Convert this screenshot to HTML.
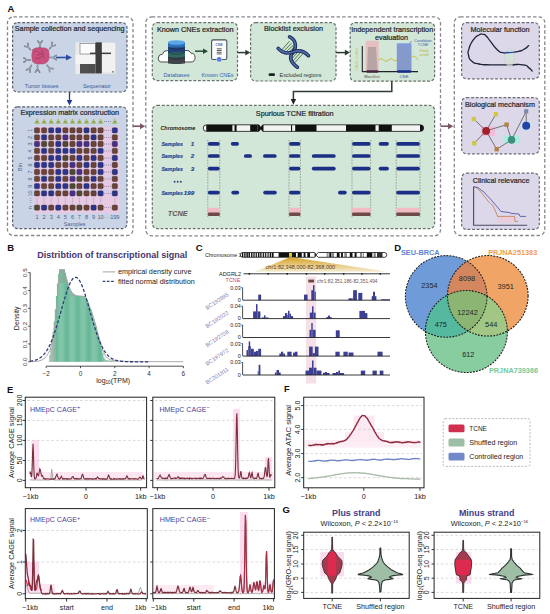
<!DOCTYPE html>
<html><head><meta charset="utf-8"><title>Figure</title>
<style>
html,body{margin:0;padding:0;background:#fff;}
body{width:550px;height:614px;overflow:hidden;}
svg{display:block;font-family:"Liberation Sans",sans-serif;}
</style></head><body>
<svg width="550" height="614" viewBox="0 0 550 614">
<rect x="0" y="0" width="550" height="614" fill="#fff"/>
<text x="7.5" y="12.3" font-size="9.5" fill="#111" text-anchor="start" font-weight="bold" >A</text>
<rect x="7.5" y="16.8" width="125.5" height="218.7" rx="6" fill="#fff" stroke="#85858f" stroke-width="1.3" stroke-dasharray="3.4,2.2" />
<rect x="145.8" y="16.8" width="294.7" height="219" rx="6" fill="#fff" stroke="#85858f" stroke-width="1.3" stroke-dasharray="3.4,2.2" />
<rect x="454.3" y="16.8" width="90.5" height="218.7" rx="6" fill="#fff" stroke="#85858f" stroke-width="1.3" stroke-dasharray="3.4,2.2" />
<rect x="12.6" y="22.6" width="114.4" height="69.4" rx="5" fill="#c9d5e6" stroke="#585e6b" stroke-width="1.2" stroke-dasharray="2.8,1.8" />
<rect x="12.6" y="106.8" width="114.4" height="121.8" rx="5" fill="#c9d5e6" stroke="#585e6b" stroke-width="1.2" stroke-dasharray="2.8,1.8" />
<rect x="152.3" y="22.6" width="85.2" height="58" rx="5" fill="#d2e7d7" stroke="#667168" stroke-width="1.2" stroke-dasharray="2.8,1.8" />
<rect x="250.6" y="22.6" width="85.4" height="58.4" rx="5" fill="#d2e7d7" stroke="#667168" stroke-width="1.2" stroke-dasharray="2.8,1.8" />
<rect x="350.2" y="22.6" width="84.4" height="58.6" rx="5" fill="#d2e7d7" stroke="#667168" stroke-width="1.2" stroke-dasharray="2.8,1.8" />
<rect x="152.3" y="105.4" width="282.3" height="123.2" rx="5" fill="#d2e7d7" stroke="#667168" stroke-width="1.2" stroke-dasharray="2.8,1.8" />
<rect x="461.6" y="22.6" width="77.7" height="56.2" rx="5" fill="#dcd8ea" stroke="#6a6876" stroke-width="1.2" stroke-dasharray="2.8,1.8" />
<rect x="461.6" y="97.6" width="77.7" height="56.2" rx="5" fill="#dcd8ea" stroke="#6a6876" stroke-width="1.2" stroke-dasharray="2.8,1.8" />
<rect x="461.6" y="173.2" width="77.7" height="56.2" rx="5" fill="#dcd8ea" stroke="#6a6876" stroke-width="1.2" stroke-dasharray="2.8,1.8" />
<text x="14.8" y="31.2" font-size="7.25" fill="#262a2f" text-anchor="start" stroke="#262a2f" stroke-width="0.22" textLength="109.7" lengthAdjust="spacingAndGlyphs">Sample collection and sequencing</text>
<text x="20.4" y="114.8" font-size="7.25" fill="#262a2f" text-anchor="start" stroke="#262a2f" stroke-width="0.22" textLength="98.6" lengthAdjust="spacingAndGlyphs">Expression matrix construction</text>
<text x="156.9" y="31.5" font-size="7.25" fill="#262a2f" text-anchor="start" stroke="#262a2f" stroke-width="0.22" textLength="76.6" lengthAdjust="spacingAndGlyphs">Known CNEs extraction</text>
<text x="264" y="31.2" font-size="7.25" fill="#262a2f" text-anchor="start" stroke="#262a2f" stroke-width="0.22" textLength="59" lengthAdjust="spacingAndGlyphs">Blocklist exclusion</text>
<text x="351.2" y="32.0" font-size="7.25" fill="#262a2f" text-anchor="start" stroke="#262a2f" stroke-width="0.22" textLength="82" lengthAdjust="spacingAndGlyphs">Independent transcription</text>
<text x="391.5" y="39.8" font-size="7.25" fill="#262a2f" text-anchor="middle" stroke="#262a2f" stroke-width="0.22">evaluation</text>
<text x="255.8" y="116.3" font-size="7.25" fill="#262a2f" text-anchor="start" stroke="#262a2f" stroke-width="0.22" textLength="77.8" lengthAdjust="spacingAndGlyphs">Spurious TCNE filtration</text>
<text x="470.5" y="31.5" font-size="7.25" fill="#262a2f" text-anchor="start" stroke="#262a2f" stroke-width="0.22" textLength="59" lengthAdjust="spacingAndGlyphs">Molecular function</text>
<text x="465" y="106.9" font-size="7.25" fill="#262a2f" text-anchor="start" stroke="#262a2f" stroke-width="0.22" textLength="70" lengthAdjust="spacingAndGlyphs">Biological mechanism</text>
<text x="472.7" y="182.5" font-size="7.25" fill="#262a2f" text-anchor="start" stroke="#262a2f" stroke-width="0.22" textLength="56.8" lengthAdjust="spacingAndGlyphs">Clinical relevance</text>
<path d="M132.8,126.2 L141,126.2" fill="none" stroke="#7d5563" stroke-width="1.6" />
<path d="M140,123.2 L145.2,126.2 L140,129.2 Z" fill="#7d5563" stroke="none" stroke-width="1" />
<path d="M440.8,126.2 L449,126.2" fill="none" stroke="#7d5563" stroke-width="1.6" />
<path d="M448,123.2 L453.4,126.2 L448,129.2 Z" fill="#7d5563" stroke="none" stroke-width="1" />
<path d="M69.5,92 L69.5,101" fill="none" stroke="#243a8a" stroke-width="1.3" />
<path d="M66.7,100 L69.5,105.5 L72.3,100 Z" fill="#243a8a" stroke="none" stroke-width="1" />
<g transform="translate(28.5,47.5) rotate(-40)"><path d="M0,3 L0,-0.5 M0,-0.5 L-2.2,-3.6 M0,-0.5 L2.2,-3.6" stroke="#5f6673" stroke-width="1.5" fill="none" stroke-linecap="round"/><path d="M0,3 L0,-0.5 M0,-0.5 L-2.2,-3.6 M0,-0.5 L2.2,-3.6" stroke="#b9bfca" stroke-width="0.6" fill="none" stroke-linecap="round"/></g>
<g transform="translate(40,44.5) rotate(0)"><path d="M0,3 L0,-0.5 M0,-0.5 L-2.2,-3.6 M0,-0.5 L2.2,-3.6" stroke="#5f6673" stroke-width="1.5" fill="none" stroke-linecap="round"/><path d="M0,3 L0,-0.5 M0,-0.5 L-2.2,-3.6 M0,-0.5 L2.2,-3.6" stroke="#b9bfca" stroke-width="0.6" fill="none" stroke-linecap="round"/></g>
<g transform="translate(51.5,46.5) rotate(40)"><path d="M0,3 L0,-0.5 M0,-0.5 L-2.2,-3.6 M0,-0.5 L2.2,-3.6" stroke="#5f6673" stroke-width="1.5" fill="none" stroke-linecap="round"/><path d="M0,3 L0,-0.5 M0,-0.5 L-2.2,-3.6 M0,-0.5 L2.2,-3.6" stroke="#b9bfca" stroke-width="0.6" fill="none" stroke-linecap="round"/></g>
<g transform="translate(52.5,57.5) rotate(90)"><path d="M0,3 L0,-0.5 M0,-0.5 L-2.2,-3.6 M0,-0.5 L2.2,-3.6" stroke="#5f6673" stroke-width="1.5" fill="none" stroke-linecap="round"/><path d="M0,3 L0,-0.5 M0,-0.5 L-2.2,-3.6 M0,-0.5 L2.2,-3.6" stroke="#b9bfca" stroke-width="0.6" fill="none" stroke-linecap="round"/></g>
<g transform="translate(49,67.5) rotate(140)"><path d="M0,3 L0,-0.5 M0,-0.5 L-2.2,-3.6 M0,-0.5 L2.2,-3.6" stroke="#5f6673" stroke-width="1.5" fill="none" stroke-linecap="round"/><path d="M0,3 L0,-0.5 M0,-0.5 L-2.2,-3.6 M0,-0.5 L2.2,-3.6" stroke="#b9bfca" stroke-width="0.6" fill="none" stroke-linecap="round"/></g>
<g transform="translate(37.5,68.5) rotate(180)"><path d="M0,3 L0,-0.5 M0,-0.5 L-2.2,-3.6 M0,-0.5 L2.2,-3.6" stroke="#5f6673" stroke-width="1.5" fill="none" stroke-linecap="round"/><path d="M0,3 L0,-0.5 M0,-0.5 L-2.2,-3.6 M0,-0.5 L2.2,-3.6" stroke="#b9bfca" stroke-width="0.6" fill="none" stroke-linecap="round"/></g>
<g transform="translate(30,68) rotate(-150)"><path d="M0,3 L0,-0.5 M0,-0.5 L-2.2,-3.6 M0,-0.5 L2.2,-3.6" stroke="#5f6673" stroke-width="1.5" fill="none" stroke-linecap="round"/><path d="M0,3 L0,-0.5 M0,-0.5 L-2.2,-3.6 M0,-0.5 L2.2,-3.6" stroke="#b9bfca" stroke-width="0.6" fill="none" stroke-linecap="round"/></g>
<g transform="translate(27.5,60) rotate(-90)"><path d="M0,3 L0,-0.5 M0,-0.5 L-2.2,-3.6 M0,-0.5 L2.2,-3.6" stroke="#5f6673" stroke-width="1.5" fill="none" stroke-linecap="round"/><path d="M0,3 L0,-0.5 M0,-0.5 L-2.2,-3.6 M0,-0.5 L2.2,-3.6" stroke="#b9bfca" stroke-width="0.6" fill="none" stroke-linecap="round"/></g>
<path d="M32.5,49.5 Q36,47 41,47.8 Q46.5,47 48.5,50 Q50,55.5 48.5,60.5 Q46,64.5 40.5,64 Q35,64.8 32.5,61.5 Q31,55.5 32.5,49.5 Z" fill="#c9507c" stroke="#9a3d62" stroke-width="0.4" />
<path d="M34,52 q3,-2 5,1 q2,3 5,0 M35,58 q3,2 6,-1 q2,-2 4,1 M42,50 q-1,4 2,6 M37,55 q2,1 3,-1" fill="none" stroke="#8a2f55" stroke-width="0.5" />
<path d="M56,57.5 L67,57.5" fill="none" stroke="#2c4fa3" stroke-width="1.6" />
<path d="M66,54.5 L72,57.5 L66,60.5 Z" fill="#2c4fa3" stroke="none" stroke-width="1" />
<rect x="75.5" y="42.5" width="40" height="31.5" rx="0" fill="#ebebeb" stroke="none" stroke-width="1" />
<rect x="101.8" y="42.5" width="13.7" height="30.5" rx="0" fill="#f1f1f1" stroke="#c8c8c8" stroke-width="0.4" />
<rect x="80" y="43.5" width="15.5" height="10.5" rx="0" fill="#fbfbfb" stroke="#555" stroke-width="0.5" />
<rect x="75.5" y="55" width="20" height="9" rx="0" fill="#f4f4f4" stroke="none" stroke-width="1" />
<rect x="95.5" y="42.3" width="6.3" height="31.2" rx="0" fill="#3d3d3d" stroke="none" stroke-width="1" />
<rect x="90" y="52.6" width="21" height="1.5" rx="0" fill="#3d3d3d" stroke="none" stroke-width="1" />
<rect x="80" y="64" width="15.5" height="9.5" rx="0" fill="#4e4e4e" stroke="none" stroke-width="1" />
<rect x="112" y="71.5" width="2" height="0.8" rx="0" fill="#333" stroke="none" stroke-width="1" />
<text x="24.8" y="87.5" font-size="5.5" fill="#3a5a96" text-anchor="start" textLength="33.6" lengthAdjust="spacingAndGlyphs">Tumor tissues</text>
<text x="83" y="87.5" font-size="5.5" fill="#3a5a96" text-anchor="start" textLength="27.8" lengthAdjust="spacingAndGlyphs">Sequenator</text>
<rect x="33" y="126.5" width="87" height="87" rx="0" fill="#e6c9e3" stroke="none" stroke-width="1" />
<rect x="33" y="133.5" width="87" height="3.0" rx="0" fill="#d2cfe6" stroke="none" stroke-width="1" opacity="0.7"/>
<rect x="33" y="147.5" width="87" height="3.0" rx="0" fill="#d2cfe6" stroke="none" stroke-width="1" opacity="0.7"/>
<rect x="33" y="161.5" width="87" height="3.0" rx="0" fill="#d2cfe6" stroke="none" stroke-width="1" opacity="0.7"/>
<rect x="33" y="175.5" width="87" height="3.0" rx="0" fill="#d2cfe6" stroke="none" stroke-width="1" opacity="0.7"/>
<rect x="33" y="189.5" width="87" height="3.0" rx="0" fill="#d2cfe6" stroke="none" stroke-width="1" opacity="0.7"/>
<rect x="34.35" y="127.65" width="5.3" height="5.3" rx="1.3" fill="#6c4236" stroke="#2a2a2a" stroke-width="0.35" />
<rect x="41.45" y="127.65" width="5.3" height="5.3" rx="1.3" fill="#6c4236" stroke="#2a2a2a" stroke-width="0.35" />
<rect x="48.55" y="127.65" width="5.3" height="5.3" rx="1.3" fill="#2c338f" stroke="#2a2a2a" stroke-width="0.35" />
<rect x="55.65" y="127.65" width="5.3" height="5.3" rx="1.3" fill="#2c338f" stroke="#2a2a2a" stroke-width="0.35" />
<rect x="62.75" y="127.65" width="5.3" height="5.3" rx="1.3" fill="#6c4236" stroke="#2a2a2a" stroke-width="0.35" />
<rect x="69.85" y="127.65" width="5.3" height="5.3" rx="1.3" fill="#6c4236" stroke="#2a2a2a" stroke-width="0.35" />
<rect x="76.75" y="127.65" width="5.3" height="5.3" rx="1.3" fill="#6c4236" stroke="#2a2a2a" stroke-width="0.35" />
<rect x="83.85" y="127.65" width="5.3" height="5.3" rx="1.3" fill="#2c338f" stroke="#2a2a2a" stroke-width="0.35" />
<rect x="90.95" y="127.65" width="5.3" height="5.3" rx="1.3" fill="#6c4236" stroke="#2a2a2a" stroke-width="0.35" />
<rect x="97.95" y="127.65" width="5.3" height="5.3" rx="1.3" fill="#6c4236" stroke="#2a2a2a" stroke-width="0.35" />
<rect x="112.15" y="127.65" width="5.3" height="5.3" rx="1.3" fill="#2c338f" stroke="#2a2a2a" stroke-width="0.35" />
<rect x="34.35" y="134.75" width="5.3" height="5.3" rx="1.3" fill="#6c4236" stroke="#2a2a2a" stroke-width="0.35" />
<rect x="41.45" y="134.75" width="5.3" height="5.3" rx="1.3" fill="#2c338f" stroke="#2a2a2a" stroke-width="0.35" />
<rect x="48.55" y="134.75" width="5.3" height="5.3" rx="1.3" fill="#6c4236" stroke="#2a2a2a" stroke-width="0.35" />
<rect x="55.65" y="134.75" width="5.3" height="5.3" rx="1.3" fill="#6c4236" stroke="#2a2a2a" stroke-width="0.35" />
<rect x="62.75" y="134.75" width="5.3" height="5.3" rx="1.3" fill="#4b2e8a" stroke="#2a2a2a" stroke-width="0.35" />
<rect x="69.85" y="134.75" width="5.3" height="5.3" rx="1.3" fill="#6c4236" stroke="#2a2a2a" stroke-width="0.35" />
<rect x="76.75" y="134.75" width="5.3" height="5.3" rx="1.3" fill="#6c4236" stroke="#2a2a2a" stroke-width="0.35" />
<rect x="83.85" y="134.75" width="5.3" height="5.3" rx="1.3" fill="#6c4236" stroke="#2a2a2a" stroke-width="0.35" />
<rect x="90.95" y="134.75" width="5.3" height="5.3" rx="1.3" fill="#2c338f" stroke="#2a2a2a" stroke-width="0.35" />
<rect x="97.95" y="134.75" width="5.3" height="5.3" rx="1.3" fill="#6c4236" stroke="#2a2a2a" stroke-width="0.35" />
<rect x="112.15" y="134.75" width="5.3" height="5.3" rx="1.3" fill="#6c4236" stroke="#2a2a2a" stroke-width="0.35" />
<rect x="34.35" y="141.35" width="5.3" height="5.3" rx="1.3" fill="#4b2e8a" stroke="#2a2a2a" stroke-width="0.35" />
<rect x="41.45" y="141.35" width="5.3" height="5.3" rx="1.3" fill="#4f4930" stroke="#2a2a2a" stroke-width="0.35" />
<rect x="48.55" y="141.35" width="5.3" height="5.3" rx="1.3" fill="#6c4236" stroke="#2a2a2a" stroke-width="0.35" />
<rect x="55.65" y="141.35" width="5.3" height="5.3" rx="1.3" fill="#2c338f" stroke="#2a2a2a" stroke-width="0.35" />
<rect x="62.75" y="141.35" width="5.3" height="5.3" rx="1.3" fill="#4f4930" stroke="#2a2a2a" stroke-width="0.35" />
<rect x="69.85" y="141.35" width="5.3" height="5.3" rx="1.3" fill="#6c4236" stroke="#2a2a2a" stroke-width="0.35" />
<rect x="76.75" y="141.35" width="5.3" height="5.3" rx="1.3" fill="#4b2e8a" stroke="#2a2a2a" stroke-width="0.35" />
<rect x="83.85" y="141.35" width="5.3" height="5.3" rx="1.3" fill="#4b2e8a" stroke="#2a2a2a" stroke-width="0.35" />
<rect x="90.95" y="141.35" width="5.3" height="5.3" rx="1.3" fill="#6c4236" stroke="#2a2a2a" stroke-width="0.35" />
<rect x="97.95" y="141.35" width="5.3" height="5.3" rx="1.3" fill="#6c4236" stroke="#2a2a2a" stroke-width="0.35" />
<rect x="112.15" y="141.35" width="5.3" height="5.3" rx="1.3" fill="#4b2e8a" stroke="#2a2a2a" stroke-width="0.35" />
<rect x="34.35" y="148.25" width="5.3" height="5.3" rx="1.3" fill="#6c4236" stroke="#2a2a2a" stroke-width="0.35" />
<rect x="41.45" y="148.25" width="5.3" height="5.3" rx="1.3" fill="#2c338f" stroke="#2a2a2a" stroke-width="0.35" />
<rect x="48.55" y="148.25" width="5.3" height="5.3" rx="1.3" fill="#6c4236" stroke="#2a2a2a" stroke-width="0.35" />
<rect x="55.65" y="148.25" width="5.3" height="5.3" rx="1.3" fill="#2c338f" stroke="#2a2a2a" stroke-width="0.35" />
<rect x="62.75" y="148.25" width="5.3" height="5.3" rx="1.3" fill="#2c338f" stroke="#2a2a2a" stroke-width="0.35" />
<rect x="69.85" y="148.25" width="5.3" height="5.3" rx="1.3" fill="#2c338f" stroke="#2a2a2a" stroke-width="0.35" />
<rect x="76.75" y="148.25" width="5.3" height="5.3" rx="1.3" fill="#6c4236" stroke="#2a2a2a" stroke-width="0.35" />
<rect x="83.85" y="148.25" width="5.3" height="5.3" rx="1.3" fill="#6c4236" stroke="#2a2a2a" stroke-width="0.35" />
<rect x="90.95" y="148.25" width="5.3" height="5.3" rx="1.3" fill="#6c4236" stroke="#2a2a2a" stroke-width="0.35" />
<rect x="97.95" y="148.25" width="5.3" height="5.3" rx="1.3" fill="#2c338f" stroke="#2a2a2a" stroke-width="0.35" />
<rect x="112.15" y="148.25" width="5.3" height="5.3" rx="1.3" fill="#6c4236" stroke="#2a2a2a" stroke-width="0.35" />
<rect x="34.35" y="155.35" width="5.3" height="5.3" rx="1.3" fill="#6c4236" stroke="#2a2a2a" stroke-width="0.35" />
<rect x="41.45" y="155.35" width="5.3" height="5.3" rx="1.3" fill="#6c4236" stroke="#2a2a2a" stroke-width="0.35" />
<rect x="48.55" y="155.35" width="5.3" height="5.3" rx="1.3" fill="#2c338f" stroke="#2a2a2a" stroke-width="0.35" />
<rect x="55.65" y="155.35" width="5.3" height="5.3" rx="1.3" fill="#2c338f" stroke="#2a2a2a" stroke-width="0.35" />
<rect x="62.75" y="155.35" width="5.3" height="5.3" rx="1.3" fill="#4f4930" stroke="#2a2a2a" stroke-width="0.35" />
<rect x="69.85" y="155.35" width="5.3" height="5.3" rx="1.3" fill="#6c4236" stroke="#2a2a2a" stroke-width="0.35" />
<rect x="76.75" y="155.35" width="5.3" height="5.3" rx="1.3" fill="#2c338f" stroke="#2a2a2a" stroke-width="0.35" />
<rect x="83.85" y="155.35" width="5.3" height="5.3" rx="1.3" fill="#6c4236" stroke="#2a2a2a" stroke-width="0.35" />
<rect x="90.95" y="155.35" width="5.3" height="5.3" rx="1.3" fill="#2c338f" stroke="#2a2a2a" stroke-width="0.35" />
<rect x="97.95" y="155.35" width="5.3" height="5.3" rx="1.3" fill="#6c4236" stroke="#2a2a2a" stroke-width="0.35" />
<rect x="112.15" y="155.35" width="5.3" height="5.3" rx="1.3" fill="#2c338f" stroke="#2a2a2a" stroke-width="0.35" />
<rect x="34.35" y="162.35" width="5.3" height="5.3" rx="1.3" fill="#2c338f" stroke="#2a2a2a" stroke-width="0.35" />
<rect x="41.45" y="162.35" width="5.3" height="5.3" rx="1.3" fill="#2c338f" stroke="#2a2a2a" stroke-width="0.35" />
<rect x="48.55" y="162.35" width="5.3" height="5.3" rx="1.3" fill="#2c338f" stroke="#2a2a2a" stroke-width="0.35" />
<rect x="55.65" y="162.35" width="5.3" height="5.3" rx="1.3" fill="#6c4236" stroke="#2a2a2a" stroke-width="0.35" />
<rect x="62.75" y="162.35" width="5.3" height="5.3" rx="1.3" fill="#6c4236" stroke="#2a2a2a" stroke-width="0.35" />
<rect x="69.85" y="162.35" width="5.3" height="5.3" rx="1.3" fill="#4b2e8a" stroke="#2a2a2a" stroke-width="0.35" />
<rect x="76.75" y="162.35" width="5.3" height="5.3" rx="1.3" fill="#6c4236" stroke="#2a2a2a" stroke-width="0.35" />
<rect x="83.85" y="162.35" width="5.3" height="5.3" rx="1.3" fill="#2c338f" stroke="#2a2a2a" stroke-width="0.35" />
<rect x="90.95" y="162.35" width="5.3" height="5.3" rx="1.3" fill="#6c4236" stroke="#2a2a2a" stroke-width="0.35" />
<rect x="97.95" y="162.35" width="5.3" height="5.3" rx="1.3" fill="#2c338f" stroke="#2a2a2a" stroke-width="0.35" />
<rect x="112.15" y="162.35" width="5.3" height="5.3" rx="1.3" fill="#6c4236" stroke="#2a2a2a" stroke-width="0.35" />
<rect x="34.35" y="169.35" width="5.3" height="5.3" rx="1.3" fill="#6c4236" stroke="#2a2a2a" stroke-width="0.35" />
<rect x="41.45" y="169.35" width="5.3" height="5.3" rx="1.3" fill="#6c4236" stroke="#2a2a2a" stroke-width="0.35" />
<rect x="48.55" y="169.35" width="5.3" height="5.3" rx="1.3" fill="#6c4236" stroke="#2a2a2a" stroke-width="0.35" />
<rect x="55.65" y="169.35" width="5.3" height="5.3" rx="1.3" fill="#2c338f" stroke="#2a2a2a" stroke-width="0.35" />
<rect x="62.75" y="169.35" width="5.3" height="5.3" rx="1.3" fill="#2c338f" stroke="#2a2a2a" stroke-width="0.35" />
<rect x="69.85" y="169.35" width="5.3" height="5.3" rx="1.3" fill="#4f4930" stroke="#2a2a2a" stroke-width="0.35" />
<rect x="76.75" y="169.35" width="5.3" height="5.3" rx="1.3" fill="#4b2e8a" stroke="#2a2a2a" stroke-width="0.35" />
<rect x="83.85" y="169.35" width="5.3" height="5.3" rx="1.3" fill="#6c4236" stroke="#2a2a2a" stroke-width="0.35" />
<rect x="90.95" y="169.35" width="5.3" height="5.3" rx="1.3" fill="#6c4236" stroke="#2a2a2a" stroke-width="0.35" />
<rect x="97.95" y="169.35" width="5.3" height="5.3" rx="1.3" fill="#2c338f" stroke="#2a2a2a" stroke-width="0.35" />
<rect x="112.15" y="169.35" width="5.3" height="5.3" rx="1.3" fill="#2c338f" stroke="#2a2a2a" stroke-width="0.35" />
<rect x="34.35" y="176.25" width="5.3" height="5.3" rx="1.3" fill="#6c4236" stroke="#2a2a2a" stroke-width="0.35" />
<rect x="41.45" y="176.25" width="5.3" height="5.3" rx="1.3" fill="#2c338f" stroke="#2a2a2a" stroke-width="0.35" />
<rect x="48.55" y="176.25" width="5.3" height="5.3" rx="1.3" fill="#6c4236" stroke="#2a2a2a" stroke-width="0.35" />
<rect x="55.65" y="176.25" width="5.3" height="5.3" rx="1.3" fill="#2c338f" stroke="#2a2a2a" stroke-width="0.35" />
<rect x="62.75" y="176.25" width="5.3" height="5.3" rx="1.3" fill="#6c4236" stroke="#2a2a2a" stroke-width="0.35" />
<rect x="69.85" y="176.25" width="5.3" height="5.3" rx="1.3" fill="#4b2e8a" stroke="#2a2a2a" stroke-width="0.35" />
<rect x="76.75" y="176.25" width="5.3" height="5.3" rx="1.3" fill="#4f4930" stroke="#2a2a2a" stroke-width="0.35" />
<rect x="83.85" y="176.25" width="5.3" height="5.3" rx="1.3" fill="#6c4236" stroke="#2a2a2a" stroke-width="0.35" />
<rect x="90.95" y="176.25" width="5.3" height="5.3" rx="1.3" fill="#2c338f" stroke="#2a2a2a" stroke-width="0.35" />
<rect x="97.95" y="176.25" width="5.3" height="5.3" rx="1.3" fill="#6c4236" stroke="#2a2a2a" stroke-width="0.35" />
<rect x="112.15" y="176.25" width="5.3" height="5.3" rx="1.3" fill="#6c4236" stroke="#2a2a2a" stroke-width="0.35" />
<rect x="34.35" y="183.55" width="5.3" height="5.3" rx="1.3" fill="#2c338f" stroke="#2a2a2a" stroke-width="0.35" />
<rect x="41.45" y="183.55" width="5.3" height="5.3" rx="1.3" fill="#6c4236" stroke="#2a2a2a" stroke-width="0.35" />
<rect x="48.55" y="183.55" width="5.3" height="5.3" rx="1.3" fill="#6c4236" stroke="#2a2a2a" stroke-width="0.35" />
<rect x="55.65" y="183.55" width="5.3" height="5.3" rx="1.3" fill="#2c338f" stroke="#2a2a2a" stroke-width="0.35" />
<rect x="62.75" y="183.55" width="5.3" height="5.3" rx="1.3" fill="#2c338f" stroke="#2a2a2a" stroke-width="0.35" />
<rect x="69.85" y="183.55" width="5.3" height="5.3" rx="1.3" fill="#4f4930" stroke="#2a2a2a" stroke-width="0.35" />
<rect x="76.75" y="183.55" width="5.3" height="5.3" rx="1.3" fill="#6c4236" stroke="#2a2a2a" stroke-width="0.35" />
<rect x="83.85" y="183.55" width="5.3" height="5.3" rx="1.3" fill="#2c338f" stroke="#2a2a2a" stroke-width="0.35" />
<rect x="90.95" y="183.55" width="5.3" height="5.3" rx="1.3" fill="#6c4236" stroke="#2a2a2a" stroke-width="0.35" />
<rect x="97.95" y="183.55" width="5.3" height="5.3" rx="1.3" fill="#6c4236" stroke="#2a2a2a" stroke-width="0.35" />
<rect x="112.15" y="183.55" width="5.3" height="5.3" rx="1.3" fill="#6c4236" stroke="#2a2a2a" stroke-width="0.35" />
<rect x="34.35" y="190.75" width="5.3" height="5.3" rx="1.3" fill="#6c4236" stroke="#2a2a2a" stroke-width="0.35" />
<rect x="41.45" y="190.75" width="5.3" height="5.3" rx="1.3" fill="#2c338f" stroke="#2a2a2a" stroke-width="0.35" />
<rect x="48.55" y="190.75" width="5.3" height="5.3" rx="1.3" fill="#2c338f" stroke="#2a2a2a" stroke-width="0.35" />
<rect x="55.65" y="190.75" width="5.3" height="5.3" rx="1.3" fill="#6c4236" stroke="#2a2a2a" stroke-width="0.35" />
<rect x="62.75" y="190.75" width="5.3" height="5.3" rx="1.3" fill="#6c4236" stroke="#2a2a2a" stroke-width="0.35" />
<rect x="69.85" y="190.75" width="5.3" height="5.3" rx="1.3" fill="#4b2e8a" stroke="#2a2a2a" stroke-width="0.35" />
<rect x="76.75" y="190.75" width="5.3" height="5.3" rx="1.3" fill="#4f4930" stroke="#2a2a2a" stroke-width="0.35" />
<rect x="83.85" y="190.75" width="5.3" height="5.3" rx="1.3" fill="#6c4236" stroke="#2a2a2a" stroke-width="0.35" />
<rect x="90.95" y="190.75" width="5.3" height="5.3" rx="1.3" fill="#6c4236" stroke="#2a2a2a" stroke-width="0.35" />
<rect x="97.95" y="190.75" width="5.3" height="5.3" rx="1.3" fill="#2c338f" stroke="#2a2a2a" stroke-width="0.35" />
<rect x="112.15" y="190.75" width="5.3" height="5.3" rx="1.3" fill="#2c338f" stroke="#2a2a2a" stroke-width="0.35" />
<rect x="34.35" y="204.95" width="5.3" height="5.3" rx="1.3" fill="#4f4930" stroke="#2a2a2a" stroke-width="0.35" />
<rect x="41.45" y="204.95" width="5.3" height="5.3" rx="1.3" fill="#2c338f" stroke="#2a2a2a" stroke-width="0.35" />
<rect x="48.55" y="204.95" width="5.3" height="5.3" rx="1.3" fill="#6c4236" stroke="#2a2a2a" stroke-width="0.35" />
<rect x="55.65" y="204.95" width="5.3" height="5.3" rx="1.3" fill="#2c338f" stroke="#2a2a2a" stroke-width="0.35" />
<rect x="62.75" y="204.95" width="5.3" height="5.3" rx="1.3" fill="#6c4236" stroke="#2a2a2a" stroke-width="0.35" />
<rect x="69.85" y="204.95" width="5.3" height="5.3" rx="1.3" fill="#6c4236" stroke="#2a2a2a" stroke-width="0.35" />
<rect x="76.75" y="204.95" width="5.3" height="5.3" rx="1.3" fill="#4f4930" stroke="#2a2a2a" stroke-width="0.35" />
<rect x="83.85" y="204.95" width="5.3" height="5.3" rx="1.3" fill="#6c4236" stroke="#2a2a2a" stroke-width="0.35" />
<rect x="90.95" y="204.95" width="5.3" height="5.3" rx="1.3" fill="#2c338f" stroke="#2a2a2a" stroke-width="0.35" />
<rect x="97.95" y="204.95" width="5.3" height="5.3" rx="1.3" fill="#6c4236" stroke="#2a2a2a" stroke-width="0.35" />
<rect x="112.15" y="204.95" width="5.3" height="5.3" rx="1.3" fill="#6c4236" stroke="#2a2a2a" stroke-width="0.35" />
<path d="M34.6,123.5 L37,118.8 L39.4,123.5 Z" fill="#c8c35a" stroke="#9a9a45" stroke-width="0.3" />
<rect x="35.7" y="121.2" width="2.6" height="1.6" rx="0" fill="#6aa86a" stroke="none" stroke-width="1" />
<path d="M41.7,123.5 L44.1,118.8 L46.5,123.5 Z" fill="#c8c35a" stroke="#9a9a45" stroke-width="0.3" />
<rect x="42.800000000000004" y="121.2" width="2.6" height="1.6" rx="0" fill="#6aa86a" stroke="none" stroke-width="1" />
<path d="M48.800000000000004,123.5 L51.2,118.8 L53.6,123.5 Z" fill="#c8c35a" stroke="#9a9a45" stroke-width="0.3" />
<rect x="49.900000000000006" y="121.2" width="2.6" height="1.6" rx="0" fill="#6aa86a" stroke="none" stroke-width="1" />
<path d="M55.9,123.5 L58.3,118.8 L60.699999999999996,123.5 Z" fill="#c8c35a" stroke="#9a9a45" stroke-width="0.3" />
<rect x="57.0" y="121.2" width="2.6" height="1.6" rx="0" fill="#6aa86a" stroke="none" stroke-width="1" />
<path d="M63.00000000000001,123.5 L65.4,118.8 L67.80000000000001,123.5 Z" fill="#c8c35a" stroke="#9a9a45" stroke-width="0.3" />
<rect x="64.10000000000001" y="121.2" width="2.6" height="1.6" rx="0" fill="#6aa86a" stroke="none" stroke-width="1" />
<path d="M70.1,123.5 L72.5,118.8 L74.9,123.5 Z" fill="#c8c35a" stroke="#9a9a45" stroke-width="0.3" />
<rect x="71.2" y="121.2" width="2.6" height="1.6" rx="0" fill="#6aa86a" stroke="none" stroke-width="1" />
<path d="M77.0,123.5 L79.4,118.8 L81.80000000000001,123.5 Z" fill="#c8c35a" stroke="#9a9a45" stroke-width="0.3" />
<rect x="78.10000000000001" y="121.2" width="2.6" height="1.6" rx="0" fill="#6aa86a" stroke="none" stroke-width="1" />
<path d="M84.1,123.5 L86.5,118.8 L88.9,123.5 Z" fill="#c8c35a" stroke="#9a9a45" stroke-width="0.3" />
<rect x="85.2" y="121.2" width="2.6" height="1.6" rx="0" fill="#6aa86a" stroke="none" stroke-width="1" />
<path d="M91.19999999999999,123.5 L93.6,118.8 L96.0,123.5 Z" fill="#c8c35a" stroke="#9a9a45" stroke-width="0.3" />
<rect x="92.3" y="121.2" width="2.6" height="1.6" rx="0" fill="#6aa86a" stroke="none" stroke-width="1" />
<path d="M98.19999999999999,123.5 L100.6,118.8 L103.0,123.5 Z" fill="#c8c35a" stroke="#9a9a45" stroke-width="0.3" />
<rect x="99.3" y="121.2" width="2.6" height="1.6" rx="0" fill="#6aa86a" stroke="none" stroke-width="1" />
<path d="M112.39999999999999,123.5 L114.8,118.8 L117.2,123.5 Z" fill="#c8c35a" stroke="#9a9a45" stroke-width="0.3" />
<rect x="113.5" y="121.2" width="2.6" height="1.6" rx="0" fill="#6aa86a" stroke="none" stroke-width="1" />
<circle cx="104.4" cy="130.3" r="0.45" fill="#3d4a72"/>
<circle cx="106.3" cy="130.3" r="0.45" fill="#3d4a72"/>
<circle cx="108.2" cy="130.3" r="0.45" fill="#3d4a72"/>
<circle cx="110.1" cy="130.3" r="0.45" fill="#3d4a72"/>
<circle cx="104.4" cy="137.4" r="0.45" fill="#3d4a72"/>
<circle cx="106.3" cy="137.4" r="0.45" fill="#3d4a72"/>
<circle cx="108.2" cy="137.4" r="0.45" fill="#3d4a72"/>
<circle cx="110.1" cy="137.4" r="0.45" fill="#3d4a72"/>
<circle cx="104.4" cy="144.0" r="0.45" fill="#3d4a72"/>
<circle cx="106.3" cy="144.0" r="0.45" fill="#3d4a72"/>
<circle cx="108.2" cy="144.0" r="0.45" fill="#3d4a72"/>
<circle cx="110.1" cy="144.0" r="0.45" fill="#3d4a72"/>
<circle cx="104.4" cy="150.9" r="0.45" fill="#3d4a72"/>
<circle cx="106.3" cy="150.9" r="0.45" fill="#3d4a72"/>
<circle cx="108.2" cy="150.9" r="0.45" fill="#3d4a72"/>
<circle cx="110.1" cy="150.9" r="0.45" fill="#3d4a72"/>
<circle cx="104.4" cy="158.0" r="0.45" fill="#3d4a72"/>
<circle cx="106.3" cy="158.0" r="0.45" fill="#3d4a72"/>
<circle cx="108.2" cy="158.0" r="0.45" fill="#3d4a72"/>
<circle cx="110.1" cy="158.0" r="0.45" fill="#3d4a72"/>
<circle cx="104.4" cy="165.0" r="0.45" fill="#3d4a72"/>
<circle cx="106.3" cy="165.0" r="0.45" fill="#3d4a72"/>
<circle cx="108.2" cy="165.0" r="0.45" fill="#3d4a72"/>
<circle cx="110.1" cy="165.0" r="0.45" fill="#3d4a72"/>
<circle cx="104.4" cy="172.0" r="0.45" fill="#3d4a72"/>
<circle cx="106.3" cy="172.0" r="0.45" fill="#3d4a72"/>
<circle cx="108.2" cy="172.0" r="0.45" fill="#3d4a72"/>
<circle cx="110.1" cy="172.0" r="0.45" fill="#3d4a72"/>
<circle cx="104.4" cy="178.9" r="0.45" fill="#3d4a72"/>
<circle cx="106.3" cy="178.9" r="0.45" fill="#3d4a72"/>
<circle cx="108.2" cy="178.9" r="0.45" fill="#3d4a72"/>
<circle cx="110.1" cy="178.9" r="0.45" fill="#3d4a72"/>
<circle cx="104.4" cy="186.2" r="0.45" fill="#3d4a72"/>
<circle cx="106.3" cy="186.2" r="0.45" fill="#3d4a72"/>
<circle cx="108.2" cy="186.2" r="0.45" fill="#3d4a72"/>
<circle cx="110.1" cy="186.2" r="0.45" fill="#3d4a72"/>
<circle cx="104.4" cy="193.4" r="0.45" fill="#3d4a72"/>
<circle cx="106.3" cy="193.4" r="0.45" fill="#3d4a72"/>
<circle cx="108.2" cy="193.4" r="0.45" fill="#3d4a72"/>
<circle cx="110.1" cy="193.4" r="0.45" fill="#3d4a72"/>
<circle cx="104.4" cy="207.6" r="0.45" fill="#3d4a72"/>
<circle cx="106.3" cy="207.6" r="0.45" fill="#3d4a72"/>
<circle cx="108.2" cy="207.6" r="0.45" fill="#3d4a72"/>
<circle cx="110.1" cy="207.6" r="0.45" fill="#3d4a72"/>
<circle cx="104.4" cy="121.5" r="0.45" fill="#3d4a72"/>
<circle cx="106.3" cy="121.5" r="0.45" fill="#3d4a72"/>
<circle cx="108.2" cy="121.5" r="0.45" fill="#3d4a72"/>
<circle cx="110.1" cy="121.5" r="0.45" fill="#3d4a72"/>
<line x1="37" y1="198" x2="37" y2="203.5" stroke="#6a6a8a" stroke-width="0.5" stroke-dasharray="0.8,0.8" />
<line x1="44.1" y1="198" x2="44.1" y2="203.5" stroke="#6a6a8a" stroke-width="0.5" stroke-dasharray="0.8,0.8" />
<line x1="51.2" y1="198" x2="51.2" y2="203.5" stroke="#6a6a8a" stroke-width="0.5" stroke-dasharray="0.8,0.8" />
<line x1="58.3" y1="198" x2="58.3" y2="203.5" stroke="#6a6a8a" stroke-width="0.5" stroke-dasharray="0.8,0.8" />
<line x1="65.4" y1="198" x2="65.4" y2="203.5" stroke="#6a6a8a" stroke-width="0.5" stroke-dasharray="0.8,0.8" />
<line x1="72.5" y1="198" x2="72.5" y2="203.5" stroke="#6a6a8a" stroke-width="0.5" stroke-dasharray="0.8,0.8" />
<line x1="79.4" y1="198" x2="79.4" y2="203.5" stroke="#6a6a8a" stroke-width="0.5" stroke-dasharray="0.8,0.8" />
<line x1="86.5" y1="198" x2="86.5" y2="203.5" stroke="#6a6a8a" stroke-width="0.5" stroke-dasharray="0.8,0.8" />
<line x1="93.6" y1="198" x2="93.6" y2="203.5" stroke="#6a6a8a" stroke-width="0.5" stroke-dasharray="0.8,0.8" />
<line x1="100.6" y1="198" x2="100.6" y2="203.5" stroke="#6a6a8a" stroke-width="0.5" stroke-dasharray="0.8,0.8" />
<line x1="114.8" y1="198" x2="114.8" y2="203.5" stroke="#6a6a8a" stroke-width="0.5" stroke-dasharray="0.8,0.8" />
<text transform="translate(31.5,130.3) rotate(-90)" font-size="5.5" fill="#4a5e8c" text-anchor="middle">1</text>
<text transform="translate(31.5,137.4) rotate(-90)" font-size="5.5" fill="#4a5e8c" text-anchor="middle">2</text>
<text transform="translate(31.5,144.0) rotate(-90)" font-size="5.5" fill="#4a5e8c" text-anchor="middle">3</text>
<text transform="translate(31.5,150.9) rotate(-90)" font-size="5.5" fill="#4a5e8c" text-anchor="middle">4</text>
<text transform="translate(31.5,158.0) rotate(-90)" font-size="5.5" fill="#4a5e8c" text-anchor="middle">5</text>
<text transform="translate(31.5,165.0) rotate(-90)" font-size="5.5" fill="#4a5e8c" text-anchor="middle">6</text>
<text transform="translate(31.5,172.0) rotate(-90)" font-size="5.5" fill="#4a5e8c" text-anchor="middle">7</text>
<text transform="translate(31.5,178.9) rotate(-90)" font-size="5.5" fill="#4a5e8c" text-anchor="middle">8</text>
<text transform="translate(31.5,186.2) rotate(-90)" font-size="5.5" fill="#4a5e8c" text-anchor="middle">9</text>
<text transform="translate(31.5,193.4) rotate(-90)" font-size="5.5" fill="#4a5e8c" text-anchor="middle">10</text>
<text transform="translate(31.5,207.6) rotate(-90)" font-size="5.5" fill="#4a5e8c" text-anchor="middle">n</text>
<text transform="translate(31.5,200.5) rotate(-90)" font-size="5" fill="#4a5e8c" text-anchor="middle">⋯</text>
<text transform="translate(21.5,167) rotate(-90)" font-size="5.5" fill="#4a5e8c" text-anchor="middle">Bin</text>
<text x="37" y="219.3" font-size="5.6" fill="#4a5e8c" text-anchor="middle" >1</text>
<text x="44.1" y="219.3" font-size="5.6" fill="#4a5e8c" text-anchor="middle" >2</text>
<text x="51.2" y="219.3" font-size="5.6" fill="#4a5e8c" text-anchor="middle" >3</text>
<text x="58.3" y="219.3" font-size="5.6" fill="#4a5e8c" text-anchor="middle" >4</text>
<text x="65.4" y="219.3" font-size="5.6" fill="#4a5e8c" text-anchor="middle" >5</text>
<text x="72.5" y="219.3" font-size="5.6" fill="#4a5e8c" text-anchor="middle" >6</text>
<text x="79.4" y="219.3" font-size="5.6" fill="#4a5e8c" text-anchor="middle" >7</text>
<text x="86.5" y="219.3" font-size="5.6" fill="#4a5e8c" text-anchor="middle" >8</text>
<text x="93.6" y="219.3" font-size="5.6" fill="#4a5e8c" text-anchor="middle" >9</text>
<text x="100.6" y="219.3" font-size="5.6" fill="#4a5e8c" text-anchor="middle" >10</text>
<text x="107" y="219.3" font-size="5" fill="#4a5e8c" text-anchor="middle" >····</text>
<text x="114.8" y="219.3" font-size="5.6" fill="#4a5e8c" text-anchor="middle" >199</text>
<text x="74.7" y="226.0" font-size="5.6" fill="#4a5e8c" text-anchor="middle" >Samples</text>
<path d="M162,62 Q158,62 158.3,58 Q158.6,54.2 162.5,54.2 Q163,50.5 167.5,50.5 L186,50.5 Q189.5,49.8 191,53.2 Q195,53.2 195,57.6 Q195,62 191,62 Z" fill="#fff" stroke="#3a3a3a" stroke-width="0.9" />
<rect x="168.0" y="42.5" width="17.0" height="21.0" rx="0" fill="#3c4148" stroke="none" stroke-width="1" />
<rect x="168.0" y="42.5" width="17.0" height="4.9" rx="0" fill="#2f6fb8" stroke="none" stroke-width="1" />
<ellipse cx="176.5" cy="47.4" rx="8.5" ry="2.0" fill="#2f6fb8"/>
<rect x="168.0" y="47.4" width="17.0" height="4.9" rx="0" fill="#22417a" stroke="none" stroke-width="1" />
<ellipse cx="176.5" cy="52.3" rx="8.5" ry="2.0" fill="#22417a"/>
<rect x="168.0" y="52.3" width="17.0" height="4.9" rx="0" fill="#2e6a62" stroke="none" stroke-width="1" />
<ellipse cx="176.5" cy="57.199999999999996" rx="8.5" ry="2.0" fill="#2e6a62"/>
<rect x="168.0" y="57.2" width="17.0" height="4.9" rx="0" fill="#3e4449" stroke="none" stroke-width="1" />
<ellipse cx="176.5" cy="62.1" rx="8.5" ry="2.0" fill="#3e4449"/>
<ellipse cx="176.5" cy="42.5" rx="8.5" ry="2.3" fill="#5aa6e8"/>
<path d="M168.0,47.4 Q176.5,51.4 185.0,47.4" fill="none" stroke="#16202c" stroke-width="0.5" />
<path d="M168.0,52.3 Q176.5,56.3 185.0,52.3" fill="none" stroke="#16202c" stroke-width="0.5" />
<path d="M168.0,57.2 Q176.5,61.2 185.0,57.2" fill="none" stroke="#16202c" stroke-width="0.5" />
<path d="M195,51.2 L203.5,51.2" fill="none" stroke="#274a38" stroke-width="1.5" />
<path d="M203,48.4 L208,51.2 L203,54 Z" fill="#274a38" stroke="none" stroke-width="1" />
<rect x="211.6" y="39.9" width="15.2" height="19.6" rx="1.5" fill="#fbfbfb" stroke="#46525a" stroke-width="1.1" />
<text x="219.2" y="45.8" font-size="3.4" fill="#4a6ab0" text-anchor="middle" font-weight="bold" >CNE</text>
<rect x="216.8" y="48.4" width="4.8" height="0.9" rx="0" fill="#4a4a4a" stroke="none" stroke-width="1" />
<rect x="216.8" y="50.1" width="4.8" height="0.9" rx="0" fill="#4a4a4a" stroke="none" stroke-width="1" />
<rect x="216.8" y="51.8" width="4.8" height="0.9" rx="0" fill="#4a4a4a" stroke="none" stroke-width="1" />
<rect x="216.8" y="53.5" width="4.8" height="0.9" rx="0" fill="#4a4a4a" stroke="none" stroke-width="1" />
<circle cx="219.2" cy="59.4" r="2.7" fill="#3e6ad0" stroke="#fff" stroke-width="0.6"/>
<path d="M218,59.4 L219,60.4 L220.6,58.5" fill="none" stroke="#fff" stroke-width="0.5" />
<text x="163.4" y="76.5" font-size="5.5" fill="#3a5fae" text-anchor="start" textLength="26.2" lengthAdjust="spacingAndGlyphs">Databases</text>
<text x="201.5" y="76.5" font-size="5.5" fill="#3a5fae" text-anchor="start" textLength="32" lengthAdjust="spacingAndGlyphs">Known CNEs</text>
<path d="M237.6,52.6 L245.8,52.6" fill="none" stroke="#2a3a30" stroke-width="1.5" />
<path d="M245.3,49.8 L250.3,52.6 L245.3,55.4 Z" fill="#2a3a30" stroke="none" stroke-width="1" />
<path d="M336.1,52.6 L345.4,52.6" fill="none" stroke="#2a3a30" stroke-width="1.5" />
<path d="M344.9,49.8 L349.9,52.6 L344.9,55.4 Z" fill="#2a3a30" stroke="none" stroke-width="1" />
<line x1="281.5" y1="50.3" x2="289.5" y2="41.2" stroke="#2e5a30" stroke-width="0.8" />
<line x1="283.5" y1="51.5" x2="291.5" y2="43.2" stroke="#2e5a30" stroke-width="0.8" />
<line x1="285.5" y1="52.4" x2="293" y2="45.5" stroke="#2e5a30" stroke-width="0.8" />
<line x1="287.8" y1="53" x2="293.8" y2="48" stroke="#2e5a30" stroke-width="0.8" />
<line x1="291" y1="56.5" x2="296" y2="51.8" stroke="#2e5a30" stroke-width="0.8" />
<line x1="291.5" y1="59" x2="298.5" y2="51.5" stroke="#2e5a30" stroke-width="0.8" />
<line x1="292.5" y1="61.5" x2="301" y2="52" stroke="#2e5a30" stroke-width="0.8" />
<line x1="294" y1="63.5" x2="303.5" y2="53" stroke="#2e5a30" stroke-width="0.8" />
<path d="M289.6,36.9 C296,40 297,47 293,52 C289,57 290,62 297.4,67.2" fill="none" stroke="#1f2b52" stroke-width="3.6" stroke-linecap="round"/>
<path d="M289.6,36.9 C296,40 297,47 293,52 C289,57 290,62 297.4,67.2" fill="none" stroke="#4d69ab" stroke-width="1.7" stroke-linecap="round"/>
<path d="M278.2,48.4 C282,53 288,54 293,52 C298,50 303,50 308.5,55.7" fill="none" stroke="#1f2b52" stroke-width="3.6" stroke-linecap="round"/>
<path d="M278.2,48.4 C282,53 288,54 293,52 C298,50 303,50 308.5,55.7" fill="none" stroke="#4d69ab" stroke-width="1.7" stroke-linecap="round"/>
<rect x="268.6" y="73.2" width="6.4" height="2.8" rx="1.2" fill="#1f2326" stroke="none" stroke-width="1" />
<text x="279.5" y="76.5" font-size="5.5" fill="#333" text-anchor="start" textLength="41.9" lengthAdjust="spacingAndGlyphs">Excluded regions</text>
<rect x="365.7" y="40.8" width="13" height="30.7" rx="0" fill="#e9b9be" stroke="none" stroke-width="1" opacity="0.9"/>
<path d="M367,71.5 L368,47 L376,47 L377.5,71.5 Z" fill="#a89a9c" stroke="none" stroke-width="1" opacity="0.75"/>
<rect x="396.8" y="43.3" width="14.7" height="28.2" rx="0" fill="#7f9bdc" stroke="none" stroke-width="1" />
<path d="M397.5,71.5 L398.5,46 L410,46 L411,71.5 Z" fill="#8f96b4" stroke="none" stroke-width="1" opacity="0.45"/>
<path d="M378.5,60 q2.5,-3 5,0 q2.5,3 5,0 q2.5,-3 5,0 q2,2 3.5,0 M411.5,57 q2.5,-2 4,0 q1.5,2 3,3" fill="none" stroke="#c9bb45" stroke-width="1.0" />
<line x1="362.3" y1="46" x2="362.3" y2="72" stroke="#222" stroke-width="1.1" />
<line x1="362.3" y1="71.6" x2="418" y2="71.6" stroke="#222" stroke-width="1.1" />
<rect x="366.2" y="70.3" width="12.3" height="2.5" rx="1.2" fill="#4a2340" stroke="none" stroke-width="1" />
<rect x="397" y="70.3" width="14.3" height="2.5" rx="1.2" fill="#142c8a" stroke="none" stroke-width="1" />
<text transform="translate(358,59) rotate(-90)" font-size="3.6" fill="#c9bb45" text-anchor="middle">CAGE profiles</text>
<text x="372" y="77.8" font-size="4.2" fill="#5a4a55" text-anchor="middle" >Blocklist</text>
<text x="404" y="77.8" font-size="4.2" fill="#3a4aa0" text-anchor="middle" >CNE</text>
<text x="423" y="41.5" font-size="3.8" fill="#3a5ab0" text-anchor="middle" >Candidate</text>
<text x="423" y="45.8" font-size="3.8" fill="#3a5ab0" text-anchor="middle" >TCNE</text>
<text x="424" y="52" font-size="3.8" fill="#b8b040" text-anchor="middle" >Peak</text>
<text x="424" y="56.3" font-size="3.8" fill="#b8b040" text-anchor="middle" >cutoff</text>
<path d="M412,41 L409,43.5" fill="none" stroke="#3a5ab0" stroke-width="0.5" />
<path d="M391.8,81.2 L391.8,91.6 L293.4,91.6 L293.4,100" fill="none" stroke="#2f3a33" stroke-width="1.5" />
<path d="M290.7,99 L293.4,104.8 L296.1,99 Z" fill="#222" stroke="none" stroke-width="1" />
<clipPath id="cp203"><path d="M206.5,124.8 L258.8,124.8 L260.8,127.5 L262.8,124.8 L420.3,124.8 A3.3,3.3 0 0 1 420.3,131.4 L262.8,131.4 L260.8,128.7 L258.8,131.4 L206.5,131.4 A3.3,3.3 0 0 1 206.5,124.8 Z"/></clipPath>
<path d="M206.5,124.8 L258.8,124.8 L260.8,127.5 L262.8,124.8 L420.3,124.8 A3.3,3.3 0 0 1 420.3,131.4 L262.8,131.4 L260.8,128.7 L258.8,131.4 L206.5,131.4 A3.3,3.3 0 0 1 206.5,124.8 Z" fill="#f4f4f4" stroke="none" stroke-width="1" />
<g clip-path="url(#cp203)">
<rect x="206.3" y="124.8" width="26.1" height="6.6" rx="0" fill="#111" stroke="none" stroke-width="1" />
<rect x="234.5" y="124.8" width="2.1" height="6.6" rx="0" fill="#111" stroke="none" stroke-width="1" />
<rect x="250.2" y="124.8" width="7.3" height="6.6" rx="0" fill="#111" stroke="none" stroke-width="1" />
<rect x="257.5" y="124.8" width="6" height="6.6" rx="0" fill="#111" stroke="none" stroke-width="1" />
<rect x="291" y="124.8" width="1.1" height="6.6" rx="0" fill="#111" stroke="none" stroke-width="1" />
<rect x="295.2" y="124.8" width="21.3" height="6.6" rx="0" fill="#111" stroke="none" stroke-width="1" />
<rect x="346" y="124.8" width="29.5" height="6.6" rx="0" fill="#111" stroke="none" stroke-width="1" />
<rect x="378.7" y="124.8" width="13.1" height="6.6" rx="0" fill="#111" stroke="none" stroke-width="1" />
<rect x="420" y="124.8" width="4" height="6.6" rx="0" fill="#111" stroke="none" stroke-width="1" />
</g>
<path d="M206.5,124.8 L258.8,124.8 L260.8,127.5 L262.8,124.8 L420.3,124.8 A3.3,3.3 0 0 1 420.3,131.4 L262.8,131.4 L260.8,128.7 L258.8,131.4 L206.5,131.4 A3.3,3.3 0 0 1 206.5,124.8 Z" fill="none" stroke="#111" stroke-width="0.8" />
<text x="160.4" y="130.2" font-size="5.6" fill="#1a1a1a" text-anchor="start" font-weight="bold" font-style="italic" textLength="35" lengthAdjust="spacingAndGlyphs">Chromosome</text>
<text x="161.4" y="146.0" font-size="6.2" fill="#2d4592" text-anchor="start" font-weight="bold" font-style="italic" stroke="#2d4592" stroke-width="0.2" textLength="21.4" lengthAdjust="spacingAndGlyphs">Samples</text>
<text x="194.2" y="146.0" font-size="6.2" fill="#2d4592" text-anchor="end" font-weight="bold" font-style="italic" stroke="#2d4592" stroke-width="0.2">1</text>
<text x="161.4" y="158.2" font-size="6.2" fill="#2d4592" text-anchor="start" font-weight="bold" font-style="italic" stroke="#2d4592" stroke-width="0.2" textLength="21.4" lengthAdjust="spacingAndGlyphs">Samples</text>
<text x="194.2" y="158.2" font-size="6.2" fill="#2d4592" text-anchor="end" font-weight="bold" font-style="italic" stroke="#2d4592" stroke-width="0.2">2</text>
<text x="161.4" y="170.79999999999998" font-size="6.2" fill="#2d4592" text-anchor="start" font-weight="bold" font-style="italic" stroke="#2d4592" stroke-width="0.2" textLength="21.4" lengthAdjust="spacingAndGlyphs">Samples</text>
<text x="194.2" y="170.79999999999998" font-size="6.2" fill="#2d4592" text-anchor="end" font-weight="bold" font-style="italic" stroke="#2d4592" stroke-width="0.2">3</text>
<text x="161.4" y="194.79999999999998" font-size="6.2" fill="#2d4592" text-anchor="start" font-weight="bold" font-style="italic" stroke="#2d4592" stroke-width="0.2" textLength="21.4" lengthAdjust="spacingAndGlyphs">Samples</text>
<text x="194.2" y="194.79999999999998" font-size="6.2" fill="#2d4592" text-anchor="end" font-weight="bold" font-style="italic" stroke="#2d4592" stroke-width="0.2">199</text>
<circle cx="174.6" cy="181.7" r="0.95" fill="#2d3f80"/>
<circle cx="177.7" cy="181.7" r="0.95" fill="#2d3f80"/>
<circle cx="180.8" cy="181.7" r="0.95" fill="#2d3f80"/>
<rect x="207.8" y="141.95000000000002" width="12.0" height="3.7" rx="1.85" fill="#1c2f86" stroke="none" stroke-width="1" />
<rect x="230.8" y="141.95000000000002" width="8.199999999999989" height="3.7" rx="1.85" fill="#1c2f86" stroke="none" stroke-width="1" />
<rect x="289" y="141.95000000000002" width="11.399999999999977" height="3.7" rx="1.85" fill="#1c2f86" stroke="none" stroke-width="1" />
<rect x="352" y="141.95000000000002" width="18.600000000000023" height="3.7" rx="1.85" fill="#1c2f86" stroke="none" stroke-width="1" />
<rect x="378.7" y="141.95000000000002" width="10.199999999999989" height="3.7" rx="1.85" fill="#1c2f86" stroke="none" stroke-width="1" />
<rect x="396.2" y="141.95000000000002" width="23.80000000000001" height="3.7" rx="1.85" fill="#1c2f86" stroke="none" stroke-width="1" />
<rect x="207.8" y="154.15" width="12.0" height="3.7" rx="1.85" fill="#1c2f86" stroke="none" stroke-width="1" />
<rect x="243.9" y="154.15" width="8.099999999999994" height="3.7" rx="1.85" fill="#1c2f86" stroke="none" stroke-width="1" />
<rect x="263" y="154.15" width="13.699999999999989" height="3.7" rx="1.85" fill="#1c2f86" stroke="none" stroke-width="1" />
<rect x="289" y="154.15" width="11.399999999999977" height="3.7" rx="1.85" fill="#1c2f86" stroke="none" stroke-width="1" />
<rect x="311.8" y="154.15" width="23.899999999999977" height="3.7" rx="1.85" fill="#1c2f86" stroke="none" stroke-width="1" />
<rect x="352" y="154.15" width="18.600000000000023" height="3.7" rx="1.85" fill="#1c2f86" stroke="none" stroke-width="1" />
<rect x="396.2" y="154.15" width="23.80000000000001" height="3.7" rx="1.85" fill="#1c2f86" stroke="none" stroke-width="1" />
<rect x="207.8" y="166.75" width="12.0" height="3.7" rx="1.85" fill="#1c2f86" stroke="none" stroke-width="1" />
<rect x="289" y="166.75" width="11.399999999999977" height="3.7" rx="1.85" fill="#1c2f86" stroke="none" stroke-width="1" />
<rect x="311.8" y="166.75" width="23.899999999999977" height="3.7" rx="1.85" fill="#1c2f86" stroke="none" stroke-width="1" />
<rect x="352" y="166.75" width="18.600000000000023" height="3.7" rx="1.85" fill="#1c2f86" stroke="none" stroke-width="1" />
<rect x="378.7" y="166.75" width="10.199999999999989" height="3.7" rx="1.85" fill="#1c2f86" stroke="none" stroke-width="1" />
<rect x="396.2" y="166.75" width="23.80000000000001" height="3.7" rx="1.85" fill="#1c2f86" stroke="none" stroke-width="1" />
<rect x="207.8" y="190.75" width="12.0" height="3.7" rx="1.85" fill="#1c2f86" stroke="none" stroke-width="1" />
<rect x="231.3" y="190.75" width="7.899999999999977" height="3.7" rx="1.85" fill="#1c2f86" stroke="none" stroke-width="1" />
<rect x="263.2" y="190.75" width="13.600000000000023" height="3.7" rx="1.85" fill="#1c2f86" stroke="none" stroke-width="1" />
<rect x="289" y="190.75" width="11.399999999999977" height="3.7" rx="1.85" fill="#1c2f86" stroke="none" stroke-width="1" />
<rect x="338" y="190.75" width="8.699999999999989" height="3.7" rx="1.85" fill="#1c2f86" stroke="none" stroke-width="1" />
<rect x="352" y="190.75" width="18.600000000000023" height="3.7" rx="1.85" fill="#1c2f86" stroke="none" stroke-width="1" />
<rect x="396.2" y="190.75" width="23.80000000000001" height="3.7" rx="1.85" fill="#1c2f86" stroke="none" stroke-width="1" />
<line x1="207.8" y1="140" x2="207.8" y2="217" stroke="#6a6a6a" stroke-width="0.55" stroke-dasharray="1.6,1.2" />
<line x1="219.8" y1="140" x2="219.8" y2="217" stroke="#6a6a6a" stroke-width="0.55" stroke-dasharray="1.6,1.2" />
<rect x="207.8" y="207.8" width="12.0" height="5.6" rx="0" fill="#f1bcc6" stroke="none" stroke-width="1" />
<rect x="207.8" y="212.6" width="12.0" height="3.4" rx="1.3" fill="#6e4b47" stroke="none" stroke-width="1" />
<line x1="289" y1="140" x2="289" y2="217" stroke="#6a6a6a" stroke-width="0.55" stroke-dasharray="1.6,1.2" />
<line x1="300.4" y1="140" x2="300.4" y2="217" stroke="#6a6a6a" stroke-width="0.55" stroke-dasharray="1.6,1.2" />
<rect x="289" y="207.8" width="11.399999999999977" height="5.6" rx="0" fill="#f1bcc6" stroke="none" stroke-width="1" />
<rect x="289" y="212.6" width="11.399999999999977" height="3.4" rx="1.3" fill="#6e4b47" stroke="none" stroke-width="1" />
<line x1="352" y1="140" x2="352" y2="217" stroke="#6a6a6a" stroke-width="0.55" stroke-dasharray="1.6,1.2" />
<line x1="370.6" y1="140" x2="370.6" y2="217" stroke="#6a6a6a" stroke-width="0.55" stroke-dasharray="1.6,1.2" />
<rect x="352" y="207.8" width="18.600000000000023" height="5.6" rx="0" fill="#f1bcc6" stroke="none" stroke-width="1" />
<rect x="352" y="212.6" width="18.600000000000023" height="3.4" rx="1.3" fill="#6e4b47" stroke="none" stroke-width="1" />
<line x1="396.2" y1="140" x2="396.2" y2="217" stroke="#6a6a6a" stroke-width="0.55" stroke-dasharray="1.6,1.2" />
<line x1="420" y1="140" x2="420" y2="217" stroke="#6a6a6a" stroke-width="0.55" stroke-dasharray="1.6,1.2" />
<rect x="396.2" y="207.8" width="23.80000000000001" height="5.6" rx="0" fill="#f1bcc6" stroke="none" stroke-width="1" />
<rect x="396.2" y="212.6" width="23.80000000000001" height="3.4" rx="1.3" fill="#6e4b47" stroke="none" stroke-width="1" />
<text x="167.7" y="216.4" font-size="7.2" fill="#6b5550" text-anchor="start" font-weight="bold" font-style="italic" textLength="19.9" lengthAdjust="spacingAndGlyphs">TCNE</text>
<path d="M528.70,45.60 C527.13,46.83 527.33,47.40 524.00,49.30 C520.67,51.20 523.30,50.17 518.70,51.30 C514.10,52.43 515.40,52.23 510.20,52.70 C505.00,53.17 507.33,53.63 503.10,52.70 C498.87,51.77 501.73,53.70 497.50,49.90 C493.27,46.10 494.20,45.97 490.40,41.30 C486.60,36.63 488.57,38.20 486.10,35.90 C483.63,33.60 485.37,34.70 483.00,34.40 C480.63,34.10 482.23,33.17 479.00,35.00 C475.77,36.83 476.60,35.43 473.30,39.90 C470.00,44.37 470.67,43.20 469.10,48.40 C467.53,53.60 467.67,51.23 468.60,55.50 C469.53,59.77 468.43,58.37 471.90,61.20 C475.37,64.03 472.83,62.80 479.00,64.00 C485.17,65.20 480.47,64.53 490.40,64.80 C500.33,65.07 497.93,64.80 508.80,64.80 C519.67,64.80 516.37,63.87 523.00,64.80 C529.63,65.73 525.63,65.50 528.70,67.60 C531.77,69.70 531.03,69.93 532.20,71.10" fill="none" stroke="#1f2335" stroke-width="1.3" stroke-linecap="round"/>
<ellipse cx="509.5" cy="57.7" rx="5.0" ry="9.0" fill="#d2e4da" stroke="#b8ccc4" stroke-width="0.4" opacity="0.9"/>
<ellipse cx="509.5" cy="62.5" rx="4.2" ry="3.5" fill="#e8d0d4" opacity="0.3"/>
<path d="M504.5,52.8 L513.5,52.4" fill="none" stroke="#2b4bb0" stroke-width="1.4" />
<path d="M504.8,64.8 L514,64.8" fill="none" stroke="#1f2335" stroke-width="1.0" opacity="0.35"/>
<rect x="481" y="126.6" width="14" height="9.4" rx="0" fill="#f2bcd8" stroke="none" stroke-width="1" />
<rect x="504" y="135.5" width="16" height="7.8" rx="0" fill="#a6eede" stroke="none" stroke-width="1" />
<rect x="521" y="120.5" width="10.5" height="10.5" rx="5" fill="#c8e4f0" stroke="none" stroke-width="1" />
<line x1="486.1" y1="130.9" x2="473.8" y2="119.1" stroke="#6e6468" stroke-width="0.9" />
<line x1="486.1" y1="130.9" x2="495.9" y2="114.2" stroke="#6e6468" stroke-width="0.9" />
<line x1="486.1" y1="130.9" x2="474.3" y2="143.2" stroke="#6e6468" stroke-width="0.9" />
<line x1="486.1" y1="130.9" x2="506.6" y2="124.7" stroke="#6e6468" stroke-width="0.9" />
<line x1="486.1" y1="130.9" x2="496.7" y2="149.2" stroke="#6e6468" stroke-width="0.9" />
<line x1="506.6" y1="124.7" x2="511.5" y2="139.9" stroke="#6e6468" stroke-width="0.9" />
<line x1="496.7" y1="149.2" x2="511.5" y2="139.9" stroke="#6e6468" stroke-width="0.9" />
<line x1="511.5" y1="139.9" x2="526.2" y2="111.3" stroke="#6e6468" stroke-width="0.9" />
<line x1="526.2" y1="111.3" x2="526.2" y2="125.7" stroke="#6e6468" stroke-width="0.9" />
<rect x="471.6" y="116.89999999999999" width="4.4" height="4.4" rx="0" fill="#cfc64a" stroke="none" stroke-width="1" />
<rect x="493.7" y="112.0" width="4.4" height="4.4" rx="0" fill="#cfc64a" stroke="none" stroke-width="1" />
<rect x="472.1" y="141.0" width="4.4" height="4.4" rx="0" fill="#cfc64a" stroke="none" stroke-width="1" />
<rect x="504.40000000000003" y="122.5" width="4.4" height="4.4" rx="0" fill="#b0824a" stroke="none" stroke-width="1" />
<rect x="494.5" y="147.0" width="4.4" height="4.4" rx="0" fill="#b0824a" stroke="none" stroke-width="1" />
<rect x="524.1" y="109.2" width="4.2" height="4.2" rx="0" fill="#7f8aa8" stroke="none" stroke-width="1" />
<circle cx="486.1" cy="130.9" r="3.9" fill="#a0202e"/>
<circle cx="511.5" cy="139.9" r="3.8" fill="#3f8f7c"/>
<circle cx="526.2" cy="125.7" r="4.0" fill="#2442a8"/>
<rect x="497" y="216.5" width="18" height="6" rx="0" fill="#f0c6d4" stroke="none" stroke-width="1" opacity="0.6"/>
<path d="M473.6,186.4 L473.6,225.3 L527.2,225.3" fill="none" stroke="#4a4a66" stroke-width="1.1" />
<path d="M474,186.8 L477,188 L480,191 L482.5,194 L485,197 L488,201 L490.5,203.5 L493,206 L495,210 L497.5,216.4 L514.5,216.4 L515.2,221.5 L518,221.5" fill="none" stroke="#c8845e" stroke-width="0.9" />
<path d="M474,186.8 L478,187.5 L481,190 L484,192 L487,195.5 L490,198.5 L493,202 L496,205.5 L499,209 L501,211.5 L509,212.5 L512,213.5 L519,214 L520,216.4 L526,216.4" fill="none" stroke="#5757a8" stroke-width="0.9" />
<text x="7.2" y="250.8" font-size="9.5" fill="#111" text-anchor="start" font-weight="bold" >B</text>
<text x="37.3" y="257.6" font-size="9.0" fill="#45346f" text-anchor="start" font-weight="bold" textLength="150" lengthAdjust="spacingAndGlyphs">Distribtion of transcriptional signal</text>
<rect x="49.4" y="355.0" width="1.15" height="6.8" rx="0" fill="#97aaa0" stroke="none" stroke-width="1" />
<rect x="50.5" y="348.33" width="1.15" height="13.47" rx="0" fill="#97aaa0" stroke="none" stroke-width="1" />
<rect x="51.6" y="340.8" width="1.15" height="21.0" rx="0" fill="#97aaa0" stroke="none" stroke-width="1" />
<rect x="52.7" y="332.0" width="1.15" height="29.8" rx="0" fill="#97aaa0" stroke="none" stroke-width="1" />
<rect x="53.8" y="321.5" width="1.15" height="40.3" rx="0" fill="#97aaa0" stroke="none" stroke-width="1" />
<rect x="54.9" y="309.38" width="1.15" height="52.43" rx="0" fill="#97aaa0" stroke="none" stroke-width="1" />
<rect x="56.0" y="295.96" width="1.15" height="65.84" rx="0" fill="#5db492" stroke="none" stroke-width="1" />
<rect x="57.1" y="283.62" width="1.15" height="78.18" rx="0" fill="#5db492" stroke="none" stroke-width="1" />
<rect x="58.2" y="273.77" width="1.15" height="88.03" rx="0" fill="#5db492" stroke="none" stroke-width="1" />
<rect x="59.3" y="269.4" width="1.15" height="92.4" rx="0" fill="#5db492" stroke="none" stroke-width="1" />
<rect x="59.3" y="269.4" width="1.15" height="13.6" rx="0" fill="#86a596" stroke="none" stroke-width="1" />
<rect x="60.4" y="269.4" width="1.15" height="92.4" rx="0" fill="#5db492" stroke="none" stroke-width="1" />
<rect x="60.4" y="269.4" width="1.15" height="13.6" rx="0" fill="#86a596" stroke="none" stroke-width="1" />
<rect x="61.5" y="269.4" width="1.15" height="92.4" rx="0" fill="#5db492" stroke="none" stroke-width="1" />
<rect x="61.5" y="269.4" width="1.15" height="13.6" rx="0" fill="#86a596" stroke="none" stroke-width="1" />
<rect x="62.6" y="269.4" width="1.15" height="92.4" rx="0" fill="#5db492" stroke="none" stroke-width="1" />
<rect x="62.6" y="269.4" width="1.15" height="13.6" rx="0" fill="#86a596" stroke="none" stroke-width="1" />
<rect x="63.7" y="269.4" width="1.15" height="92.4" rx="0" fill="#5db492" stroke="none" stroke-width="1" />
<rect x="63.7" y="269.4" width="1.15" height="13.6" rx="0" fill="#86a596" stroke="none" stroke-width="1" />
<rect x="64.8" y="273.34" width="1.15" height="88.46" rx="0" fill="#5db492" stroke="none" stroke-width="1" />
<rect x="64.8" y="273.34" width="1.15" height="9.66" rx="0" fill="#86a596" stroke="none" stroke-width="1" />
<rect x="65.9" y="279.29" width="1.15" height="82.51" rx="0" fill="#5db492" stroke="none" stroke-width="1" />
<rect x="65.9" y="279.29" width="1.15" height="3.71" rx="0" fill="#86a596" stroke="none" stroke-width="1" />
<rect x="67.0" y="282.47" width="1.15" height="79.33" rx="0" fill="#5db492" stroke="none" stroke-width="1" />
<rect x="68.1" y="285.91" width="1.15" height="75.89" rx="0" fill="#5db492" stroke="none" stroke-width="1" />
<rect x="69.2" y="288.58" width="1.15" height="73.22" rx="0" fill="#5db492" stroke="none" stroke-width="1" />
<rect x="70.3" y="290.88" width="1.15" height="70.92" rx="0" fill="#5db492" stroke="none" stroke-width="1" />
<rect x="70.3" y="290.88" width="1.15" height="5.62" rx="0" fill="#9aaca2" stroke="none" stroke-width="1" />
<rect x="71.4" y="292.63" width="1.15" height="69.17" rx="0" fill="#5db492" stroke="none" stroke-width="1" />
<rect x="71.4" y="292.63" width="1.15" height="3.87" rx="0" fill="#9aaca2" stroke="none" stroke-width="1" />
<rect x="72.5" y="293.99" width="1.15" height="67.81" rx="0" fill="#5db492" stroke="none" stroke-width="1" />
<rect x="72.5" y="293.99" width="1.15" height="2.51" rx="0" fill="#9aaca2" stroke="none" stroke-width="1" />
<rect x="73.6" y="294.96" width="1.15" height="66.84" rx="0" fill="#5db492" stroke="none" stroke-width="1" />
<rect x="73.6" y="294.96" width="1.15" height="1.54" rx="0" fill="#9aaca2" stroke="none" stroke-width="1" />
<rect x="74.7" y="295.4" width="1.15" height="66.4" rx="0" fill="#5db492" stroke="none" stroke-width="1" />
<rect x="74.7" y="295.4" width="1.15" height="1.1" rx="0" fill="#9aaca2" stroke="none" stroke-width="1" />
<rect x="75.8" y="295.83" width="1.15" height="65.97" rx="0" fill="#5db492" stroke="none" stroke-width="1" />
<rect x="75.8" y="295.83" width="1.15" height="0.67" rx="0" fill="#9aaca2" stroke="none" stroke-width="1" />
<rect x="76.9" y="296.0" width="1.15" height="65.8" rx="0" fill="#5db492" stroke="none" stroke-width="1" />
<rect x="76.9" y="296.0" width="1.15" height="0.5" rx="0" fill="#9aaca2" stroke="none" stroke-width="1" />
<rect x="78.0" y="296.0" width="1.15" height="65.8" rx="0" fill="#5db492" stroke="none" stroke-width="1" />
<rect x="79.1" y="296.0" width="1.15" height="65.8" rx="0" fill="#5db492" stroke="none" stroke-width="1" />
<rect x="80.2" y="296.0" width="1.15" height="65.8" rx="0" fill="#5db492" stroke="none" stroke-width="1" />
<rect x="81.3" y="296.0" width="1.15" height="65.8" rx="0" fill="#5db492" stroke="none" stroke-width="1" />
<rect x="82.4" y="296.0" width="1.15" height="65.8" rx="0" fill="#5db492" stroke="none" stroke-width="1" />
<rect x="83.5" y="296.0" width="1.15" height="65.8" rx="0" fill="#5db492" stroke="none" stroke-width="1" />
<rect x="84.6" y="296.0" width="1.15" height="65.8" rx="0" fill="#5db492" stroke="none" stroke-width="1" />
<rect x="85.7" y="298.11" width="1.15" height="63.69" rx="0" fill="#5db492" stroke="none" stroke-width="1" />
<rect x="86.8" y="300.56" width="1.15" height="61.24" rx="0" fill="#5db492" stroke="none" stroke-width="1" />
<rect x="87.9" y="303.24" width="1.15" height="58.56" rx="0" fill="#5db492" stroke="none" stroke-width="1" />
<rect x="89.0" y="306.26" width="1.15" height="55.54" rx="0" fill="#5db492" stroke="none" stroke-width="1" />
<rect x="90.1" y="309.29" width="1.15" height="52.51" rx="0" fill="#5db492" stroke="none" stroke-width="1" />
<rect x="91.2" y="312.31" width="1.15" height="49.49" rx="0" fill="#5db492" stroke="none" stroke-width="1" />
<rect x="92.3" y="315.76" width="1.15" height="46.04" rx="0" fill="#5db492" stroke="none" stroke-width="1" />
<rect x="93.4" y="319.34" width="1.15" height="42.46" rx="0" fill="#5db492" stroke="none" stroke-width="1" />
<rect x="94.5" y="322.91" width="1.15" height="38.89" rx="0" fill="#5db492" stroke="none" stroke-width="1" />
<rect x="95.6" y="326.6" width="1.15" height="35.2" rx="0" fill="#5db492" stroke="none" stroke-width="1" />
<rect x="96.7" y="331.0" width="1.15" height="30.8" rx="0" fill="#5db492" stroke="none" stroke-width="1" />
<rect x="97.8" y="335.4" width="1.15" height="26.4" rx="0" fill="#5db492" stroke="none" stroke-width="1" />
<rect x="98.9" y="339.8" width="1.15" height="22.0" rx="0" fill="#5db492" stroke="none" stroke-width="1" />
<rect x="100.0" y="344.2" width="1.15" height="17.6" rx="0" fill="#5db492" stroke="none" stroke-width="1" />
<rect x="101.1" y="348.6" width="1.15" height="13.2" rx="0" fill="#5db492" stroke="none" stroke-width="1" />
<rect x="102.2" y="353.0" width="1.15" height="8.8" rx="0" fill="#5db492" stroke="none" stroke-width="1" />
<rect x="103.3" y="357.4" width="1.15" height="4.4" rx="0" fill="#5db492" stroke="none" stroke-width="1" />
<rect x="104.4" y="358.95" width="1.15" height="2.85" rx="0" fill="#97aaa0" stroke="none" stroke-width="1" />
<rect x="105.5" y="360.01" width="1.15" height="1.79" rx="0" fill="#97aaa0" stroke="none" stroke-width="1" />
<rect x="106.6" y="360.23" width="1.15" height="1.57" rx="0" fill="#97aaa0" stroke="none" stroke-width="1" />
<rect x="107.7" y="360.45" width="1.15" height="1.35" rx="0" fill="#97aaa0" stroke="none" stroke-width="1" />
<rect x="108.8" y="360.67" width="1.15" height="1.13" rx="0" fill="#97aaa0" stroke="none" stroke-width="1" />
<rect x="109.9" y="360.84" width="1.15" height="0.96" rx="0" fill="#97aaa0" stroke="none" stroke-width="1" />
<rect x="111.0" y="360.95" width="1.15" height="0.85" rx="0" fill="#97aaa0" stroke="none" stroke-width="1" />
<rect x="112.1" y="361.06" width="1.15" height="0.74" rx="0" fill="#97aaa0" stroke="none" stroke-width="1" />
<rect x="113.2" y="361.18" width="1.15" height="0.62" rx="0" fill="#97aaa0" stroke="none" stroke-width="1" />
<rect x="114.3" y="361.28" width="1.15" height="0.52" rx="0" fill="#97aaa0" stroke="none" stroke-width="1" />
<rect x="115.4" y="361.39" width="1.15" height="0.41" rx="0" fill="#97aaa0" stroke="none" stroke-width="1" />
<line x1="49.4" y1="355.0" x2="49.4" y2="361.8" stroke="#8fcab0" stroke-width="0.25" />
<line x1="50.5" y1="348.33" x2="50.5" y2="361.8" stroke="#8fcab0" stroke-width="0.25" />
<line x1="51.6" y1="340.8" x2="51.6" y2="361.8" stroke="#8fcab0" stroke-width="0.25" />
<line x1="52.7" y1="332.0" x2="52.7" y2="361.8" stroke="#8fcab0" stroke-width="0.25" />
<line x1="53.8" y1="321.5" x2="53.8" y2="361.8" stroke="#8fcab0" stroke-width="0.25" />
<line x1="54.9" y1="309.38" x2="54.9" y2="361.8" stroke="#8fcab0" stroke-width="0.25" />
<line x1="56.0" y1="295.96" x2="56.0" y2="361.8" stroke="#8fcab0" stroke-width="0.25" />
<line x1="57.1" y1="283.62" x2="57.1" y2="361.8" stroke="#8fcab0" stroke-width="0.25" />
<line x1="58.2" y1="273.77" x2="58.2" y2="361.8" stroke="#8fcab0" stroke-width="0.25" />
<line x1="59.3" y1="269.4" x2="59.3" y2="361.8" stroke="#8fcab0" stroke-width="0.25" />
<line x1="60.4" y1="269.4" x2="60.4" y2="361.8" stroke="#8fcab0" stroke-width="0.25" />
<line x1="61.5" y1="269.4" x2="61.5" y2="361.8" stroke="#8fcab0" stroke-width="0.25" />
<line x1="62.6" y1="269.4" x2="62.6" y2="361.8" stroke="#8fcab0" stroke-width="0.25" />
<line x1="63.7" y1="269.4" x2="63.7" y2="361.8" stroke="#8fcab0" stroke-width="0.25" />
<line x1="64.8" y1="273.34" x2="64.8" y2="361.8" stroke="#8fcab0" stroke-width="0.25" />
<line x1="65.9" y1="279.29" x2="65.9" y2="361.8" stroke="#8fcab0" stroke-width="0.25" />
<line x1="67.0" y1="282.47" x2="67.0" y2="361.8" stroke="#8fcab0" stroke-width="0.25" />
<line x1="68.1" y1="285.91" x2="68.1" y2="361.8" stroke="#8fcab0" stroke-width="0.25" />
<line x1="69.2" y1="288.58" x2="69.2" y2="361.8" stroke="#8fcab0" stroke-width="0.25" />
<line x1="70.3" y1="290.88" x2="70.3" y2="361.8" stroke="#8fcab0" stroke-width="0.25" />
<line x1="71.4" y1="292.63" x2="71.4" y2="361.8" stroke="#8fcab0" stroke-width="0.25" />
<line x1="72.5" y1="293.99" x2="72.5" y2="361.8" stroke="#8fcab0" stroke-width="0.25" />
<line x1="73.6" y1="294.96" x2="73.6" y2="361.8" stroke="#8fcab0" stroke-width="0.25" />
<line x1="74.7" y1="295.4" x2="74.7" y2="361.8" stroke="#8fcab0" stroke-width="0.25" />
<line x1="75.8" y1="295.83" x2="75.8" y2="361.8" stroke="#8fcab0" stroke-width="0.25" />
<line x1="76.9" y1="296.0" x2="76.9" y2="361.8" stroke="#8fcab0" stroke-width="0.25" />
<line x1="78.0" y1="296.0" x2="78.0" y2="361.8" stroke="#8fcab0" stroke-width="0.25" />
<line x1="79.1" y1="296.0" x2="79.1" y2="361.8" stroke="#8fcab0" stroke-width="0.25" />
<line x1="80.2" y1="296.0" x2="80.2" y2="361.8" stroke="#8fcab0" stroke-width="0.25" />
<line x1="81.3" y1="296.0" x2="81.3" y2="361.8" stroke="#8fcab0" stroke-width="0.25" />
<line x1="82.4" y1="296.0" x2="82.4" y2="361.8" stroke="#8fcab0" stroke-width="0.25" />
<line x1="83.5" y1="296.0" x2="83.5" y2="361.8" stroke="#8fcab0" stroke-width="0.25" />
<line x1="84.6" y1="296.0" x2="84.6" y2="361.8" stroke="#8fcab0" stroke-width="0.25" />
<line x1="85.7" y1="298.11" x2="85.7" y2="361.8" stroke="#8fcab0" stroke-width="0.25" />
<line x1="86.8" y1="300.56" x2="86.8" y2="361.8" stroke="#8fcab0" stroke-width="0.25" />
<line x1="87.9" y1="303.24" x2="87.9" y2="361.8" stroke="#8fcab0" stroke-width="0.25" />
<line x1="89.0" y1="306.26" x2="89.0" y2="361.8" stroke="#8fcab0" stroke-width="0.25" />
<line x1="90.1" y1="309.29" x2="90.1" y2="361.8" stroke="#8fcab0" stroke-width="0.25" />
<line x1="91.2" y1="312.31" x2="91.2" y2="361.8" stroke="#8fcab0" stroke-width="0.25" />
<line x1="92.3" y1="315.76" x2="92.3" y2="361.8" stroke="#8fcab0" stroke-width="0.25" />
<line x1="93.4" y1="319.34" x2="93.4" y2="361.8" stroke="#8fcab0" stroke-width="0.25" />
<line x1="94.5" y1="322.91" x2="94.5" y2="361.8" stroke="#8fcab0" stroke-width="0.25" />
<line x1="95.6" y1="326.6" x2="95.6" y2="361.8" stroke="#8fcab0" stroke-width="0.25" />
<line x1="96.7" y1="331.0" x2="96.7" y2="361.8" stroke="#8fcab0" stroke-width="0.25" />
<line x1="97.8" y1="335.4" x2="97.8" y2="361.8" stroke="#8fcab0" stroke-width="0.25" />
<line x1="98.9" y1="339.8" x2="98.9" y2="361.8" stroke="#8fcab0" stroke-width="0.25" />
<line x1="100.0" y1="344.2" x2="100.0" y2="361.8" stroke="#8fcab0" stroke-width="0.25" />
<line x1="101.1" y1="348.6" x2="101.1" y2="361.8" stroke="#8fcab0" stroke-width="0.25" />
<line x1="102.2" y1="353.0" x2="102.2" y2="361.8" stroke="#8fcab0" stroke-width="0.25" />
<line x1="103.3" y1="357.4" x2="103.3" y2="361.8" stroke="#8fcab0" stroke-width="0.25" />
<line x1="104.4" y1="358.95" x2="104.4" y2="361.8" stroke="#8fcab0" stroke-width="0.25" />
<line x1="105.5" y1="360.01" x2="105.5" y2="361.8" stroke="#8fcab0" stroke-width="0.25" />
<line x1="106.6" y1="360.23" x2="106.6" y2="361.8" stroke="#8fcab0" stroke-width="0.25" />
<line x1="107.7" y1="360.45" x2="107.7" y2="361.8" stroke="#8fcab0" stroke-width="0.25" />
<line x1="108.8" y1="360.67" x2="108.8" y2="361.8" stroke="#8fcab0" stroke-width="0.25" />
<line x1="109.9" y1="360.84" x2="109.9" y2="361.8" stroke="#8fcab0" stroke-width="0.25" />
<line x1="111.0" y1="360.95" x2="111.0" y2="361.8" stroke="#8fcab0" stroke-width="0.25" />
<line x1="112.1" y1="361.06" x2="112.1" y2="361.8" stroke="#8fcab0" stroke-width="0.25" />
<line x1="113.2" y1="361.18" x2="113.2" y2="361.8" stroke="#8fcab0" stroke-width="0.25" />
<line x1="114.3" y1="361.28" x2="114.3" y2="361.8" stroke="#8fcab0" stroke-width="0.25" />
<line x1="115.4" y1="361.39" x2="115.4" y2="361.8" stroke="#8fcab0" stroke-width="0.25" />
<path d="M32.00,361.70 L38.00,361.20 L42.00,360.00 L45.00,358.00 L48.00,354.00 L50.00,350.00 L52.00,342.00 L54.00,331.00 L56.00,314.00 L57.50,296.00 L58.80,280.00 L60.00,271.00 L62.00,269.50 L64.50,271.00 L66.50,278.00 L69.00,287.00 L72.00,293.00 L76.00,295.50 L80.00,296.00 L85.00,296.50 L88.00,302.00 L92.00,313.00 L96.00,326.00 L100.00,341.00 L103.00,351.00 L106.00,357.00 L110.00,359.80 L116.00,361.00 L130.00,361.50 L183.00,361.70" fill="none" stroke="#a3a3a3" stroke-width="0.9" />
<path d="M30.00,361.27 L30.52,361.20 L31.04,361.13 L31.56,361.05 L32.08,360.96 L32.60,360.86 L33.12,360.75 L33.64,360.64 L34.16,360.51 L34.68,360.36 L35.20,360.21 L35.72,360.04 L36.24,359.85 L36.76,359.65 L37.28,359.43 L37.80,359.19 L38.32,358.92 L38.84,358.64 L39.36,358.33 L39.88,358.00 L40.40,357.65 L40.92,357.26 L41.44,356.85 L41.96,356.40 L42.48,355.93 L43.00,355.42 L43.52,354.87 L44.04,354.29 L44.56,353.67 L45.08,353.01 L45.60,352.31 L46.12,351.57 L46.64,350.78 L47.16,349.95 L47.68,349.07 L48.20,348.15 L48.72,347.17 L49.24,346.15 L49.76,345.08 L50.28,343.97 L50.80,342.80 L51.32,341.58 L51.84,340.31 L52.36,338.99 L52.88,337.63 L53.40,336.21 L53.92,334.75 L54.44,333.24 L54.96,331.69 L55.48,330.10 L56.00,328.47 L56.52,326.79 L57.04,325.09 L57.56,323.35 L58.08,321.58 L58.60,319.79 L59.12,317.97 L59.64,316.14 L60.16,314.29 L60.68,312.43 L61.20,310.57 L61.72,308.71 L62.24,306.85 L62.76,305.00 L63.28,303.17 L63.80,301.36 L64.32,299.58 L64.84,297.82 L65.36,296.11 L65.88,294.44 L66.40,292.82 L66.92,291.25 L67.44,289.74 L67.96,288.30 L68.48,286.92 L69.00,285.62 L69.52,284.41 L70.04,283.27 L70.56,282.23 L71.08,281.27 L71.60,280.42 L72.12,279.66 L72.64,279.01 L73.16,278.46 L73.68,278.01 L74.20,277.68 L74.72,277.46 L75.24,277.35 L75.76,277.35 L76.28,277.46 L76.80,277.68 L77.32,278.01 L77.84,278.46 L78.36,279.01 L78.88,279.66 L79.40,280.42 L79.92,281.27 L80.44,282.23 L80.96,283.27 L81.48,284.41 L82.00,285.62 L82.52,286.92 L83.04,288.30 L83.56,289.74 L84.08,291.25 L84.60,292.82 L85.12,294.44 L85.64,296.11 L86.16,297.82 L86.68,299.58 L87.20,301.36 L87.72,303.17 L88.24,305.00 L88.76,306.85 L89.28,308.71 L89.80,310.57 L90.32,312.43 L90.84,314.29 L91.36,316.14 L91.88,317.97 L92.40,319.79 L92.92,321.58 L93.44,323.35 L93.96,325.09 L94.48,326.79 L95.00,328.47 L95.52,330.10 L96.04,331.69 L96.56,333.24 L97.08,334.75 L97.60,336.21 L98.12,337.63 L98.64,338.99 L99.16,340.31 L99.68,341.58 L100.20,342.80 L100.72,343.97 L101.24,345.08 L101.76,346.15 L102.28,347.17 L102.80,348.15 L103.32,349.07 L103.84,349.95 L104.36,350.78 L104.88,351.57 L105.40,352.31 L105.92,353.01 L106.44,353.67 L106.96,354.29 L107.48,354.87 L108.00,355.42 L108.52,355.93 L109.04,356.40 L109.56,356.85 L110.08,357.26 L110.60,357.65 L111.12,358.00 L111.64,358.33 L112.16,358.64 L112.68,358.92 L113.20,359.19 L113.72,359.43 L114.24,359.65 L114.76,359.85 L115.28,360.04 L115.80,360.21 L116.32,360.36 L116.84,360.51 L117.36,360.64 L117.88,360.75 L118.40,360.86 L118.92,360.96 L119.44,361.05 L119.96,361.13 L120.48,361.20 L121.00,361.27 L121.52,361.32 L122.04,361.38 L122.56,361.42 L123.08,361.47 L123.60,361.50 L124.12,361.54 L124.64,361.57 L125.16,361.60 L125.68,361.62 L126.20,361.64 L126.72,361.66 L127.24,361.68 L127.76,361.69 L128.28,361.71 L128.80,361.72 L129.32,361.73 L129.84,361.74 L130.36,361.75 L130.88,361.75 L131.40,361.76 L131.92,361.76 L132.44,361.77 L132.96,361.77 L133.48,361.78 L134.00,361.78 L134.52,361.78 L135.04,361.79 L135.56,361.79 L136.08,361.79 L136.60,361.79 L137.12,361.79 L137.64,361.79 L138.16,361.79 L138.68,361.80 L139.20,361.80 L139.72,361.80 L140.24,361.80 L140.76,361.80 L141.28,361.80 L141.80,361.80 L142.32,361.80 L142.84,361.80 L143.36,361.80 L143.88,361.80 L144.40,361.80 L144.92,361.80 L145.44,361.80 L145.96,361.80 L146.48,361.80 L147.00,361.80 L147.52,361.80 L148.04,361.80 L148.56,361.80 L149.08,361.80 L149.60,361.80" fill="none" stroke="#2b3e78" stroke-width="1.3" stroke-dasharray="3.2,1.8" />
<line x1="30.2" y1="272.7" x2="30.2" y2="361.8" stroke="#222" stroke-width="0.8" />
<line x1="28.2" y1="361.8" x2="30.2" y2="361.8" stroke="#222" stroke-width="0.8" />
<text transform="translate(27,361.8) rotate(-90)" font-size="6.2" fill="#333" text-anchor="middle">0.0</text>
<line x1="28.2" y1="343.98" x2="30.2" y2="343.98" stroke="#222" stroke-width="0.8" />
<text transform="translate(27,344.0) rotate(-90)" font-size="6.2" fill="#333" text-anchor="middle">0.1</text>
<line x1="28.2" y1="326.16" x2="30.2" y2="326.16" stroke="#222" stroke-width="0.8" />
<text transform="translate(27,326.2) rotate(-90)" font-size="6.2" fill="#333" text-anchor="middle">0.2</text>
<line x1="28.2" y1="308.34000000000003" x2="30.2" y2="308.34000000000003" stroke="#222" stroke-width="0.8" />
<text transform="translate(27,308.3) rotate(-90)" font-size="6.2" fill="#333" text-anchor="middle">0.3</text>
<line x1="28.2" y1="290.52" x2="30.2" y2="290.52" stroke="#222" stroke-width="0.8" />
<text transform="translate(27,290.5) rotate(-90)" font-size="6.2" fill="#333" text-anchor="middle">0.4</text>
<line x1="28.2" y1="272.70000000000005" x2="30.2" y2="272.70000000000005" stroke="#222" stroke-width="0.8" />
<text transform="translate(27,272.7) rotate(-90)" font-size="6.2" fill="#333" text-anchor="middle">0.5</text>
<text transform="translate(18.8,318.3) rotate(-90)" font-size="7.1" fill="#222" text-anchor="middle">Density</text>
<line x1="46.4" y1="366.2" x2="183.2" y2="366.2" stroke="#222" stroke-width="0.8" />
<line x1="46.2" y1="366.2" x2="46.2" y2="368.2" stroke="#222" stroke-width="0.8" />
<text x="46.2" y="375.6" font-size="6.4" fill="#333" text-anchor="middle" >−2</text>
<line x1="80.5" y1="366.2" x2="80.5" y2="368.2" stroke="#222" stroke-width="0.8" />
<text x="80.5" y="375.6" font-size="6.4" fill="#333" text-anchor="middle" >0</text>
<line x1="114.8" y1="366.2" x2="114.8" y2="368.2" stroke="#222" stroke-width="0.8" />
<text x="114.8" y="375.6" font-size="6.4" fill="#333" text-anchor="middle" >2</text>
<line x1="149.1" y1="366.2" x2="149.1" y2="368.2" stroke="#222" stroke-width="0.8" />
<text x="149.1" y="375.6" font-size="6.4" fill="#333" text-anchor="middle" >4</text>
<line x1="183.39999999999998" y1="366.2" x2="183.39999999999998" y2="368.2" stroke="#222" stroke-width="0.8" />
<text x="183.39999999999998" y="375.6" font-size="6.4" fill="#333" text-anchor="middle" >6</text>
<text x="96.2" y="382.6" font-size="7.0" fill="#222">log<tspan font-size="4.6" dy="1.6">10</tspan><tspan dy="-1.6">(TPM)</tspan></text>
<line x1="102.7" y1="271.9" x2="115.4" y2="271.9" stroke="#9a9a9a" stroke-width="0.9" />
<text x="117.9" y="274.4" font-size="7.2" fill="#222" text-anchor="start" textLength="73.6" lengthAdjust="spacingAndGlyphs">empirical density curve</text>
<line x1="102.7" y1="281.4" x2="115.4" y2="281.4" stroke="#2b3e78" stroke-width="1.2" stroke-dasharray="2.6,1.6" />
<text x="117.9" y="283.9" font-size="7.2" fill="#222" text-anchor="start" textLength="76.8" lengthAdjust="spacingAndGlyphs">fitted normal distribution</text>
<text x="195.8" y="250.6" font-size="9.5" fill="#111" text-anchor="start" font-weight="bold" >C</text>
<text x="205" y="257.3" font-size="5.8" fill="#222" text-anchor="start" textLength="36.6" lengthAdjust="spacingAndGlyphs">Chromosome 1</text>
<clipPath id="cp240"><path d="M242.8,252.5 L314.4,252.5 L316.4,254.3 L318.4,252.5 L384.40000000000003,252.5 A2.4,2.4 0 0 1 384.40000000000003,257.3 L318.4,257.3 L316.4,255.5 L314.4,257.3 L242.8,257.3 A2.4,2.4 0 0 1 242.8,252.5 Z"/></clipPath>
<path d="M242.8,252.5 L314.4,252.5 L316.4,254.3 L318.4,252.5 L384.40000000000003,252.5 A2.4,2.4 0 0 1 384.40000000000003,257.3 L318.4,257.3 L316.4,255.5 L314.4,257.3 L242.8,257.3 A2.4,2.4 0 0 1 242.8,252.5 Z" fill="#fff" stroke="none" stroke-width="1" />
<g clip-path="url(#cp240)">
<rect x="242.0" y="252.5" width="1.3" height="4.8" rx="0" fill="#111" stroke="none" stroke-width="1" />
<rect x="243.3" y="252.5" width="0.9" height="4.8" rx="0" fill="#bbb" stroke="none" stroke-width="1" />
<rect x="244.20000000000002" y="252.5" width="1.4" height="4.8" rx="0" fill="#222" stroke="none" stroke-width="1" />
<rect x="246.40000000000003" y="252.5" width="1.5" height="4.8" rx="0" fill="#111" stroke="none" stroke-width="1" />
<rect x="247.90000000000003" y="252.5" width="0.9" height="4.8" rx="0" fill="#999" stroke="none" stroke-width="1" />
<rect x="248.80000000000004" y="252.5" width="1.2" height="4.8" rx="0" fill="#111" stroke="none" stroke-width="1" />
<rect x="251.00000000000003" y="252.5" width="1.6" height="4.8" rx="0" fill="#222" stroke="none" stroke-width="1" />
<rect x="252.60000000000002" y="252.5" width="0.8" height="4.8" rx="0" fill="#ccc" stroke="none" stroke-width="1" />
<rect x="253.40000000000003" y="252.5" width="1.2" height="4.8" rx="0" fill="#111" stroke="none" stroke-width="1" />
<rect x="255.60000000000002" y="252.5" width="1.5" height="4.8" rx="0" fill="#333" stroke="none" stroke-width="1" />
<rect x="258.0" y="252.5" width="1.4" height="4.8" rx="0" fill="#111" stroke="none" stroke-width="1" />
<rect x="259.4" y="252.5" width="0.8" height="4.8" rx="0" fill="#aaa" stroke="none" stroke-width="1" />
<rect x="260.2" y="252.5" width="1.3" height="4.8" rx="0" fill="#111" stroke="none" stroke-width="1" />
<rect x="262.7" y="252.5" width="1.5" height="4.8" rx="0" fill="#222" stroke="none" stroke-width="1" />
<rect x="264.2" y="252.5" width="0.9" height="4.8" rx="0" fill="#ddd" stroke="none" stroke-width="1" />
<rect x="265.09999999999997" y="252.5" width="1.2" height="4.8" rx="0" fill="#111" stroke="none" stroke-width="1" />
<rect x="267.4" y="252.5" width="1.4" height="4.8" rx="0" fill="#444" stroke="none" stroke-width="1" />
<rect x="269.69999999999993" y="252.5" width="1.3" height="4.8" rx="0" fill="#111" stroke="none" stroke-width="1" />
<rect x="270.99999999999994" y="252.5" width="1.0" height="4.8" rx="0" fill="#bbb" stroke="none" stroke-width="1" />
<rect x="271.99999999999994" y="252.5" width="1.6" height="4.8" rx="0" fill="#111" stroke="none" stroke-width="1" />
<rect x="278.6" y="252.5" width="10.4" height="4.8" rx="0" fill="#111" stroke="none" stroke-width="1" />
<rect x="289" y="252.5" width="3" height="4.8" rx="0" fill="#e8c21a" stroke="none" stroke-width="1" />
<rect x="292" y="252.5" width="4" height="4.8" rx="0" fill="#111" stroke="none" stroke-width="1" />
<rect x="297.7" y="252.5" width="4.1" height="4.8" rx="0" fill="#111" stroke="none" stroke-width="1" />
<rect x="303.6" y="252.5" width="1.9" height="4.8" rx="0" fill="#111" stroke="none" stroke-width="1" />
<rect x="307.3" y="252.5" width="2.7" height="4.8" rx="0" fill="#111" stroke="none" stroke-width="1" />
<rect x="314.5" y="252.5" width="2" height="4.8" rx="0" fill="#333" stroke="none" stroke-width="1" />
<rect x="326.6" y="252.5" width="2" height="4.8" rx="0" fill="#999" stroke="none" stroke-width="1" />
<rect x="329.3" y="252.5" width="2.1" height="4.8" rx="0" fill="#111" stroke="none" stroke-width="1" />
<rect x="332" y="252.5" width="2" height="4.8" rx="0" fill="#888" stroke="none" stroke-width="1" />
<rect x="336.8" y="252.5" width="2.8" height="4.8" rx="0" fill="#111" stroke="none" stroke-width="1" />
<rect x="341" y="252.5" width="2" height="4.8" rx="0" fill="#222" stroke="none" stroke-width="1" />
<rect x="344.3" y="252.5" width="2.7" height="4.8" rx="0" fill="#888" stroke="none" stroke-width="1" />
<rect x="349.8" y="252.5" width="2.7" height="4.8" rx="0" fill="#111" stroke="none" stroke-width="1" />
<rect x="354.6" y="252.5" width="2" height="4.8" rx="0" fill="#111" stroke="none" stroke-width="1" />
<rect x="360" y="252.5" width="2" height="4.8" rx="0" fill="#888" stroke="none" stroke-width="1" />
<rect x="362.7" y="252.5" width="1.3" height="4.8" rx="0" fill="#999" stroke="none" stroke-width="1" />
<rect x="366.8" y="252.5" width="5.5" height="4.8" rx="0" fill="#111" stroke="none" stroke-width="1" />
<rect x="373.7" y="252.5" width="2" height="4.8" rx="0" fill="#777" stroke="none" stroke-width="1" />
<rect x="377" y="252.5" width="5.5" height="4.8" rx="0" fill="#333" stroke="none" stroke-width="1" />
</g>
<path d="M242.8,252.5 L314.4,252.5 L316.4,254.3 L318.4,252.5 L384.40000000000003,252.5 A2.4,2.4 0 0 1 384.40000000000003,257.3 L318.4,257.3 L316.4,255.5 L314.4,257.3 L242.8,257.3 A2.4,2.4 0 0 1 242.8,252.5 Z" fill="none" stroke="#111" stroke-width="0.8" />
<defs><linearGradient id="zg" x1="0" y1="0" x2="0" y2="1"><stop offset="0" stop-color="#d79f22"/><stop offset="1" stop-color="#f3ecd0"/></linearGradient><linearGradient id="zg2" x1="0" y1="0" x2="1" y2="0"><stop offset="0" stop-color="#d8f0d4" stop-opacity="0.9"/><stop offset="0.25" stop-color="#fff" stop-opacity="0"/></linearGradient></defs>
<path d="M290.6,257 L254.5,271.8 L387.5,271.8 Z" fill="url(#zg)" stroke="none" stroke-width="1" />
<path d="M290.6,257 L254.5,271.8 L300,271.8 Z" fill="url(#zg2)" stroke="none" stroke-width="1" />
<text x="265.6" y="269.1" font-size="5.2" fill="#5b3b25" text-anchor="start" textLength="69.6" lengthAdjust="spacingAndGlyphs">chr1:82,348,000-82,368,000</text>
<rect x="306.0" y="276.5" width="10.2" height="107" rx="0" fill="#f5e0e8" stroke="none" stroke-width="1" />
<text x="241" y="276" font-size="5.5" fill="#222" text-anchor="end" >ADGRL2</text>
<line x1="243.5" y1="273.8" x2="390" y2="273.8" stroke="#222" stroke-width="0.9" />
<circle cx="249.3" cy="273.8" r="0.9" fill="#111"/>
<circle cx="268.2" cy="273.8" r="0.9" fill="#111"/>
<circle cx="287.3" cy="273.8" r="0.9" fill="#111"/>
<circle cx="306.5" cy="273.8" r="0.9" fill="#111"/>
<circle cx="324.8" cy="273.8" r="0.9" fill="#111"/>
<circle cx="343.7" cy="273.8" r="0.9" fill="#111"/>
<circle cx="362" cy="273.8" r="0.9" fill="#111"/>
<circle cx="380.3" cy="273.8" r="0.9" fill="#111"/>
<text x="240.5" y="282.3" font-size="5.5" fill="#d04468" text-anchor="end" >TCNE</text>
<rect x="308.3" y="279.6" width="5.8" height="2.9" rx="0" fill="#6a4848" stroke="none" stroke-width="1" />
<text x="317" y="283" font-size="5.2" fill="#6a5060" text-anchor="start" textLength="60.5" lengthAdjust="spacingAndGlyphs">chr1:82,351,186-82,351,494</text>
<line x1="242.6" y1="287.7" x2="242.6" y2="300.2" stroke="#222" stroke-width="0.8" />
<line x1="241.4" y1="287.7" x2="242.6" y2="287.7" stroke="#222" stroke-width="0.8" />
<text x="240.8" y="289.59999999999997" font-size="5.4" fill="#222" text-anchor="end" >0.03</text>
<text x="240.8" y="301.9" font-size="5.4" fill="#222" text-anchor="end" >0</text>
<rect x="258.2" y="294.59999999999997" width="2.900000000000034" height="5.6" rx="0" fill="#3c3f92" stroke="none" stroke-width="1" />
<rect x="304" y="294.59999999999997" width="3.6000000000000227" height="5.6" rx="0" fill="#3c3f92" stroke="none" stroke-width="1" />
<rect x="311.3" y="290.2" width="1.6999999999999886" height="10" rx="0" fill="#3c3f92" stroke="none" stroke-width="1" />
<rect x="313" y="285.2" width="1.5" height="15" rx="0" fill="#3c3f92" stroke="none" stroke-width="1" />
<rect x="314.5" y="291.7" width="1.3000000000000114" height="8.5" rx="0" fill="#3c3f92" stroke="none" stroke-width="1" />
<rect x="348.5" y="298.3" width="4.300000000000011" height="1.9" rx="0" fill="#3c3f92" stroke="none" stroke-width="1" />
<rect x="353.1" y="290.2" width="3.7999999999999545" height="10" rx="0" fill="#3c3f92" stroke="none" stroke-width="1" />
<rect x="358.3" y="292.9" width="4.0" height="7.3" rx="0" fill="#3c3f92" stroke="none" stroke-width="1" />
<rect x="371.7" y="296.2" width="1.3000000000000114" height="4" rx="0" fill="#3c3f92" stroke="none" stroke-width="1" />
<rect x="373" y="291.7" width="2" height="8.5" rx="0" fill="#3c3f92" stroke="none" stroke-width="1" />
<rect x="375" y="296.2" width="1.3999999999999773" height="4" rx="0" fill="#3c3f92" stroke="none" stroke-width="1" />
<rect x="381.2" y="299.3" width="8.800000000000011" height="0.9" rx="0" fill="#3c3f92" stroke="none" stroke-width="1" />
<line x1="243" y1="300.2" x2="390" y2="300.2" stroke="#222" stroke-width="0.9" />
<text transform="translate(218,302.7) rotate(-33)" font-size="5.6" fill="#8a86bd" text-anchor="middle">BC192895</text>
<line x1="242.6" y1="306.1" x2="242.6" y2="318.6" stroke="#222" stroke-width="0.8" />
<line x1="241.4" y1="306.1" x2="242.6" y2="306.1" stroke="#222" stroke-width="0.8" />
<text x="240.8" y="308.0" font-size="5.4" fill="#222" text-anchor="end" >0.04</text>
<text x="240.8" y="320.3" font-size="5.4" fill="#222" text-anchor="end" >0</text>
<rect x="253.1" y="311.40000000000003" width="2.9000000000000057" height="7.2" rx="0" fill="#3c3f92" stroke="none" stroke-width="1" />
<rect x="256" y="304.1" width="1.5" height="14.5" rx="0" fill="#3c3f92" stroke="none" stroke-width="1" />
<rect x="257.5" y="311.40000000000003" width="2.8999999999999773" height="7.2" rx="0" fill="#3c3f92" stroke="none" stroke-width="1" />
<rect x="261.8" y="317.40000000000003" width="2.1999999999999886" height="1.2" rx="0" fill="#3c3f92" stroke="none" stroke-width="1" />
<rect x="264" y="315.3" width="1.5" height="3.3" rx="0" fill="#3c3f92" stroke="none" stroke-width="1" />
<rect x="265.5" y="317.40000000000003" width="2.8999999999999773" height="1.2" rx="0" fill="#3c3f92" stroke="none" stroke-width="1" />
<rect x="282.9" y="316.1" width="2.1000000000000227" height="2.5" rx="0" fill="#3c3f92" stroke="none" stroke-width="1" />
<rect x="285" y="313.1" width="2.3000000000000114" height="5.5" rx="0" fill="#3c3f92" stroke="none" stroke-width="1" />
<rect x="287.3" y="315.1" width="0.6999999999999886" height="3.5" rx="0" fill="#3c3f92" stroke="none" stroke-width="1" />
<rect x="288" y="310.8" width="1.5" height="7.8" rx="0" fill="#3c3f92" stroke="none" stroke-width="1" />
<rect x="289.5" y="313.6" width="1.5" height="5" rx="0" fill="#3c3f92" stroke="none" stroke-width="1" />
<rect x="291" y="316.1" width="2.1000000000000227" height="2.5" rx="0" fill="#3c3f92" stroke="none" stroke-width="1" />
<rect x="309.8" y="312.6" width="2.1999999999999886" height="6" rx="0" fill="#3c3f92" stroke="none" stroke-width="1" />
<rect x="312" y="306.3" width="1.5" height="12.3" rx="0" fill="#3c3f92" stroke="none" stroke-width="1" />
<rect x="313.5" y="312.6" width="2.1000000000000227" height="6" rx="0" fill="#3c3f92" stroke="none" stroke-width="1" />
<rect x="326.3" y="317.1" width="1.6999999999999886" height="1.5" rx="0" fill="#3c3f92" stroke="none" stroke-width="1" />
<rect x="328" y="315.6" width="2" height="3" rx="0" fill="#3c3f92" stroke="none" stroke-width="1" />
<rect x="330" y="317.1" width="1.6999999999999886" height="1.5" rx="0" fill="#3c3f92" stroke="none" stroke-width="1" />
<rect x="359.4" y="310.90000000000003" width="5.600000000000023" height="7.7" rx="0" fill="#3c3f92" stroke="none" stroke-width="1" />
<rect x="365" y="313.1" width="2.3999999999999773" height="5.5" rx="0" fill="#3c3f92" stroke="none" stroke-width="1" />
<line x1="243" y1="318.6" x2="390" y2="318.6" stroke="#222" stroke-width="0.9" />
<text transform="translate(218,321.1) rotate(-33)" font-size="5.6" fill="#8a86bd" text-anchor="middle">BC192022</text>
<line x1="242.6" y1="325.0" x2="242.6" y2="337.5" stroke="#222" stroke-width="0.8" />
<line x1="241.4" y1="325.0" x2="242.6" y2="325.0" stroke="#222" stroke-width="0.8" />
<text x="240.8" y="326.9" font-size="5.4" fill="#222" text-anchor="end" >0.03</text>
<text x="240.8" y="339.2" font-size="5.4" fill="#222" text-anchor="end" >0</text>
<rect x="309.5" y="329.8" width="1.8000000000000114" height="7.7" rx="0" fill="#3c3f92" stroke="none" stroke-width="1" />
<rect x="311.3" y="323.0" width="1.3999999999999773" height="14.5" rx="0" fill="#3c3f92" stroke="none" stroke-width="1" />
<rect x="312.7" y="329.8" width="2.900000000000034" height="7.7" rx="0" fill="#3c3f92" stroke="none" stroke-width="1" />
<rect x="335.8" y="330.3" width="3.8999999999999773" height="7.2" rx="0" fill="#3c3f92" stroke="none" stroke-width="1" />
<line x1="243" y1="337.5" x2="390" y2="337.5" stroke="#222" stroke-width="0.9" />
<text transform="translate(218,340.0) rotate(-33)" font-size="5.6" fill="#8a86bd" text-anchor="middle">BC192708</text>
<line x1="242.6" y1="343.6" x2="242.6" y2="356.1" stroke="#222" stroke-width="0.8" />
<line x1="241.4" y1="343.6" x2="242.6" y2="343.6" stroke="#222" stroke-width="0.8" />
<text x="240.8" y="345.5" font-size="5.4" fill="#222" text-anchor="end" >0.03</text>
<text x="240.8" y="357.8" font-size="5.4" fill="#222" text-anchor="end" >0</text>
<rect x="246.5" y="350.1" width="1.5" height="6" rx="0" fill="#3c3f92" stroke="none" stroke-width="1" />
<rect x="248" y="346.1" width="0.6999999999999886" height="10" rx="0" fill="#3c3f92" stroke="none" stroke-width="1" />
<rect x="248.7" y="341.5" width="1.5" height="14.6" rx="0" fill="#3c3f92" stroke="none" stroke-width="1" />
<rect x="250.2" y="346.1" width="0.8000000000000114" height="10" rx="0" fill="#3c3f92" stroke="none" stroke-width="1" />
<rect x="251" y="348.8" width="2.8000000000000114" height="7.3" rx="0" fill="#3c3f92" stroke="none" stroke-width="1" />
<rect x="253.8" y="351.70000000000005" width="2.1999999999999886" height="4.4" rx="0" fill="#3c3f92" stroke="none" stroke-width="1" />
<rect x="256" y="350.90000000000003" width="2.1999999999999886" height="5.2" rx="0" fill="#3c3f92" stroke="none" stroke-width="1" />
<rect x="258.2" y="348.8" width="2.900000000000034" height="7.3" rx="0" fill="#3c3f92" stroke="none" stroke-width="1" />
<rect x="279.3" y="353.6" width="1.6999999999999886" height="2.5" rx="0" fill="#3c3f92" stroke="none" stroke-width="1" />
<rect x="281" y="351.70000000000005" width="2.1999999999999886" height="4.4" rx="0" fill="#3c3f92" stroke="none" stroke-width="1" />
<rect x="283.2" y="353.6" width="1.900000000000034" height="2.5" rx="0" fill="#3c3f92" stroke="none" stroke-width="1" />
<rect x="287.3" y="351.70000000000005" width="4.300000000000011" height="4.4" rx="0" fill="#3c3f92" stroke="none" stroke-width="1" />
<rect x="293.1" y="352.6" width="1.8999999999999773" height="3.5" rx="0" fill="#3c3f92" stroke="none" stroke-width="1" />
<rect x="295" y="351.70000000000005" width="2.5" height="4.4" rx="0" fill="#3c3f92" stroke="none" stroke-width="1" />
<rect x="309.1" y="346.6" width="3.599999999999966" height="9.5" rx="0" fill="#3c3f92" stroke="none" stroke-width="1" />
<rect x="312.7" y="353.1" width="2.1999999999999886" height="3" rx="0" fill="#3c3f92" stroke="none" stroke-width="1" />
<rect x="314.9" y="346.6" width="3.6000000000000227" height="9.5" rx="0" fill="#3c3f92" stroke="none" stroke-width="1" />
<rect x="335.4" y="351.70000000000005" width="4.300000000000011" height="4.4" rx="0" fill="#3c3f92" stroke="none" stroke-width="1" />
<rect x="343.4" y="351.70000000000005" width="4.300000000000011" height="4.4" rx="0" fill="#3c3f92" stroke="none" stroke-width="1" />
<rect x="348.5" y="352.5" width="5.0" height="3.6" rx="0" fill="#3c3f92" stroke="none" stroke-width="1" />
<rect x="377.5" y="351.70000000000005" width="5.100000000000023" height="4.4" rx="0" fill="#3c3f92" stroke="none" stroke-width="1" />
<line x1="243" y1="356.1" x2="390" y2="356.1" stroke="#222" stroke-width="0.9" />
<text transform="translate(218,358.6) rotate(-33)" font-size="5.6" fill="#8a86bd" text-anchor="middle">BC197972</text>
<line x1="242.6" y1="362.5" x2="242.6" y2="375.0" stroke="#222" stroke-width="0.8" />
<line x1="241.4" y1="362.5" x2="242.6" y2="362.5" stroke="#222" stroke-width="0.8" />
<text x="240.8" y="364.4" font-size="5.4" fill="#222" text-anchor="end" >0.03</text>
<text x="240.8" y="376.7" font-size="5.4" fill="#222" text-anchor="end" >0</text>
<rect x="257.7" y="371.0" width="0.9000000000000341" height="4" rx="0" fill="#3c3f92" stroke="none" stroke-width="1" />
<rect x="258.6" y="364.8" width="1.7999999999999545" height="10.2" rx="0" fill="#3c3f92" stroke="none" stroke-width="1" />
<rect x="274.9" y="372.5" width="1.6000000000000227" height="2.5" rx="0" fill="#3c3f92" stroke="none" stroke-width="1" />
<rect x="276.5" y="370.0" width="2.5" height="5" rx="0" fill="#3c3f92" stroke="none" stroke-width="1" />
<rect x="279" y="372.5" width="1.6999999999999886" height="2.5" rx="0" fill="#3c3f92" stroke="none" stroke-width="1" />
<rect x="305.5" y="370.6" width="3.5" height="4.4" rx="0" fill="#3c3f92" stroke="none" stroke-width="1" />
<rect x="309" y="367.7" width="3" height="7.3" rx="0" fill="#3c3f92" stroke="none" stroke-width="1" />
<rect x="312" y="360.5" width="1.5" height="14.5" rx="0" fill="#3c3f92" stroke="none" stroke-width="1" />
<rect x="313.5" y="367.7" width="3.0" height="7.3" rx="0" fill="#3c3f92" stroke="none" stroke-width="1" />
<rect x="316.5" y="370.6" width="2.0" height="4.4" rx="0" fill="#3c3f92" stroke="none" stroke-width="1" />
<rect x="317.9" y="370.6" width="3.6000000000000227" height="4.4" rx="0" fill="#3c3f92" stroke="none" stroke-width="1" />
<rect x="323" y="372.8" width="2" height="2.2" rx="0" fill="#3c3f92" stroke="none" stroke-width="1" />
<rect x="325" y="372.0" width="2" height="3" rx="0" fill="#3c3f92" stroke="none" stroke-width="1" />
<rect x="327" y="373.0" width="2.5" height="2" rx="0" fill="#3c3f92" stroke="none" stroke-width="1" />
<rect x="332.5" y="373.0" width="3.5" height="2" rx="0" fill="#3c3f92" stroke="none" stroke-width="1" />
<rect x="336" y="372.0" width="2.3000000000000114" height="3" rx="0" fill="#3c3f92" stroke="none" stroke-width="1" />
<rect x="338.3" y="370.6" width="1.6999999999999886" height="4.4" rx="0" fill="#3c3f92" stroke="none" stroke-width="1" />
<rect x="340" y="373.0" width="4.100000000000023" height="2" rx="0" fill="#3c3f92" stroke="none" stroke-width="1" />
<rect x="360.8" y="370.6" width="4.399999999999977" height="4.4" rx="0" fill="#3c3f92" stroke="none" stroke-width="1" />
<rect x="372.5" y="370.6" width="4.300000000000011" height="4.4" rx="0" fill="#3c3f92" stroke="none" stroke-width="1" />
<rect x="379.7" y="370.6" width="3.6999999999999886" height="4.4" rx="0" fill="#3c3f92" stroke="none" stroke-width="1" />
<line x1="243" y1="375.0" x2="390" y2="375.0" stroke="#222" stroke-width="0.9" />
<text transform="translate(218,377.5) rotate(-33)" font-size="5.6" fill="#8a86bd" text-anchor="middle">BC201811</text>
<text x="394.3" y="251.3" font-size="9.5" fill="#111" text-anchor="start" font-weight="bold" >D</text>
<defs><clipPath id="clB"><circle cx="446.2" cy="296.4" r="40.8"/></clipPath><clipPath id="clO"><circle cx="487.8" cy="295.8" r="40.3"/></clipPath></defs>
<circle cx="446.2" cy="296.4" r="40.8" fill="#6f9cd8" />
<circle cx="487.8" cy="295.8" r="40.3" fill="#f0a566" />
<circle cx="466.4" cy="331.5" r="41.0" fill="#87cda0" />
<g clip-path="url(#clB)">
<circle cx="487.8" cy="295.8" r="40.3" fill="#d4875f" />
<circle cx="466.4" cy="331.5" r="41.0" fill="#55b9a0" />
</g>
<g clip-path="url(#clO)">
<circle cx="466.4" cy="331.5" r="41.0" fill="#a2c684" />
</g>
<g clip-path="url(#clB)"><g clip-path="url(#clO)">
<circle cx="466.4" cy="331.5" r="41.0" fill="#8cb473" />
</g></g>
<circle cx="446.2" cy="296.4" r="40.8" fill="none" stroke="#1a1a1a" stroke-width="1.05" stroke-dasharray="1.9,1.2"/>
<circle cx="487.8" cy="295.8" r="40.3" fill="none" stroke="#1a1a1a" stroke-width="1.05" stroke-dasharray="1.9,1.2"/>
<circle cx="466.4" cy="331.5" r="41.0" fill="none" stroke="#1a1a1a" stroke-width="1.05" stroke-dasharray="1.9,1.2"/>
<text x="401" y="254.6" font-size="7.3" fill="#5b84d2" text-anchor="start" font-weight="bold" textLength="38.5" lengthAdjust="spacingAndGlyphs">SEU-BRCA</text>
<text x="488.2" y="254.6" font-size="7.3" fill="#ef9c48" text-anchor="start" font-weight="bold" textLength="49" lengthAdjust="spacingAndGlyphs">PRJNA251383</text>
<text x="489" y="372.6" font-size="7.3" fill="#72c99c" text-anchor="start" font-weight="bold" textLength="49" lengthAdjust="spacingAndGlyphs">PRJNA739366</text>
<text x="429.4" y="288.3" font-size="7.4" fill="#1e2a22" text-anchor="middle" >2354</text>
<text x="467" y="280.8" font-size="7.4" fill="#1e2a22" text-anchor="middle" >8098</text>
<text x="505.7" y="288.8" font-size="7.4" fill="#1e2a22" text-anchor="middle" >3951</text>
<text x="467.5" y="315.0" font-size="7.4" fill="#1e2a22" text-anchor="middle" >12242</text>
<text x="440.8" y="327.0" font-size="7.4" fill="#1e2a22" text-anchor="middle" >475</text>
<text x="491.2" y="327.0" font-size="7.4" fill="#1e2a22" text-anchor="middle" >544</text>
<text x="468.3" y="357.0" font-size="7.4" fill="#1e2a22" text-anchor="middle" >612</text>
<text x="7" y="392.8" font-size="9.5" fill="#111" text-anchor="start" font-weight="bold" >E</text>
<rect x="31.4" y="440.2" width="7.8" height="40" rx="0" fill="#fcdcee" stroke="none" stroke-width="1" />
<rect x="39.2" y="472" width="104" height="8.4" rx="0" fill="#fde6f2" stroke="none" stroke-width="1" />
<rect x="154" y="471.8" width="119.5" height="8.6" rx="0" fill="#fde6f2" stroke="none" stroke-width="1" />
<rect x="233.2" y="409" width="6.6" height="71.4" rx="0" fill="#fcdcee" stroke="none" stroke-width="1" />
<rect x="264.7" y="457" width="7" height="23.4" rx="0" fill="#fcdcee" stroke="none" stroke-width="1" />
<line x1="27.3" y1="400.5" x2="144.6" y2="400.5" stroke="#c8c8c8" stroke-width="0.7" stroke-dasharray="2.6,2.2" />
<line x1="27.3" y1="420.4" x2="144.6" y2="420.4" stroke="#c8c8c8" stroke-width="0.7" stroke-dasharray="2.6,2.2" />
<line x1="27.3" y1="440.4" x2="144.6" y2="440.4" stroke="#c8c8c8" stroke-width="0.7" stroke-dasharray="2.6,2.2" />
<line x1="27.3" y1="460.5" x2="144.6" y2="460.5" stroke="#c8c8c8" stroke-width="0.7" stroke-dasharray="2.6,2.2" />
<line x1="154.8" y1="400.5" x2="272.8" y2="400.5" stroke="#c8c8c8" stroke-width="0.7" stroke-dasharray="2.6,2.2" />
<line x1="154.8" y1="420.4" x2="272.8" y2="420.4" stroke="#c8c8c8" stroke-width="0.7" stroke-dasharray="2.6,2.2" />
<line x1="154.8" y1="440.4" x2="272.8" y2="440.4" stroke="#c8c8c8" stroke-width="0.7" stroke-dasharray="2.6,2.2" />
<line x1="154.8" y1="460.5" x2="272.8" y2="460.5" stroke="#c8c8c8" stroke-width="0.7" stroke-dasharray="2.6,2.2" />
<path d="M29.80,479.89 L30.30,479.84 L30.80,479.96 L31.30,479.86 L31.80,479.83 L32.30,479.96 L32.80,480.17 L33.30,480.12 L33.80,480.11 L34.30,479.89 L34.80,480.01 L35.30,479.91 L35.80,479.87 L36.30,479.84 L36.80,479.89 L37.30,480.17 L37.80,480.13 L38.30,480.12 L38.80,480.12 L39.30,479.88 L39.80,479.92 L40.30,480.05 L40.80,480.09 L41.30,480.14 L41.80,480.15 L42.30,479.83 L42.80,480.04 L43.30,480.07 L43.80,480.00 L44.30,479.87 L44.80,479.99 L45.30,479.84 L45.80,480.17 L46.30,480.15 L46.80,480.02 L47.30,479.92 L47.80,480.16 L48.30,480.03 L48.80,480.15 L49.30,480.14 L49.80,480.00 L50.30,479.85 L50.80,478.62 L51.30,473.60 L51.80,469.36 L52.30,473.55 L52.80,478.70 L53.30,479.70 L53.80,479.82 L54.30,480.05 L54.80,479.91 L55.30,480.01 L55.80,479.99 L56.30,479.94 L56.80,480.20 L57.30,479.88 L57.80,479.97 L58.30,479.88 L58.80,480.05 L59.30,479.91 L59.80,479.94 L60.30,480.10 L60.80,479.93 L61.30,480.02 L61.80,480.16 L62.30,479.84 L62.80,479.82 L63.30,479.89 L63.80,480.11 L64.30,480.05 L64.80,479.89 L65.30,479.93 L65.80,479.87 L66.30,479.98 L66.80,479.82 L67.30,480.08 L67.80,480.16 L68.30,480.18 L68.80,480.09 L69.30,480.18 L69.80,479.81 L70.30,479.92 L70.80,480.19 L71.30,480.11 L71.80,479.96 L72.30,480.18 L72.80,480.05 L73.30,480.13 L73.80,479.92 L74.30,479.88 L74.80,479.98 L75.30,479.85 L75.80,479.95 L76.30,480.18 L76.80,479.93 L77.30,479.80 L77.80,479.82 L78.30,479.87 L78.80,480.11 L79.30,479.95 L79.80,479.92 L80.30,479.84 L80.80,480.19 L81.30,479.97 L81.80,479.88 L82.30,479.82 L82.80,479.82 L83.30,479.87 L83.80,480.07 L84.30,479.86 L84.80,479.82 L85.30,480.00 L85.80,479.90 L86.30,480.20 L86.80,479.85 L87.30,480.01 L87.80,480.11 L88.30,479.96 L88.80,480.20 L89.30,479.99 L89.80,479.90 L90.30,479.96 L90.80,479.81 L91.30,479.97 L91.80,479.90 L92.30,480.16 L92.80,480.13 L93.30,480.00 L93.80,479.81 L94.30,479.90 L94.80,479.90 L95.30,479.88 L95.80,479.89 L96.30,480.15 L96.80,479.86 L97.30,479.82 L97.80,480.17 L98.30,480.03 L98.80,480.20 L99.30,479.96 L99.80,480.16 L100.30,480.06 L100.80,480.12 L101.30,480.10 L101.80,480.00 L102.30,479.84 L102.80,479.88 L103.30,480.15 L103.80,480.16 L104.30,480.17 L104.80,479.93 L105.30,480.06 L105.80,480.12 L106.30,480.06 L106.80,480.13 L107.30,480.01 L107.80,480.06 L108.30,480.07 L108.80,479.91 L109.30,480.17 L109.80,480.18 L110.30,479.83 L110.80,480.19 L111.30,480.18 L111.80,480.07 L112.30,479.82 L112.80,480.16 L113.30,479.85 L113.80,480.19 L114.30,480.07 L114.80,479.82 L115.30,479.87 L115.80,480.05 L116.30,480.03 L116.80,480.10 L117.30,480.17 L117.80,479.89 L118.30,479.80 L118.80,480.17 L119.30,479.81 L119.80,480.15 L120.30,479.85 L120.80,480.12 L121.30,480.11 L121.80,480.15 L122.30,480.02 L122.80,480.15 L123.30,479.88 L123.80,480.07 L124.30,479.93 L124.80,480.16 L125.30,480.11 L125.80,479.99 L126.30,480.01 L126.80,479.81 L127.30,479.81 L127.80,480.04 L128.30,480.00 L128.80,480.15 L129.30,480.04 L129.80,479.86 L130.30,479.95 L130.80,480.11 L131.30,480.01 L131.80,479.80 L132.30,480.14 L132.80,480.13 L133.30,479.83 L133.80,480.02 L134.30,479.95 L134.80,480.11 L135.30,479.92 L135.80,479.89 L136.30,479.99 L136.80,480.19 L137.30,479.84 L137.80,479.85 L138.30,480.05 L138.80,480.15 L139.30,480.00 L139.80,479.97 L140.30,480.14 L140.80,480.11 L141.30,479.77 L141.80,479.75 L142.30,478.36 L142.80,477.08 L143.30,477.49 L143.80,478.74 L144.30,479.83" fill="none" stroke="#9aa39c" stroke-width="0.9" />
<path d="M29.80,473.77 L30.20,472.03 L30.60,472.63 L31.00,475.38 L31.40,477.18 L31.80,475.05 L32.20,466.36 L32.60,452.27 L33.00,443.73 L33.40,451.85 L33.80,467.09 L34.20,475.64 L34.60,478.63 L35.00,478.83 L35.40,478.93 L35.80,478.26 L36.20,477.50 L36.60,475.51 L37.00,473.20 L37.40,473.24 L37.80,474.88 L38.20,475.75 L38.60,475.70 L39.00,473.50 L39.40,470.75 L39.80,468.81 L40.20,469.40 L40.60,470.85 L41.00,473.53 L41.40,475.62 L41.80,476.18 L42.20,476.04 L42.60,475.71 L43.00,476.95 L43.40,477.88 L43.80,478.92 L44.20,479.11 L44.60,478.61 L45.00,478.64 L45.40,478.70 L45.80,479.23 L46.20,478.86 L46.60,478.99 L47.00,478.76 L47.40,478.91 L47.80,478.82 L48.20,478.80 L48.60,478.96 L49.00,478.96 L49.40,479.18 L49.80,479.03 L50.20,479.20 L50.60,479.15 L51.00,479.24 L51.40,479.02 L51.80,478.66 L52.20,479.15 L52.60,479.23 L53.00,479.18 L53.40,478.95 L53.80,479.05 L54.20,478.67 L54.60,479.03 L55.00,478.59 L55.40,477.78 L55.80,476.53 L56.20,475.75 L56.60,474.88 L57.00,474.25 L57.40,475.71 L57.80,476.78 L58.20,477.68 L58.60,478.40 L59.00,478.98 L59.40,479.13 L59.80,478.51 L60.20,478.64 L60.60,477.55 L61.00,477.05 L61.40,476.28 L61.80,477.16 L62.20,478.21 L62.60,478.57 L63.00,479.18 L63.40,478.76 L63.80,478.60 L64.20,478.97 L64.60,478.57 L65.00,478.69 L65.40,478.84 L65.80,478.98 L66.20,478.66 L66.60,478.58 L67.00,479.16 L67.40,478.77 L67.80,479.22 L68.20,479.18 L68.60,478.81 L69.00,478.87 L69.40,478.91 L69.80,479.00 L70.20,478.95 L70.60,478.87 L71.00,478.74 L71.40,478.59 L71.80,477.68 L72.20,476.96 L72.60,476.77 L73.00,476.57 L73.40,477.19 L73.80,478.34 L74.20,478.52 L74.60,478.80 L75.00,478.52 L75.40,478.83 L75.80,478.95 L76.20,478.56 L76.60,478.98 L77.00,478.99 L77.40,478.59 L77.80,478.99 L78.20,478.88 L78.60,479.03 L79.00,478.80 L79.40,479.04 L79.80,479.06 L80.20,478.54 L80.60,478.48 L81.00,478.56 L81.40,477.89 L81.80,475.94 L82.20,474.67 L82.60,474.41 L83.00,475.21 L83.40,476.79 L83.80,477.95 L84.20,478.57 L84.60,478.92 L85.00,478.75 L85.40,478.81 L85.80,479.09 L86.20,478.57 L86.60,478.95 L87.00,479.06 L87.40,478.77 L87.80,478.71 L88.20,479.11 L88.60,478.72 L89.00,478.68 L89.40,478.85 L89.80,479.04 L90.20,478.62 L90.60,478.78 L91.00,478.78 L91.40,479.13 L91.80,478.86 L92.20,479.15 L92.60,478.67 L93.00,478.79 L93.40,479.01 L93.80,479.17 L94.20,478.87 L94.60,478.71 L95.00,478.63 L95.40,478.92 L95.80,478.67 L96.20,479.03 L96.60,478.76 L97.00,477.67 L97.40,476.98 L97.80,477.14 L98.20,477.59 L98.60,478.47 L99.00,478.60 L99.40,478.60 L99.80,478.75 L100.20,479.11 L100.60,478.74 L101.00,478.79 L101.40,478.84 L101.80,478.84 L102.20,478.84 L102.60,479.19 L103.00,478.66 L103.40,478.55 L103.80,479.21 L104.20,479.17 L104.60,479.24 L105.00,478.85 L105.40,479.22 L105.80,479.20 L106.20,478.70 L106.60,479.06 L107.00,479.03 L107.40,478.50 L107.80,477.35 L108.20,475.71 L108.60,474.99 L109.00,475.67 L109.40,477.04 L109.80,478.45 L110.20,478.64 L110.60,479.10 L111.00,478.58 L111.40,479.18 L111.80,479.04 L112.20,479.20 L112.60,479.18 L113.00,479.18 L113.40,478.95 L113.80,478.56 L114.20,479.07 L114.60,478.67 L115.00,478.76 L115.40,479.01 L115.80,478.92 L116.20,478.84 L116.60,479.21 L117.00,478.98 L117.40,478.79 L117.80,478.73 L118.20,479.15 L118.60,478.88 L119.00,479.10 L119.40,478.80 L119.80,478.69 L120.20,478.92 L120.60,479.12 L121.00,478.67 L121.40,479.10 L121.80,479.20 L122.20,479.11 L122.60,479.13 L123.00,478.56 L123.40,478.99 L123.80,479.15 L124.20,478.58 L124.60,478.74 L125.00,478.71 L125.40,478.74 L125.80,478.15 L126.20,477.18 L126.60,476.44 L127.00,475.90 L127.40,476.89 L127.80,477.94 L128.20,478.45 L128.60,478.57 L129.00,479.23 L129.40,479.15 L129.80,478.61 L130.20,478.90 L130.60,478.77 L131.00,478.77 L131.40,478.80 L131.80,479.00 L132.20,478.96 L132.60,478.80 L133.00,478.68 L133.40,478.78 L133.80,478.64 L134.20,478.94 L134.60,479.05 L135.00,478.82 L135.40,478.61 L135.80,478.67 L136.20,478.81 L136.60,478.97 L137.00,479.10 L137.40,478.82 L137.80,479.10 L138.20,478.93 L138.60,478.58 L139.00,477.99 L139.40,477.30 L139.80,477.04 L140.20,477.24 L140.60,478.21 L141.00,478.60 L141.40,478.65 L141.80,478.75 L142.20,478.20 L142.60,476.42 L143.00,475.85 L143.40,476.67 L143.80,478.33 L144.20,479.04" fill="none" stroke="#7b2e3b" stroke-width="1.1" />
<path d="M156.50,480.09 L157.00,480.10 L157.50,480.00 L158.00,479.93 L158.50,479.85 L159.00,480.05 L159.50,479.99 L160.00,480.08 L160.50,479.96 L161.00,480.08 L161.50,479.93 L162.00,480.09 L162.50,480.07 L163.00,479.97 L163.50,480.01 L164.00,480.05 L164.50,479.91 L165.00,480.02 L165.50,480.09 L166.00,479.93 L166.50,480.09 L167.00,480.06 L167.50,480.10 L168.00,479.95 L168.50,479.88 L169.00,480.09 L169.50,480.09 L170.00,479.98 L170.50,479.88 L171.00,479.91 L171.50,480.04 L172.00,479.94 L172.50,480.14 L173.00,480.03 L173.50,479.91 L174.00,480.05 L174.50,479.96 L175.00,480.13 L175.50,480.12 L176.00,480.00 L176.50,480.04 L177.00,480.06 L177.50,480.09 L178.00,480.14 L178.50,479.86 L179.00,479.96 L179.50,480.03 L180.00,479.94 L180.50,480.03 L181.00,479.88 L181.50,480.11 L182.00,480.01 L182.50,479.89 L183.00,480.05 L183.50,479.94 L184.00,479.91 L184.50,480.00 L185.00,479.89 L185.50,479.91 L186.00,480.11 L186.50,480.06 L187.00,479.85 L187.50,480.08 L188.00,479.86 L188.50,479.95 L189.00,480.12 L189.50,480.04 L190.00,479.94 L190.50,479.96 L191.00,479.97 L191.50,479.89 L192.00,480.15 L192.50,479.87 L193.00,479.98 L193.50,480.07 L194.00,479.97 L194.50,480.14 L195.00,479.92 L195.50,480.14 L196.00,480.12 L196.50,480.05 L197.00,480.12 L197.50,479.98 L198.00,480.10 L198.50,480.09 L199.00,480.01 L199.50,479.99 L200.00,480.06 L200.50,479.97 L201.00,479.88 L201.50,480.07 L202.00,479.93 L202.50,480.00 L203.00,480.09 L203.50,479.90 L204.00,479.86 L204.50,479.89 L205.00,480.03 L205.50,479.96 L206.00,479.93 L206.50,479.99 L207.00,480.13 L207.50,479.93 L208.00,479.97 L208.50,480.11 L209.00,480.03 L209.50,479.93 L210.00,479.99 L210.50,479.99 L211.00,479.89 L211.50,479.96 L212.00,479.94 L212.50,480.09 L213.00,479.95 L213.50,480.05 L214.00,480.14 L214.50,480.13 L215.00,479.96 L215.50,480.03 L216.00,479.95 L216.50,479.97 L217.00,480.00 L217.50,480.09 L218.00,480.13 L218.50,479.94 L219.00,479.85 L219.50,479.98 L220.00,479.87 L220.50,479.86 L221.00,480.08 L221.50,479.88 L222.00,480.07 L222.50,479.96 L223.00,480.13 L223.50,480.11 L224.00,479.87 L224.50,479.91 L225.00,480.13 L225.50,480.03 L226.00,479.98 L226.50,480.08 L227.00,480.09 L227.50,480.00 L228.00,479.99 L228.50,479.88 L229.00,479.96 L229.50,479.89 L230.00,480.04 L230.50,480.03 L231.00,479.89 L231.50,480.04 L232.00,479.88 L232.50,479.88 L233.00,480.04 L233.50,479.99 L234.00,480.12 L234.50,480.04 L235.00,480.06 L235.50,479.89 L236.00,480.10 L236.50,479.88 L237.00,480.04 L237.50,480.12 L238.00,480.12 L238.50,480.12 L239.00,479.99 L239.50,480.06 L240.00,480.09 L240.50,479.89 L241.00,480.13 L241.50,480.12 L242.00,479.98 L242.50,480.08 L243.00,479.98 L243.50,479.93 L244.00,480.06 L244.50,479.87 L245.00,480.09 L245.50,480.14 L246.00,479.94 L246.50,480.13 L247.00,479.88 L247.50,480.11 L248.00,479.93 L248.50,480.14 L249.00,479.98 L249.50,480.13 L250.00,479.86 L250.50,479.88 L251.00,480.09 L251.50,480.04 L252.00,480.01 L252.50,479.86 L253.00,479.90 L253.50,479.96 L254.00,479.87 L254.50,480.15 L255.00,480.08 L255.50,480.13 L256.00,480.06 L256.50,479.95 L257.00,479.87 L257.50,480.07 L258.00,479.88 L258.50,480.01 L259.00,479.99 L259.50,480.00 L260.00,479.87 L260.50,479.87 L261.00,480.01 L261.50,479.86 L262.00,480.01 L262.50,479.90 L263.00,479.93 L263.50,479.90 L264.00,480.02 L264.50,479.97 L265.00,479.92 L265.50,479.92 L266.00,480.02 L266.50,480.12 L267.00,479.98 L267.50,479.90 L268.00,479.94 L268.50,479.92 L269.00,480.02 L269.50,480.09 L270.00,480.02 L270.50,479.91 L271.00,479.95 L271.50,479.96" fill="none" stroke="#9aa39c" stroke-width="0.9" />
<path d="M156.50,478.49 L156.90,478.57 L157.30,478.60 L157.70,478.69 L158.10,478.48 L158.50,478.34 L158.90,477.05 L159.30,476.25 L159.70,475.52 L160.10,475.04 L160.50,475.97 L160.90,476.60 L161.30,477.75 L161.70,478.04 L162.10,478.39 L162.50,478.45 L162.90,478.06 L163.30,478.20 L163.70,478.25 L164.10,478.69 L164.50,478.59 L164.90,478.16 L165.30,478.61 L165.70,478.15 L166.10,478.48 L166.50,478.13 L166.90,478.01 L167.30,478.45 L167.70,477.48 L168.10,476.45 L168.50,475.64 L168.90,474.70 L169.30,474.60 L169.70,476.30 L170.10,477.26 L170.50,478.12 L170.90,478.09 L171.30,478.69 L171.70,478.53 L172.10,478.73 L172.50,478.68 L172.90,478.26 L173.30,478.30 L173.70,478.17 L174.10,478.15 L174.50,478.10 L174.90,478.26 L175.30,478.47 L175.70,478.05 L176.10,478.51 L176.50,478.22 L176.90,477.99 L177.30,477.86 L177.70,477.06 L178.10,476.79 L178.50,477.33 L178.90,478.06 L179.30,477.95 L179.70,478.71 L180.10,478.06 L180.50,478.57 L180.90,478.64 L181.30,478.06 L181.70,478.60 L182.10,478.31 L182.50,478.45 L182.90,478.06 L183.30,478.08 L183.70,478.18 L184.10,478.72 L184.50,478.19 L184.90,478.58 L185.30,478.70 L185.70,478.71 L186.10,478.29 L186.50,478.30 L186.90,478.42 L187.30,478.59 L187.70,478.13 L188.10,478.57 L188.50,478.61 L188.90,478.65 L189.30,478.08 L189.70,478.71 L190.10,478.11 L190.50,478.29 L190.90,478.48 L191.30,478.69 L191.70,478.29 L192.10,478.70 L192.50,478.43 L192.90,478.27 L193.30,478.27 L193.70,478.17 L194.10,478.10 L194.50,478.15 L194.90,478.53 L195.30,478.75 L195.70,478.16 L196.10,478.08 L196.50,478.74 L196.90,478.42 L197.30,478.33 L197.70,478.22 L198.10,478.47 L198.50,478.63 L198.90,478.37 L199.30,478.35 L199.70,478.09 L200.10,478.69 L200.50,478.07 L200.90,478.40 L201.30,478.64 L201.70,478.14 L202.10,478.56 L202.50,478.68 L202.90,478.36 L203.30,478.18 L203.70,477.06 L204.10,476.23 L204.50,474.86 L204.90,474.67 L205.30,474.53 L205.70,475.64 L206.10,477.20 L206.50,477.96 L206.90,478.49 L207.30,478.30 L207.70,478.38 L208.10,478.56 L208.50,478.39 L208.90,478.25 L209.30,478.33 L209.70,478.15 L210.10,478.31 L210.50,478.74 L210.90,478.72 L211.30,478.49 L211.70,478.40 L212.10,478.29 L212.50,478.11 L212.90,478.24 L213.30,478.60 L213.70,478.66 L214.10,478.30 L214.50,478.60 L214.90,478.59 L215.30,478.54 L215.70,478.51 L216.10,478.58 L216.50,478.30 L216.90,478.54 L217.30,478.25 L217.70,478.39 L218.10,478.59 L218.50,478.53 L218.90,478.26 L219.30,478.71 L219.70,478.50 L220.10,478.45 L220.50,478.04 L220.90,478.37 L221.30,478.02 L221.70,477.99 L222.10,477.31 L222.50,476.98 L222.90,476.52 L223.30,476.74 L223.70,476.93 L224.10,477.72 L224.50,478.22 L224.90,478.51 L225.30,478.26 L225.70,478.63 L226.10,478.66 L226.50,478.53 L226.90,478.73 L227.30,478.72 L227.70,478.41 L228.10,478.42 L228.50,478.17 L228.90,478.64 L229.30,478.71 L229.70,478.38 L230.10,478.53 L230.50,478.55 L230.90,478.56 L231.30,478.17 L231.70,478.60 L232.10,478.46 L232.50,478.52 L232.90,478.34 L233.30,478.49 L233.70,478.59 L234.10,478.48 L234.50,478.43 L234.90,477.15 L235.30,473.56 L235.70,462.60 L236.10,441.55 L236.50,418.87 L236.90,413.31 L237.30,429.39 L237.70,452.77 L238.10,469.45 L238.50,476.05 L238.90,477.73 L239.30,478.03 L239.70,477.65 L240.10,475.55 L240.50,472.34 L240.90,471.21 L241.30,474.13 L241.70,476.93 L242.10,478.24 L242.50,478.44 L242.90,478.22 L243.30,478.68 L243.70,478.05 L244.10,478.33 L244.50,478.24 L244.90,478.34 L245.30,478.13 L245.70,478.63 L246.10,478.31 L246.50,478.08 L246.90,478.48 L247.30,478.09 L247.70,478.26 L248.10,477.48 L248.50,475.99 L248.90,473.92 L249.30,472.62 L249.70,473.54 L250.10,476.15 L250.50,477.62 L250.90,477.60 L251.30,475.87 L251.70,473.45 L252.10,472.56 L252.50,475.08 L252.90,477.54 L253.30,478.27 L253.70,478.28 L254.10,478.67 L254.50,478.05 L254.90,478.13 L255.30,478.45 L255.70,478.48 L256.10,478.12 L256.50,478.27 L256.90,477.74 L257.30,475.78 L257.70,473.94 L258.10,473.28 L258.50,474.72 L258.90,477.11 L259.30,477.84 L259.70,478.63 L260.10,478.68 L260.50,478.47 L260.90,478.23 L261.30,478.74 L261.70,478.40 L262.10,478.34 L262.50,478.27 L262.90,478.73 L263.30,478.32 L263.70,477.85 L264.10,476.90 L264.50,474.17 L264.90,470.87 L265.30,467.80 L265.70,467.70 L266.10,470.98 L266.50,474.65 L266.90,476.34 L267.30,476.15 L267.70,470.28 L268.10,461.15 L268.50,458.01 L268.90,465.48 L269.30,474.04 L269.70,477.09 L270.10,477.18 L270.50,474.91 L270.90,474.55 L271.30,475.96" fill="none" stroke="#7b2e3b" stroke-width="1.1" />
<rect x="25.3" y="397.2" width="121.3" height="90.5" rx="0" fill="none" stroke="#222" stroke-width="1.0" />
<rect x="152.8" y="397.2" width="122.0" height="90.5" rx="0" fill="none" stroke="#222" stroke-width="1.0" />
<line x1="22.7" y1="480.4" x2="25.3" y2="480.4" stroke="#222" stroke-width="0.9" />
<line x1="22.7" y1="460.5" x2="25.3" y2="460.5" stroke="#222" stroke-width="0.9" />
<line x1="22.7" y1="440.4" x2="25.3" y2="440.4" stroke="#222" stroke-width="0.9" />
<line x1="22.7" y1="420.4" x2="25.3" y2="420.4" stroke="#222" stroke-width="0.9" />
<line x1="22.7" y1="400.5" x2="25.3" y2="400.5" stroke="#222" stroke-width="0.9" />
<line x1="150.20000000000002" y1="480.4" x2="152.8" y2="480.4" stroke="#222" stroke-width="0.9" />
<line x1="150.20000000000002" y1="460.5" x2="152.8" y2="460.5" stroke="#222" stroke-width="0.9" />
<line x1="150.20000000000002" y1="440.4" x2="152.8" y2="440.4" stroke="#222" stroke-width="0.9" />
<line x1="150.20000000000002" y1="420.4" x2="152.8" y2="420.4" stroke="#222" stroke-width="0.9" />
<line x1="150.20000000000002" y1="400.5" x2="152.8" y2="400.5" stroke="#222" stroke-width="0.9" />
<text transform="translate(21.5,480.4) rotate(-90)" font-size="7.0" fill="#222" text-anchor="middle">0</text>
<text transform="translate(21.5,460.5) rotate(-90)" font-size="7.0" fill="#222" text-anchor="middle">50</text>
<text transform="translate(21.5,440.4) rotate(-90)" font-size="7.0" fill="#222" text-anchor="middle">100</text>
<text transform="translate(21.5,420.4) rotate(-90)" font-size="7.0" fill="#222" text-anchor="middle">150</text>
<text transform="translate(21.5,400.5) rotate(-90)" font-size="7.0" fill="#222" text-anchor="middle">200</text>
<text transform="translate(14.2,442.5) rotate(-90)" font-size="7.3" fill="#222" text-anchor="middle">Average CAGE signal</text>
<line x1="30.5" y1="487.7" x2="30.5" y2="490.7" stroke="#222" stroke-width="0.9" />
<text x="30.5" y="498.9" font-size="7.2" fill="#222" text-anchor="middle" >−1kb</text>
<line x1="86" y1="487.7" x2="86" y2="490.7" stroke="#222" stroke-width="0.9" />
<text x="86" y="498.9" font-size="7.2" fill="#222" text-anchor="middle" >0</text>
<line x1="140.7" y1="487.7" x2="140.7" y2="490.7" stroke="#222" stroke-width="0.9" />
<text x="140.7" y="498.9" font-size="7.2" fill="#222" text-anchor="middle" >1kb</text>
<line x1="157.4" y1="487.7" x2="157.4" y2="490.7" stroke="#222" stroke-width="0.9" />
<text x="157.4" y="498.9" font-size="7.2" fill="#222" text-anchor="middle" >−1kb</text>
<line x1="213" y1="487.7" x2="213" y2="490.7" stroke="#222" stroke-width="0.9" />
<text x="213" y="498.9" font-size="7.2" fill="#222" text-anchor="middle" >0</text>
<line x1="269" y1="487.7" x2="269" y2="490.7" stroke="#222" stroke-width="0.9" />
<text x="269" y="498.9" font-size="7.2" fill="#222" text-anchor="middle" >1kb</text>
<text x="30" y="411.6" font-size="7.1" fill="#4b4493">HMEpC CAGE<tspan font-size="5.6" dy="-2.6">+</tspan></text>
<text x="159.5" y="411.6" font-size="7.1" fill="#4b4493">HMEpC CAGE<tspan font-size="5.6" dy="-2.6">−</tspan></text>
<rect x="25.8" y="561.8" width="13.2" height="32" rx="0" fill="#fcdcee" stroke="none" stroke-width="1" />
<rect x="39" y="584" width="16" height="10" rx="0" fill="#fde6f2" stroke="none" stroke-width="1" />
<rect x="240" y="512" width="7.8" height="82" rx="0" fill="#fcdcee" stroke="none" stroke-width="1" />
<rect x="251" y="582" width="23" height="12" rx="0" fill="#fde6f2" stroke="none" stroke-width="1" />
<rect x="154" y="585" width="60" height="9" rx="0" fill="#fdeaf3" stroke="none" stroke-width="1" />
<line x1="27.3" y1="530.5" x2="145.3" y2="530.5" stroke="#c8c8c8" stroke-width="0.7" stroke-dasharray="2.6,2.2" />
<line x1="27.3" y1="562.0" x2="145.3" y2="562.0" stroke="#c8c8c8" stroke-width="0.7" stroke-dasharray="2.6,2.2" />
<line x1="154.8" y1="530.5" x2="272.4" y2="530.5" stroke="#c8c8c8" stroke-width="0.7" stroke-dasharray="2.6,2.2" />
<line x1="154.8" y1="562.0" x2="272.4" y2="562.0" stroke="#c8c8c8" stroke-width="0.7" stroke-dasharray="2.6,2.2" />
<path d="M25.60,587.25 L26.10,585.68 L26.60,585.18 L27.10,586.39 L27.60,587.85 L28.10,590.01 L28.60,591.73 L29.10,592.37 L29.60,593.04 L30.10,593.26 L30.60,593.09 L31.10,593.25 L31.60,593.38 L32.10,593.28 L32.60,593.39 L33.10,593.16 L33.60,593.20 L34.10,593.14 L34.60,593.30 L35.10,593.47 L35.60,593.34 L36.10,593.41 L36.60,593.25 L37.10,593.40 L37.60,593.14 L38.10,593.22 L38.60,593.37 L39.10,593.39 L39.60,593.27 L40.10,593.14 L40.60,593.21 L41.10,593.18 L41.60,593.21 L42.10,593.42 L42.60,593.18 L43.10,593.45 L43.60,593.45 L44.10,593.12 L44.60,593.25 L45.10,593.30 L45.60,593.11 L46.10,593.27 L46.60,593.46 L47.10,593.14 L47.60,593.34 L48.10,593.15 L48.60,593.33 L49.10,593.46 L49.60,593.18 L50.10,593.10 L50.60,593.13 L51.10,593.32 L51.60,593.11 L52.10,593.13 L52.60,593.30 L53.10,593.47 L53.60,593.27 L54.10,593.26 L54.60,593.36 L55.10,593.14 L55.60,593.33 L56.10,593.17 L56.60,593.34 L57.10,593.48 L57.60,593.12 L58.10,593.32 L58.60,593.34 L59.10,593.16 L59.60,593.21 L60.10,593.50 L60.60,593.50 L61.10,593.15 L61.60,593.38 L62.10,593.48 L62.60,593.19 L63.10,593.34 L63.60,593.12 L64.10,593.25 L64.60,593.37 L65.10,593.34 L65.60,593.41 L66.10,593.13 L66.60,593.24 L67.10,593.45 L67.60,593.33 L68.10,593.28 L68.60,593.26 L69.10,593.49 L69.60,593.33 L70.10,593.11 L70.60,593.42 L71.10,593.23 L71.60,593.27 L72.10,593.19 L72.60,593.28 L73.10,593.23 L73.60,593.14 L74.10,593.35 L74.60,593.14 L75.10,593.41 L75.60,593.11 L76.10,593.41 L76.60,593.42 L77.10,593.30 L77.60,593.38 L78.10,593.20 L78.60,593.40 L79.10,593.27 L79.60,593.19 L80.10,593.49 L80.60,593.26 L81.10,593.25 L81.60,593.44 L82.10,593.25 L82.60,593.37 L83.10,593.17 L83.60,593.44 L84.10,593.20 L84.60,593.12 L85.10,593.49 L85.60,593.17 L86.10,593.48 L86.60,593.49 L87.10,593.34 L87.60,593.10 L88.10,593.12 L88.60,593.18 L89.10,593.26 L89.60,593.34 L90.10,593.49 L90.60,593.24 L91.10,593.16 L91.60,593.32 L92.10,593.15 L92.60,593.13 L93.10,593.32 L93.60,593.38 L94.10,593.13 L94.60,593.28 L95.10,593.38 L95.60,593.41 L96.10,593.25 L96.60,593.45 L97.10,593.17 L97.60,593.39 L98.10,593.41 L98.60,593.45 L99.10,593.30 L99.60,593.14 L100.10,593.12 L100.60,593.31 L101.10,593.17 L101.60,593.35 L102.10,593.13 L102.60,593.41 L103.10,593.19 L103.60,593.11 L104.10,593.17 L104.60,593.28 L105.10,593.32 L105.60,593.26 L106.10,593.17 L106.60,593.29 L107.10,593.48 L107.60,593.31 L108.10,593.48 L108.60,593.11 L109.10,593.50 L109.60,593.46 L110.10,593.32 L110.60,593.31 L111.10,593.31 L111.60,593.46 L112.10,593.13 L112.60,593.36 L113.10,593.32 L113.60,593.22 L114.10,593.39 L114.60,593.39 L115.10,593.14 L115.60,593.38 L116.10,593.28 L116.60,593.30 L117.10,593.35 L117.60,593.12 L118.10,593.34 L118.60,593.25 L119.10,593.45 L119.60,593.19 L120.10,593.43 L120.60,593.39 L121.10,593.35 L121.60,593.45 L122.10,593.11 L122.60,593.34 L123.10,593.35 L123.60,593.37 L124.10,593.26 L124.60,593.13 L125.10,593.18 L125.60,593.34 L126.10,593.17 L126.60,593.13 L127.10,593.24 L127.60,593.29 L128.10,593.31 L128.60,593.11 L129.10,593.41 L129.60,593.23 L130.10,593.41 L130.60,593.10 L131.10,593.48 L131.60,593.34 L132.10,593.49 L132.60,593.49 L133.10,593.43 L133.60,593.14 L134.10,593.24 L134.60,593.19 L135.10,593.41 L135.60,593.18 L136.10,593.19 L136.60,593.14 L137.10,593.14 L137.60,593.41 L138.10,593.19 L138.60,592.24 L139.10,590.93 L139.60,588.85 L140.10,587.46 L140.60,587.57 L141.10,589.31 L141.60,591.08 L142.10,592.39 L142.60,593.08 L143.10,593.13 L143.60,593.27 L144.10,593.48 L144.60,593.11 L145.10,593.14 L145.60,593.42" fill="none" stroke="#9aa39c" stroke-width="0.9" />
<path d="M25.60,580.60 L26.00,580.27 L26.40,580.50 L26.80,582.68 L27.20,584.25 L27.60,585.34 L28.00,585.28 L28.40,583.23 L28.80,582.13 L29.20,582.16 L29.60,583.92 L30.00,586.33 L30.40,588.08 L30.80,589.56 L31.20,589.56 L31.60,589.66 L32.00,588.53 L32.40,584.11 L32.80,573.40 L33.20,562.16 L33.60,561.85 L34.00,573.22 L34.40,584.11 L34.80,589.12 L35.20,589.59 L35.60,590.03 L36.00,589.76 L36.40,589.44 L36.80,587.87 L37.20,585.24 L37.60,580.90 L38.00,576.85 L38.40,575.24 L38.80,576.81 L39.20,580.69 L39.60,584.87 L40.00,588.24 L40.40,589.33 L40.80,589.65 L41.20,590.23 L41.60,590.04 L42.00,590.14" fill="none" stroke="#d8304c" stroke-width="1.1" />
<path d="M25.60,553.65 L26.00,555.56 L26.40,561.15 L26.80,567.21 L27.20,572.71 L27.60,575.55 L28.00,576.88 L28.40,579.01 L28.80,581.67 L29.20,584.81 L29.60,585.93 L30.00,585.67 L30.40,585.42 L30.80,586.44 L31.20,588.08 L31.60,590.25 L32.00,590.22 L32.40,582.49 L32.80,561.73 L33.20,539.42 L33.60,539.78 L34.00,561.45 L34.40,582.53 L34.80,590.15 L35.20,590.10 L35.60,587.14 L36.00,583.62 L36.40,581.34 L36.80,580.12 L37.20,580.13 L37.60,578.84 L38.00,576.39 L38.40,575.30 L38.80,576.39 L39.20,579.55 L39.60,582.80 L40.00,585.61 L40.40,587.71 L40.80,589.86 L41.20,591.87 L41.60,592.95 L42.00,593.42 L42.40,593.91 L42.80,593.91 L43.20,593.64 L43.60,593.84 L44.00,593.82 L44.40,594.03 L44.80,593.94 L45.20,593.67 L45.60,594.09 L46.00,593.57 L46.40,593.75 L46.80,593.95 L47.20,593.59 L47.60,593.79 L48.00,593.52 L48.40,593.90 L48.80,593.95 L49.20,593.74 L49.60,593.43 L50.00,591.44 L50.40,588.46 L50.80,585.34 L51.20,585.33 L51.60,588.31 L52.00,591.76 L52.40,593.48 L52.80,593.68 L53.20,593.89 L53.60,593.54 L54.00,593.92 L54.40,593.89 L54.80,594.10 L55.20,593.99 L55.60,593.67 L56.00,593.73 L56.40,593.90 L56.80,593.51 L57.20,593.78 L57.60,593.60 L58.00,593.57 L58.40,593.54 L58.80,593.96 L59.20,593.58 L59.60,593.65 L60.00,593.72 L60.40,593.93 L60.80,593.20 L61.20,592.75 L61.60,591.71 L62.00,590.84 L62.40,590.53 L62.80,591.31 L63.20,592.14 L63.60,593.13 L64.00,593.53 L64.40,593.99 L64.80,594.07 L65.20,593.59 L65.60,593.61 L66.00,593.64 L66.40,593.64 L66.80,593.79 L67.20,593.85 L67.60,593.66 L68.00,593.50 L68.40,593.75 L68.80,593.72 L69.20,593.84 L69.60,594.07 L70.00,593.91 L70.40,593.81 L70.80,593.87 L71.20,593.91 L71.60,593.53 L72.00,594.04 L72.40,593.97 L72.80,594.02 L73.20,593.98 L73.60,593.74 L74.00,593.74 L74.40,593.56 L74.80,593.88 L75.20,593.54 L75.60,593.54 L76.00,593.63 L76.40,593.60 L76.80,593.70 L77.20,593.53 L77.60,593.47 L78.00,593.43 L78.40,593.03 L78.80,592.41 L79.20,591.19 L79.60,591.06 L80.00,591.13 L80.40,591.77 L80.80,592.78 L81.20,593.41 L81.60,593.64 L82.00,593.56 L82.40,594.01 L82.80,594.10 L83.20,593.78 L83.60,593.79 L84.00,593.55 L84.40,593.56 L84.80,593.71 L85.20,593.66 L85.60,594.00 L86.00,593.60 L86.40,593.51 L86.80,594.07 L87.20,593.82 L87.60,593.59 L88.00,593.83 L88.40,593.52 L88.80,593.82 L89.20,594.09 L89.60,594.02 L90.00,593.92 L90.40,593.66 L90.80,593.72 L91.20,593.60 L91.60,593.96 L92.00,593.82 L92.40,593.97 L92.80,593.70 L93.20,593.63 L93.60,593.99 L94.00,594.09 L94.40,594.01 L94.80,593.98 L95.20,593.99 L95.60,593.94 L96.00,593.64 L96.40,593.81 L96.80,593.71 L97.20,593.52 L97.60,593.52 L98.00,593.67 L98.40,593.66 L98.80,593.92 L99.20,594.07 L99.60,593.77 L100.00,594.06 L100.40,594.09 L100.80,594.07 L101.20,593.72 L101.60,593.63 L102.00,593.64 L102.40,593.62 L102.80,593.62 L103.20,593.87 L103.60,594.04 L104.00,594.00 L104.40,593.79 L104.80,593.89 L105.20,593.98 L105.60,593.54 L106.00,593.86 L106.40,593.88 L106.80,593.44 L107.20,592.75 L107.60,591.83 L108.00,591.31 L108.40,592.02 L108.80,592.50 L109.20,593.45 L109.60,593.91 L110.00,593.70 L110.40,593.73 L110.80,594.07 L111.20,593.93 L111.60,593.60 L112.00,593.58 L112.40,593.59 L112.80,594.04 L113.20,593.98 L113.60,593.59 L114.00,594.00 L114.40,594.09 L114.80,593.89 L115.20,593.66 L115.60,593.53 L116.00,592.46 L116.40,590.78 L116.80,589.83 L117.20,589.63 L117.60,591.09 L118.00,592.94 L118.40,593.46 L118.80,593.97 L119.20,593.99 L119.60,593.63 L120.00,593.65 L120.40,593.68 L120.80,593.64 L121.20,593.85 L121.60,593.66 L122.00,593.75 L122.40,593.58 L122.80,594.05 L123.20,593.71 L123.60,593.77 L124.00,593.85 L124.40,594.04 L124.80,593.75 L125.20,594.05 L125.60,593.80 L126.00,593.82 L126.40,593.81 L126.80,593.51 L127.20,593.76 L127.60,593.61 L128.00,593.50 L128.40,593.98 L128.80,593.59 L129.20,593.70 L129.60,593.50 L130.00,592.37 L130.40,590.52 L130.80,589.37 L131.20,589.86 L131.60,591.69 L132.00,592.73 L132.40,593.64 L132.80,593.62 L133.20,593.66 L133.60,593.96 L134.00,593.80 L134.40,593.84 L134.80,593.96 L135.20,594.05 L135.60,593.77 L136.00,593.87 L136.40,593.80 L136.80,593.81 L137.20,593.92 L137.60,593.77 L138.00,593.82 L138.40,593.79 L138.80,594.06 L139.20,593.92 L139.60,594.01 L140.00,593.98 L140.40,593.28 L140.80,592.82 L141.20,592.30 L141.60,592.03 L142.00,592.17 L142.40,592.92 L142.80,593.57 L143.20,593.51 L143.60,593.64 L144.00,593.54 L144.40,593.90 L144.80,593.97 L145.20,594.04 L145.60,593.59 L146.00,593.93" fill="none" stroke="#7b2e3b" stroke-width="1.2" />
<path d="M153.00,593.59 L153.50,593.62 L154.00,593.73 L154.50,593.59 L155.00,593.60 L155.50,593.63 L156.00,593.51 L156.50,593.60 L157.00,593.64 L157.50,593.69 L158.00,593.48 L158.50,593.54 L159.00,593.48 L159.50,593.69 L160.00,593.66 L160.50,593.46 L161.00,593.74 L161.50,593.74 L162.00,593.65 L162.50,593.63 L163.00,593.50 L163.50,593.45 L164.00,593.61 L164.50,593.47 L165.00,593.51 L165.50,593.52 L166.00,593.46 L166.50,593.59 L167.00,593.58 L167.50,593.70 L168.00,593.61 L168.50,593.64 L169.00,593.60 L169.50,593.65 L170.00,593.59 L170.50,593.53 L171.00,593.75 L171.50,593.75 L172.00,593.70 L172.50,593.66 L173.00,593.54 L173.50,593.52 L174.00,593.54 L174.50,593.47 L175.00,593.68 L175.50,593.57 L176.00,593.70 L176.50,593.57 L177.00,593.74 L177.50,593.70 L178.00,593.45 L178.50,593.51 L179.00,593.72 L179.50,593.59 L180.00,593.74 L180.50,593.57 L181.00,593.47 L181.50,593.64 L182.00,593.68 L182.50,593.53 L183.00,593.48 L183.50,593.55 L184.00,593.74 L184.50,593.68 L185.00,593.49 L185.50,593.52 L186.00,593.48 L186.50,593.47 L187.00,593.69 L187.50,593.50 L188.00,593.62 L188.50,593.58 L189.00,593.51 L189.50,593.67 L190.00,593.49 L190.50,593.64 L191.00,593.48 L191.50,593.58 L192.00,593.51 L192.50,593.53 L193.00,593.74 L193.50,593.69 L194.00,593.54 L194.50,593.72 L195.00,593.51 L195.50,593.57 L196.00,593.71 L196.50,593.64 L197.00,593.48 L197.50,593.75 L198.00,593.51 L198.50,593.53 L199.00,593.68 L199.50,593.55 L200.00,593.54 L200.50,593.47 L201.00,593.48 L201.50,593.62 L202.00,593.52 L202.50,593.63 L203.00,593.56 L203.50,593.59 L204.00,593.74 L204.50,593.60 L205.00,593.62 L205.50,593.71 L206.00,593.50 L206.50,593.50 L207.00,593.72 L207.50,593.70 L208.00,593.52 L208.50,593.51 L209.00,593.67 L209.50,593.73 L210.00,593.51 L210.50,593.74 L211.00,593.71 L211.50,593.63 L212.00,593.58 L212.50,593.48 L213.00,593.46 L213.50,593.74 L214.00,593.52 L214.50,593.66 L215.00,593.53 L215.50,593.70 L216.00,593.63 L216.50,593.54 L217.00,593.50 L217.50,593.67 L218.00,593.47 L218.50,593.52 L219.00,593.62 L219.50,593.71 L220.00,593.63 L220.50,593.53 L221.00,593.73 L221.50,593.51 L222.00,593.45 L222.50,593.53 L223.00,593.58 L223.50,593.47 L224.00,593.50 L224.50,593.56 L225.00,593.62 L225.50,593.49 L226.00,593.56 L226.50,593.72 L227.00,593.74 L227.50,593.65 L228.00,593.66 L228.50,593.63 L229.00,593.49 L229.50,593.46 L230.00,593.46 L230.50,593.72 L231.00,593.66 L231.50,593.74 L232.00,593.46 L232.50,593.64 L233.00,593.59 L233.50,593.67 L234.00,593.55 L234.50,593.75 L235.00,593.47 L235.50,593.61 L236.00,593.67 L236.50,593.72 L237.00,593.67 L237.50,593.66 L238.00,593.69 L238.50,593.72 L239.00,593.56 L239.50,593.66 L240.00,593.72 L240.50,593.71 L241.00,593.58 L241.50,593.69 L242.00,593.71 L242.50,593.62 L243.00,593.64 L243.50,593.56 L244.00,593.62 L244.50,593.63 L245.00,593.47 L245.50,593.64 L246.00,593.75 L246.50,593.71 L247.00,593.67 L247.50,593.57 L248.00,593.67 L248.50,593.62 L249.00,593.58 L249.50,593.70 L250.00,593.48 L250.50,593.68 L251.00,593.46 L251.50,593.63 L252.00,593.59 L252.50,593.52 L253.00,593.66 L253.50,593.60 L254.00,593.63 L254.50,593.73 L255.00,593.53 L255.50,593.45 L256.00,593.54 L256.50,593.65 L257.00,593.51 L257.50,593.50 L258.00,593.72 L258.50,593.65 L259.00,593.58 L259.50,593.72 L260.00,593.55 L260.50,593.65 L261.00,593.51 L261.50,593.58 L262.00,593.69 L262.50,593.72 L263.00,593.71 L263.50,593.57 L264.00,593.62 L264.50,593.54 L265.00,593.49 L265.50,593.60 L266.00,593.70 L266.50,593.70 L267.00,593.66 L267.50,593.74 L268.00,593.53 L268.50,593.50 L269.00,593.59 L269.50,593.53 L270.00,593.51 L270.50,593.57 L271.00,593.64 L271.50,593.60 L272.00,593.54 L272.50,593.70 L273.00,593.74 L273.50,593.59 L274.00,593.47" fill="none" stroke="#9aa39c" stroke-width="0.9" />
<path d="M153.00,592.64 L153.40,592.56 L153.80,592.65 L154.20,592.42 L154.60,592.79 L155.00,592.77 L155.40,592.52 L155.80,591.58 L156.20,590.15 L156.60,587.69 L157.00,586.45 L157.40,588.07 L157.80,590.43 L158.20,591.51 L158.60,592.64 L159.00,592.62 L159.40,592.41 L159.80,591.93 L160.20,591.06 L160.60,589.37 L161.00,588.71 L161.40,589.49 L161.80,590.74 L162.20,592.22 L162.60,592.78 L163.00,592.87 L163.40,592.67 L163.80,592.33 L164.20,592.30 L164.60,592.38 L165.00,592.86 L165.40,592.48 L165.80,592.52 L166.20,592.84 L166.60,592.49 L167.00,592.63 L167.40,592.56 L167.80,592.34 L168.20,592.65 L168.60,592.81 L169.00,592.39 L169.40,592.43 L169.80,592.55 L170.20,592.32 L170.60,592.60 L171.00,592.79 L171.40,592.69 L171.80,592.62 L172.20,592.81 L172.60,592.39 L173.00,592.64 L173.40,592.52 L173.80,592.66 L174.20,592.37 L174.60,592.76 L175.00,592.35 L175.40,592.37 L175.80,592.64 L176.20,592.35 L176.60,591.15 L177.00,589.57 L177.40,587.54 L177.80,586.16 L178.20,586.37 L178.60,587.50 L179.00,589.40 L179.40,591.17 L179.80,591.88 L180.20,592.54 L180.60,592.76 L181.00,592.76 L181.40,592.59 L181.80,592.50 L182.20,592.52 L182.60,592.04 L183.00,591.73 L183.40,590.07 L183.80,588.71 L184.20,588.56 L184.60,590.14 L185.00,591.65 L185.40,592.27 L185.80,592.78 L186.20,592.70 L186.60,592.44 L187.00,592.61 L187.40,592.84 L187.80,592.57 L188.20,592.46 L188.60,591.59 L189.00,590.61 L189.40,588.77 L189.80,587.26 L190.20,587.27 L190.60,588.84 L191.00,590.62 L191.40,591.71 L191.80,591.52 L192.20,590.47 L192.60,588.87 L193.00,587.55 L193.40,588.32 L193.80,590.25 L194.20,591.94 L194.60,592.19 L195.00,592.34 L195.40,592.36 L195.80,592.56 L196.20,592.82 L196.60,592.32 L197.00,591.85 L197.40,591.18 L197.80,590.68 L198.20,590.65 L198.60,591.35 L199.00,592.12 L199.40,592.45 L199.80,592.48 L200.20,592.68 L200.60,592.84 L201.00,592.39 L201.40,592.44 L201.80,592.67 L202.20,592.71 L202.60,592.69 L203.00,592.65 L203.40,592.80 L203.80,592.59 L204.20,592.78 L204.60,592.86 L205.00,592.47 L205.40,592.54 L205.80,592.08 L206.20,591.62 L206.60,590.56 L207.00,590.85 L207.40,591.00 L207.80,591.66 L208.20,592.24 L208.60,592.20 L209.00,592.61 L209.40,592.36 L209.80,592.65 L210.20,592.85 L210.60,592.42 L211.00,592.51 L211.40,592.35 L211.80,592.42 L212.20,592.42 L212.60,592.36 L213.00,592.90 L213.40,592.83 L213.80,592.58 L214.20,592.75 L214.60,592.72 L215.00,592.61 L215.40,592.55 L215.80,592.70 L216.20,592.63 L216.60,592.46 L217.00,592.52 L217.40,592.67 L217.80,592.64 L218.20,592.31 L218.60,592.34 L219.00,592.14 L219.40,591.69 L219.80,591.24 L220.20,590.89 L220.60,591.42 L221.00,591.67 L221.40,592.01 L221.80,592.33 L222.20,592.54 L222.60,592.75 L223.00,592.68 L223.40,592.47 L223.80,592.72 L224.20,592.60 L224.60,592.60 L225.00,592.46 L225.40,592.56 L225.80,592.50 L226.20,592.74 L226.60,592.59 L227.00,592.57 L227.40,592.59 L227.80,592.59 L228.20,592.71 L228.60,592.73 L229.00,592.78 L229.40,592.54 L229.80,592.78 L230.20,592.88 L230.60,592.90 L231.00,592.73 L231.40,592.34 L231.80,592.81 L232.20,592.80 L232.60,592.29 L233.00,592.40 L233.40,592.05 L233.80,591.36 L234.20,589.54 L234.60,587.37 L235.00,586.41 L235.40,587.30 L235.80,589.23 L236.20,591.39 L236.60,592.42 L237.00,592.33 L237.40,592.72 L237.80,592.81 L238.20,592.14 L238.60,591.63 L239.00,589.63 L239.40,586.28 L239.80,581.23 L240.20,576.46 L240.60,575.55 L241.00,578.82 L241.40,583.62 L241.80,588.07 L242.20,591.01 L242.60,592.22 L243.00,592.73 L243.40,592.30 L243.80,590.90 L244.20,585.16 L244.60,566.68 L245.00,536.81 L245.40,514.91 L245.80,522.82 L246.20,552.66 L246.60,577.69 L247.00,588.92 L247.40,592.14 L247.80,592.76 L248.20,592.81 L248.60,591.79 L249.00,590.86 L249.40,587.75 L249.80,584.94 L250.20,584.97 L250.60,587.79 L251.00,590.50 L251.40,591.81 L251.80,592.50 L252.20,591.92 L252.60,590.50 L253.00,588.16 L253.40,585.34 L253.80,582.71 L254.20,583.10 L254.60,585.21 L255.00,587.74 L255.40,589.67 L255.80,589.25 L256.20,586.46 L256.60,583.17 L257.00,581.38 L257.40,583.50 L257.80,586.60 L258.20,589.71 L258.60,590.21 L259.00,588.37 L259.40,584.43 L259.80,580.99 L260.20,581.01 L260.60,584.02 L261.00,588.01 L261.40,590.86 L261.80,592.38 L262.20,591.99 L262.60,591.45 L263.00,590.16 L263.40,587.67 L263.80,585.69 L264.20,586.14 L264.60,587.37 L265.00,589.12 L265.40,585.93 L265.80,573.57 L266.20,556.17 L266.60,551.08 L267.00,564.76 L267.40,581.74 L267.80,590.00 L268.20,592.32 L268.60,592.27 L269.00,590.41 L269.40,587.98 L269.80,585.08 L270.20,584.98 L270.60,587.76 L271.00,590.84 L271.40,591.98 L271.80,592.05 L272.20,591.72 L272.60,588.47 L273.00,583.88 L273.40,580.90 L273.80,581.90" fill="none" stroke="#7b2e3b" stroke-width="1.2" />
<path d="M238.20,592.14 L238.60,591.63 L239.00,589.63 L239.40,586.28 L239.80,581.23 L240.20,576.46 L240.60,575.55 L241.00,578.82 L241.40,583.62 L241.80,588.07 L242.20,591.01 L242.60,592.22 L243.00,592.73 L243.40,592.30 L243.80,590.90 L244.20,585.16 L244.60,566.68 L245.00,536.81 L245.40,514.91 L245.80,522.82 L246.20,552.66 L246.60,577.69 L247.00,588.92 L247.40,592.14 L247.80,592.76 L248.20,592.81 L248.60,591.79 L249.00,590.86 L249.40,587.75 L249.80,584.94 L250.20,584.97 L250.60,587.79 L251.00,590.50 L251.40,591.81 L251.80,592.50 L252.20,591.92 L252.60,590.50 L253.00,588.16 L253.40,585.34 L253.80,582.71 L254.20,583.10 L254.60,585.21 L255.00,587.74 L255.40,589.67 L255.80,589.25 L256.20,586.46 L256.60,583.17 L257.00,581.38 L257.40,583.50 L257.80,586.60 L258.20,589.71 L258.60,590.21 L259.00,588.37 L259.40,584.43 L259.80,580.99 L260.20,581.01 L260.60,584.02 L261.00,588.01 L261.40,590.86 L261.80,592.38 L262.20,591.99 L262.60,591.45 L263.00,590.16 L263.40,587.67 L263.80,585.69 L264.20,586.14 L264.60,587.37 L265.00,589.12 L265.40,585.93 L265.80,573.57 L266.20,556.17 L266.60,551.08 L267.00,564.76 L267.40,581.74 L267.80,590.00 L268.20,592.32 L268.60,592.27 L269.00,590.41 L269.40,587.98 L269.80,585.08 L270.20,584.98 L270.60,587.76 L271.00,590.84 L271.40,591.98 L271.80,592.05 L272.20,591.72 L272.60,588.47 L273.00,583.88 L273.40,580.90 L273.80,581.90" fill="none" stroke="#c4304a" stroke-width="0.7" opacity="0.8"/>
<rect x="25.3" y="508.6" width="122.00000000000001" height="90.0" rx="0" fill="none" stroke="#222" stroke-width="1.0" />
<rect x="152.8" y="508.6" width="121.59999999999997" height="90.0" rx="0" fill="none" stroke="#222" stroke-width="1.0" />
<line x1="22.7" y1="593.8" x2="25.3" y2="593.8" stroke="#222" stroke-width="0.9" />
<line x1="22.7" y1="562.0" x2="25.3" y2="562.0" stroke="#222" stroke-width="0.9" />
<line x1="22.7" y1="530.5" x2="25.3" y2="530.5" stroke="#222" stroke-width="0.9" />
<line x1="150.20000000000002" y1="593.8" x2="152.8" y2="593.8" stroke="#222" stroke-width="0.9" />
<line x1="150.20000000000002" y1="562.0" x2="152.8" y2="562.0" stroke="#222" stroke-width="0.9" />
<line x1="150.20000000000002" y1="530.5" x2="152.8" y2="530.5" stroke="#222" stroke-width="0.9" />
<text transform="translate(21.5,593.8) rotate(-90)" font-size="7.0" fill="#222" text-anchor="middle">0</text>
<text transform="translate(21.5,562.0) rotate(-90)" font-size="7.0" fill="#222" text-anchor="middle">1</text>
<text transform="translate(21.5,530.5) rotate(-90)" font-size="7.0" fill="#222" text-anchor="middle">2</text>
<text transform="translate(14.2,553.5) rotate(-90)" font-size="7.3" fill="#222" text-anchor="middle">Average CAGE signal</text>
<line x1="25.8" y1="598.6" x2="25.8" y2="601.6" stroke="#222" stroke-width="0.9" />
<text x="30.0" y="609.6" font-size="7.2" fill="#222" text-anchor="middle" >−1kb</text>
<line x1="66.6" y1="598.6" x2="66.6" y2="601.6" stroke="#222" stroke-width="0.9" />
<text x="66.8" y="609.6" font-size="7.2" fill="#222" text-anchor="middle" >start</text>
<line x1="107" y1="598.6" x2="107" y2="601.6" stroke="#222" stroke-width="0.9" />
<text x="107" y="609.6" font-size="7.2" fill="#222" text-anchor="middle" >end</text>
<line x1="146.2" y1="598.6" x2="146.2" y2="601.6" stroke="#222" stroke-width="0.9" />
<text x="140.5" y="609.6" font-size="7.2" fill="#222" text-anchor="middle" >1kb</text>
<line x1="153.3" y1="598.6" x2="153.3" y2="601.6" stroke="#222" stroke-width="0.9" />
<text x="158.6" y="609.6" font-size="7.2" fill="#222" text-anchor="middle" >−1kb</text>
<line x1="193.8" y1="598.6" x2="193.8" y2="601.6" stroke="#222" stroke-width="0.9" />
<text x="193.8" y="609.6" font-size="7.2" fill="#222" text-anchor="middle" >start</text>
<line x1="234.1" y1="598.6" x2="234.1" y2="601.6" stroke="#222" stroke-width="0.9" />
<text x="234.1" y="609.6" font-size="7.2" fill="#222" text-anchor="middle" >end</text>
<line x1="273.6" y1="598.6" x2="273.6" y2="601.6" stroke="#222" stroke-width="0.9" />
<text x="268.2" y="609.6" font-size="7.2" fill="#222" text-anchor="middle" >1kb</text>
<text x="30" y="522.2" font-size="7.1" fill="#4b4493">HMEpC CAGE<tspan font-size="5.6" dy="-2.6">+</tspan></text>
<text x="159.8" y="522.2" font-size="7.1" fill="#4b4493">HMEpC CAGE<tspan font-size="5.6" dy="-2.6">−</tspan></text>
<text x="284.0" y="392.3" font-size="9.2" fill="#111" text-anchor="start" font-weight="bold" >F</text>
<rect x="303.7" y="397.2" width="120.3" height="90.6" rx="0" fill="#fff" stroke="none" stroke-width="1" />
<rect x="304.7" y="439.8" width="117" height="7.8" rx="0" fill="#fdeef5" stroke="none" stroke-width="1" />
<rect x="345" y="432" width="39" height="9.8" rx="0" fill="#fde9f2" stroke="none" stroke-width="1" />
<rect x="353.2" y="415.7" width="21.3" height="25" rx="0" fill="#fde9f2" stroke="none" stroke-width="1" />
<line x1="305.5" y1="405.6" x2="422" y2="405.6" stroke="#c8c8c8" stroke-width="0.7" stroke-dasharray="2.6,2.2" />
<line x1="305.5" y1="429.4" x2="422" y2="429.4" stroke="#c8c8c8" stroke-width="0.7" stroke-dasharray="2.6,2.2" />
<line x1="305.5" y1="453.6" x2="422" y2="453.6" stroke="#c8c8c8" stroke-width="0.7" stroke-dasharray="2.6,2.2" />
<line x1="305.5" y1="477.7" x2="422" y2="477.7" stroke="#c8c8c8" stroke-width="0.7" stroke-dasharray="2.6,2.2" />
<path d="M308.30,445.10 L308.80,445.44 L309.30,445.48 L309.80,445.45 L310.30,445.36 L310.80,445.66 L311.30,445.66 L311.80,445.48 L312.30,445.41 L312.80,445.19 L313.30,444.97 L313.80,445.04 L314.30,445.03 L314.80,444.65 L315.30,444.90 L315.80,444.53 L316.30,444.45 L316.80,444.31 L317.30,444.76 L317.80,444.63 L318.30,444.72 L318.80,444.64 L319.30,444.40 L319.80,444.61 L320.30,444.76 L320.80,444.63 L321.30,445.09 L321.80,444.83 L322.30,444.72 L322.80,445.03 L323.30,444.63 L323.80,444.95 L324.30,444.61 L324.80,444.54 L325.30,444.30 L325.80,444.23 L326.30,443.95 L326.80,443.74 L327.30,444.04 L327.80,443.63 L328.30,443.83 L328.80,443.50 L329.30,443.86 L329.80,443.82 L330.30,443.76 L330.80,443.79 L331.30,443.73 L331.80,443.84 L332.30,443.55 L332.80,443.73 L333.30,443.89 L333.80,443.53 L334.30,443.82 L334.80,443.70 L335.30,443.33 L335.80,443.15 L336.30,443.01 L336.80,442.79 L337.30,442.90 L337.80,442.39 L338.30,442.02 L338.80,441.87 L339.30,442.01 L339.80,441.99 L340.30,441.65 L340.80,441.55 L341.30,441.49 L341.80,441.51 L342.30,441.16 L342.80,441.26 L343.30,441.12 L343.80,441.01 L344.30,440.61 L344.80,440.39 L345.30,440.20 L345.80,440.16 L346.30,439.49 L346.80,439.17 L347.30,438.53 L347.80,437.88 L348.30,437.27 L348.80,437.00 L349.30,436.31 L349.80,435.41 L350.30,434.83 L350.80,434.08 L351.30,433.43 L351.80,432.69 L352.30,431.62 L352.80,431.11 L353.30,430.29 L353.80,429.27 L354.30,428.57 L354.80,427.51 L355.30,426.56 L355.80,425.59 L356.30,424.98 L356.80,423.69 L357.30,422.70 L357.80,422.13 L358.30,421.18 L358.80,420.14 L359.30,419.45 L359.80,418.25 L360.30,417.61 L360.80,416.97 L361.30,416.48 L361.80,415.90 L362.30,415.52 L362.80,415.44 L363.30,415.63 L363.80,415.71 L364.30,415.76 L364.80,415.90 L365.30,416.18 L365.80,417.02 L366.30,417.38 L366.80,418.12 L367.30,418.48 L367.80,419.33 L368.30,420.44 L368.80,421.24 L369.30,422.13 L369.80,422.85 L370.30,423.63 L370.80,424.59 L371.30,425.60 L371.80,426.22 L372.30,427.22 L372.80,427.99 L373.30,429.14 L373.80,429.67 L374.30,430.91 L374.80,431.94 L375.30,432.37 L375.80,433.53 L376.30,434.41 L376.80,435.34 L377.30,435.98 L377.80,436.55 L378.30,437.30 L378.80,438.20 L379.30,438.72 L379.80,438.82 L380.30,439.22 L380.80,439.57 L381.30,439.83 L381.80,440.28 L382.30,440.32 L382.80,440.84 L383.30,440.86 L383.80,440.71 L384.30,441.02 L384.80,441.01 L385.30,441.20 L385.80,441.18 L386.30,441.28 L386.80,441.42 L387.30,441.66 L387.80,441.97 L388.30,442.04 L388.80,441.93 L389.30,442.39 L389.80,442.58 L390.30,442.62 L390.80,442.68 L391.30,442.32 L391.80,442.55 L392.30,442.32 L392.80,442.62 L393.30,442.26 L393.80,442.44 L394.30,442.12 L394.80,442.25 L395.30,441.98 L395.80,441.78 L396.30,441.91 L396.80,441.85 L397.30,442.15 L397.80,441.88 L398.30,442.04 L398.80,442.13 L399.30,442.42 L399.80,442.09 L400.30,442.44 L400.80,442.48 L401.30,442.67 L401.80,442.84 L402.30,442.55 L402.80,442.75 L403.30,442.64 L403.80,442.62 L404.30,442.30 L404.80,442.60 L405.30,442.59 L405.80,442.18 L406.30,442.07 L406.80,442.32 L407.30,441.82 L407.80,441.76 L408.30,441.74 L408.80,442.12 L409.30,442.12 L409.80,442.02 L410.30,442.18 L410.80,441.97 L411.30,442.38 L411.80,442.37 L412.30,442.50 L412.80,442.51 L413.30,442.57 L413.80,442.51 L414.30,442.42 L414.80,442.59 L415.30,442.45 L415.80,442.61 L416.30,442.59 L416.80,442.45 L417.30,442.22 L417.80,442.01 L418.30,442.01 L418.80,442.00 L419.30,442.03 L419.80,442.18 L420.30,441.75" fill="none" stroke="#8d2a3b" stroke-width="1.4" />
<path d="M308.30,461.16 L308.80,461.22 L309.30,461.35 L309.80,461.45 L310.30,461.42 L310.80,461.35 L311.30,461.38 L311.80,461.30 L312.30,461.32 L312.80,461.19 L313.30,461.11 L313.80,460.84 L314.30,461.02 L314.80,460.72 L315.30,460.73 L315.80,460.74 L316.30,460.74 L316.80,460.70 L317.30,460.28 L317.80,460.39 L318.30,460.39 L318.80,460.44 L319.30,460.38 L319.80,460.59 L320.30,460.46 L320.80,460.62 L321.30,460.94 L321.80,460.93 L322.30,460.88 L322.80,460.79 L323.30,461.17 L323.80,461.10 L324.30,460.91 L324.80,460.95 L325.30,461.05 L325.80,461.03 L326.30,460.80 L326.80,461.01 L327.30,460.68 L327.80,460.56 L328.30,460.71 L328.80,460.35 L329.30,460.48 L329.80,460.21 L330.30,460.31 L330.80,460.13 L331.30,460.15 L331.80,460.36 L332.30,460.17 L332.80,460.18 L333.30,460.29 L333.80,460.21 L334.30,460.23 L334.80,460.38 L335.30,460.40 L335.80,460.43 L336.30,460.80 L336.80,460.49 L337.30,460.84 L337.80,460.91 L338.30,460.83 L338.80,460.55 L339.30,460.71 L339.80,460.49 L340.30,460.65 L340.80,460.62 L341.30,460.36 L341.80,460.18 L342.30,460.30 L342.80,460.04 L343.30,460.04 L343.80,460.03 L344.30,460.14 L344.80,459.89 L345.30,459.77 L345.80,460.02 L346.30,460.04 L346.80,459.94 L347.30,459.79 L347.80,459.90 L348.30,460.04 L348.80,460.17 L349.30,460.11 L349.80,460.40 L350.30,460.48 L350.80,460.57 L351.30,460.59 L351.80,460.27 L352.30,460.50 L352.80,460.29 L353.30,460.59 L353.80,460.49 L354.30,460.43 L354.80,460.13 L355.30,460.00 L355.80,460.21 L356.30,460.04 L356.80,459.96 L357.30,459.82 L357.80,459.88 L358.30,459.64 L358.80,459.57 L359.30,459.57 L359.80,459.54 L360.30,459.68 L360.80,459.81 L361.30,459.52 L361.80,459.57 L362.30,459.81 L362.80,459.95 L363.30,459.82 L363.80,459.92 L364.30,459.89 L364.80,459.94 L365.30,460.16 L365.80,460.25 L366.30,460.25 L366.80,460.04 L367.30,459.99 L367.80,460.28 L368.30,460.06 L368.80,459.93 L369.30,459.97 L369.80,459.89 L370.30,459.72 L370.80,459.46 L371.30,459.68 L371.80,459.36 L372.30,459.24 L372.80,459.32 L373.30,459.36 L373.80,459.39 L374.30,459.22 L374.80,459.46 L375.30,459.42 L375.80,459.34 L376.30,459.67 L376.80,459.72 L377.30,459.83 L377.80,459.81 L378.30,459.68 L378.80,459.96 L379.30,460.04 L379.80,459.92 L380.30,460.07 L380.80,460.08 L381.30,459.82 L381.80,460.00 L382.30,459.93 L382.80,459.80 L383.30,459.41 L383.80,459.46 L384.30,459.47 L384.80,459.39 L385.30,459.37 L385.80,459.25 L386.30,459.00 L386.80,459.27 L387.30,459.09 L387.80,459.22 L388.30,458.96 L388.80,459.30 L389.30,459.16 L389.80,459.31 L390.30,459.35 L390.80,459.48 L391.30,459.34 L391.80,459.29 L392.30,459.48 L392.80,459.44 L393.30,459.62 L393.80,459.75 L394.30,459.57 L394.80,459.47 L395.30,459.40 L395.80,459.51 L396.30,459.51 L396.80,459.21 L397.30,459.38 L397.80,459.12 L398.30,458.99 L398.80,459.23 L399.30,458.99 L399.80,459.07 L400.30,458.86 L400.80,458.66 L401.30,458.69 L401.80,458.75 L402.30,458.85 L402.80,458.93 L403.30,458.97 L403.80,458.98 L404.30,458.89 L404.80,459.02 L405.30,459.07 L405.80,459.18 L406.30,459.15 L406.80,459.31 L407.30,459.31 L407.80,459.16 L408.30,459.48 L408.80,459.37 L409.30,459.42 L409.80,459.35 L410.30,459.28 L410.80,459.31 L411.30,458.98 L411.80,458.90 L412.30,458.66 L412.80,458.84 L413.30,458.73 L413.80,458.66 L414.30,458.77 L414.80,458.41 L415.30,458.40 L415.80,458.60 L416.30,458.64 L416.80,458.54 L417.30,458.41 L417.80,458.59 L418.30,458.84 L418.80,458.78 L419.30,458.83 L419.80,458.87 L420.30,459.02" fill="none" stroke="#6f84c8" stroke-width="1.3" />
<path d="M308.30,478.55 L308.80,478.54 L309.30,478.56 L309.80,478.49 L310.30,478.34 L310.80,478.26 L311.30,478.38 L311.80,478.34 L312.30,478.34 L312.80,478.08 L313.30,478.23 L313.80,478.19 L314.30,477.90 L314.80,477.92 L315.30,477.96 L315.80,477.76 L316.30,477.92 L316.80,477.69 L317.30,477.76 L317.80,477.58 L318.30,477.50 L318.80,477.43 L319.30,477.46 L319.80,477.46 L320.30,477.24 L320.80,477.31 L321.30,477.14 L321.80,477.16 L322.30,477.01 L322.80,476.88 L323.30,476.79 L323.80,476.69 L324.30,476.80 L324.80,476.64 L325.30,476.47 L325.80,476.62 L326.30,476.47 L326.80,476.20 L327.30,476.33 L327.80,476.20 L328.30,476.07 L328.80,476.00 L329.30,476.05 L329.80,475.79 L330.30,475.78 L330.80,475.69 L331.30,475.52 L331.80,475.43 L332.30,475.46 L332.80,475.33 L333.30,475.19 L333.80,475.12 L334.30,474.94 L334.80,475.02 L335.30,474.70 L335.80,474.80 L336.30,474.66 L336.80,474.50 L337.30,474.52 L337.80,474.44 L338.30,474.20 L338.80,474.24 L339.30,474.06 L339.80,474.17 L340.30,473.95 L340.80,473.87 L341.30,473.76 L341.80,473.64 L342.30,473.60 L342.80,473.52 L343.30,473.59 L343.80,473.59 L344.30,473.34 L344.80,473.25 L345.30,473.31 L345.80,473.13 L346.30,473.16 L346.80,473.21 L347.30,473.00 L347.80,473.10 L348.30,473.01 L348.80,472.83 L349.30,472.84 L349.80,472.91 L350.30,472.73 L350.80,472.73 L351.30,472.81 L351.80,472.86 L352.30,472.75 L352.80,472.78 L353.30,472.57 L353.80,472.65 L354.30,472.65 L354.80,472.82 L355.30,472.66 L355.80,472.79 L356.30,472.57 L356.80,472.72 L357.30,472.85 L357.80,472.83 L358.30,472.80 L358.80,472.70 L359.30,472.95 L359.80,472.73 L360.30,473.03 L360.80,473.00 L361.30,473.03 L361.80,473.01 L362.30,472.95 L362.80,473.05 L363.30,473.20 L363.80,473.25 L364.30,473.22 L364.80,473.40 L365.30,473.24 L365.80,473.37 L366.30,473.38 L366.80,473.52 L367.30,473.73 L367.80,473.79 L368.30,473.68 L368.80,473.80 L369.30,473.82 L369.80,474.06 L370.30,474.08 L370.80,474.10 L371.30,474.22 L371.80,474.45 L372.30,474.41 L372.80,474.57 L373.30,474.64 L373.80,474.68 L374.30,474.79 L374.80,474.82 L375.30,474.86 L375.80,475.04 L376.30,475.07 L376.80,475.17 L377.30,475.22 L377.80,475.52 L378.30,475.47 L378.80,475.49 L379.30,475.53 L379.80,475.67 L380.30,475.96 L380.80,475.88 L381.30,476.07 L381.80,476.02 L382.30,476.24 L382.80,476.26 L383.30,476.43 L383.80,476.45 L384.30,476.48 L384.80,476.54 L385.30,476.71 L385.80,476.86 L386.30,476.89 L386.80,476.91 L387.30,476.94 L387.80,477.18 L388.30,477.24 L388.80,477.10 L389.30,477.33 L389.80,477.42 L390.30,477.46 L390.80,477.61 L391.30,477.65 L391.80,477.52 L392.30,477.80 L392.80,477.66 L393.30,477.74 L393.80,477.97 L394.30,477.78 L394.80,477.90 L395.30,478.02 L395.80,477.97 L396.30,478.01 L396.80,478.22 L397.30,478.21 L397.80,478.29 L398.30,478.35 L398.80,478.42 L399.30,478.46 L399.80,478.48 L400.30,478.56 L400.80,478.46 L401.30,478.55 L401.80,478.53 L402.30,478.70 L402.80,478.63 L403.30,478.60 L403.80,478.69 L404.30,478.61 L404.80,478.59 L405.30,478.69 L405.80,478.64 L406.30,478.62 L406.80,478.67 L407.30,478.80 L407.80,478.91 L408.30,478.72 L408.80,478.91 L409.30,478.77 L409.80,478.91 L410.30,478.86 L410.80,478.92 L411.30,479.02 L411.80,478.94 L412.30,478.95 L412.80,479.06 L413.30,478.89 L413.80,478.97 L414.30,479.09 L414.80,479.14 L415.30,479.19 L415.80,478.98 L416.30,479.10 L416.80,479.02 L417.30,479.14 L417.80,479.19 L418.30,478.99 L418.80,479.06 L419.30,479.24 L419.80,479.07 L420.30,479.16" fill="none" stroke="#a7bca9" stroke-width="1.3" />
<rect x="303.7" y="397.2" width="120.3" height="90.6" rx="0" fill="none" stroke="#222" stroke-width="1.0" />
<line x1="301.1" y1="405.6" x2="303.7" y2="405.6" stroke="#222" stroke-width="0.9" />
<text transform="translate(299.5,405.6) rotate(-90)" font-size="7.0" fill="#222" text-anchor="middle">5.0</text>
<line x1="301.1" y1="429.4" x2="303.7" y2="429.4" stroke="#222" stroke-width="0.9" />
<text transform="translate(299.5,429.4) rotate(-90)" font-size="7.0" fill="#222" text-anchor="middle">4.0</text>
<line x1="301.1" y1="453.6" x2="303.7" y2="453.6" stroke="#222" stroke-width="0.9" />
<text transform="translate(299.5,453.6) rotate(-90)" font-size="7.0" fill="#222" text-anchor="middle">3.0</text>
<line x1="301.1" y1="477.7" x2="303.7" y2="477.7" stroke="#222" stroke-width="0.9" />
<text transform="translate(299.5,477.7) rotate(-90)" font-size="7.0" fill="#222" text-anchor="middle">2.0</text>
<text transform="translate(291.4,440.4) rotate(-90)" font-size="7.6" fill="#222" text-anchor="middle">Average ATAC signal</text>
<line x1="308.3" y1="487.8" x2="308.3" y2="490.8" stroke="#222" stroke-width="0.9" />
<text x="308.3" y="498.6" font-size="7.2" fill="#222" text-anchor="middle" >−1kb</text>
<line x1="363.8" y1="487.8" x2="363.8" y2="490.8" stroke="#222" stroke-width="0.9" />
<text x="363.8" y="498.6" font-size="7.2" fill="#222" text-anchor="middle" >0</text>
<line x1="420" y1="487.8" x2="420" y2="490.8" stroke="#222" stroke-width="0.9" />
<text x="420" y="498.6" font-size="7.2" fill="#222" text-anchor="middle" >1kb</text>
<rect x="443.2" y="418.6" width="86.8" height="47.8" rx="2" fill="#fff" stroke="#a8a8a8" stroke-width="0.8" stroke-dasharray="2,1.6" />
<rect x="448.5" y="424.4" width="16" height="7.8" rx="1.5" fill="#d0304f" stroke="none" stroke-width="1" />
<text x="469.3" y="430.79999999999995" font-size="7.1" fill="#222" text-anchor="start" textLength="17.6" lengthAdjust="spacingAndGlyphs">TCNE</text>
<rect x="448.5" y="438.6" width="16" height="7.8" rx="1.5" fill="#9dbfa5" stroke="none" stroke-width="1" />
<text x="469.3" y="445.0" font-size="7.1" fill="#222" text-anchor="start" textLength="48" lengthAdjust="spacingAndGlyphs">Shuffled region</text>
<rect x="448.5" y="452.8" width="16" height="7.8" rx="1.5" fill="#7189c9" stroke="none" stroke-width="1" />
<text x="469.3" y="459.2" font-size="7.1" fill="#222" text-anchor="start" textLength="54" lengthAdjust="spacingAndGlyphs">Controlled region</text>
<text x="282.6" y="512.6" font-size="9.5" fill="#111" text-anchor="start" font-weight="bold" >G</text>
<rect x="303.7" y="532.2" width="105.5" height="66.2" rx="0" fill="#fff" stroke="none" stroke-width="1" />
<rect x="320.3" y="551.9" width="23.7" height="24.6" rx="0" fill="#fbdcee" stroke="none" stroke-width="1" />
<line x1="305.7" y1="535.3" x2="407.2" y2="535.3" stroke="#c8c8c8" stroke-width="0.7" stroke-dasharray="2.6,2.2" />
<line x1="305.7" y1="549.6" x2="407.2" y2="549.6" stroke="#c8c8c8" stroke-width="0.7" stroke-dasharray="2.6,2.2" />
<line x1="305.7" y1="564.0" x2="407.2" y2="564.0" stroke="#c8c8c8" stroke-width="0.7" stroke-dasharray="2.6,2.2" />
<line x1="305.7" y1="578.2" x2="407.2" y2="578.2" stroke="#c8c8c8" stroke-width="0.7" stroke-dasharray="2.6,2.2" />
<line x1="305.7" y1="592.4" x2="407.2" y2="592.4" stroke="#c8c8c8" stroke-width="0.7" stroke-dasharray="2.6,2.2" />
<clipPath id="vcg1"><path d="M332.50,537.10 L332.60,545.00 L332.80,549.50 L333.80,551.00 L334.80,551.90 L336.20,554.00 L337.50,556.10 L339.10,557.70 L341.70,560.40 L342.20,563.50 L341.70,566.70 L340.70,569.90 L339.60,573.00 L337.00,575.20 L336.40,576.80 L335.90,578.40 L334.80,580.50 L333.50,582.60 L332.70,584.00 L332.60,593.20 L331.80,593.20 L331.70,584.00 L330.90,582.60 L329.60,580.50 L328.50,578.40 L328.00,576.80 L327.40,575.20 L324.80,573.00 L323.70,569.90 L322.70,566.70 L322.20,563.50 L322.70,560.40 L325.30,557.70 L326.90,556.10 L328.20,554.00 L329.60,551.90 L330.60,551.00 L331.60,549.50 L331.80,545.00 L331.90,537.10 Z"/></clipPath>
<path d="M332.50,537.10 L332.60,545.00 L332.80,549.50 L333.80,551.00 L334.80,551.90 L336.20,554.00 L337.50,556.10 L339.10,557.70 L341.70,560.40 L342.20,563.50 L341.70,566.70 L340.70,569.90 L339.60,573.00 L337.00,575.20 L336.40,576.80 L335.90,578.40 L334.80,580.50 L333.50,582.60 L332.70,584.00 L332.60,593.20 L331.80,593.20 L331.70,584.00 L330.90,582.60 L329.60,580.50 L328.50,578.40 L328.00,576.80 L327.40,575.20 L324.80,573.00 L323.70,569.90 L322.70,566.70 L322.20,563.50 L322.70,560.40 L325.30,557.70 L326.90,556.10 L328.20,554.00 L329.60,551.90 L330.60,551.00 L331.60,549.50 L331.80,545.00 L331.90,537.10 Z" fill="#a53a4f" stroke="none" stroke-width="1" />
<g clip-path="url(#vcg1)">
<rect x="327.9" y="551.9" width="8.2" height="23.8" rx="0" fill="#dd2a4e" stroke="none" stroke-width="1" />
</g>
<path d="M332.50,537.10 L332.60,545.00 L332.80,549.50 L333.80,551.00 L334.80,551.90 L336.20,554.00 L337.50,556.10 L339.10,557.70 L341.70,560.40 L342.20,563.50 L341.70,566.70 L340.70,569.90 L339.60,573.00 L337.00,575.20 L336.40,576.80 L335.90,578.40 L334.80,580.50 L333.50,582.60 L332.70,584.00 L332.60,593.20 L331.80,593.20 L331.70,584.00 L330.90,582.60 L329.60,580.50 L328.50,578.40 L328.00,576.80 L327.40,575.20 L324.80,573.00 L323.70,569.90 L322.70,566.70 L322.20,563.50 L322.70,560.40 L325.30,557.70 L326.90,556.10 L328.20,554.00 L329.60,551.90 L330.60,551.00 L331.60,549.50 L331.80,545.00 L331.90,537.10 Z" fill="none" stroke="#3a2a2e" stroke-width="0.9" stroke-linejoin="round"/>
<path d="M380.80,548.10 L380.90,553.00 L381.30,556.50 L381.90,558.60 L382.60,560.50 L383.40,562.50 L385.00,564.40 L387.10,566.30 L389.40,568.20 L391.90,570.10 L394.60,571.60 L397.70,573.00 L401.90,574.00 L402.70,574.60 L396.40,575.30 L391.90,575.90 L389.90,576.60 L389.40,577.30 L391.90,578.00 L393.00,578.70 L389.40,579.40 L384.90,580.00 L382.90,581.00 L382.00,582.50 L381.40,585.00 L380.90,592.00 L379.90,592.00 L379.40,585.00 L378.80,582.50 L377.90,581.00 L375.90,580.00 L371.40,579.40 L367.80,578.70 L368.90,578.00 L371.40,577.30 L370.90,576.60 L368.90,575.90 L364.40,575.30 L358.10,574.60 L358.90,574.00 L363.10,573.00 L366.20,571.60 L368.90,570.10 L371.40,568.20 L373.70,566.30 L375.80,564.40 L377.40,562.50 L378.20,560.50 L378.90,558.60 L379.50,556.50 L379.90,553.00 L380.00,548.10 Z" fill="#9fbea6" stroke="#2f3331" stroke-width="1.1" stroke-linejoin="round"/>
<rect x="303.7" y="532.2" width="105.5" height="66.2" rx="0" fill="none" stroke="#222" stroke-width="1.0" />
<line x1="301.09999999999997" y1="592.4" x2="303.7" y2="592.4" stroke="#222" stroke-width="0.9" />
<text transform="translate(298.4,592.4) rotate(-90)" font-size="7.0" fill="#222" text-anchor="middle">0</text>
<line x1="301.09999999999997" y1="578.2" x2="303.7" y2="578.2" stroke="#222" stroke-width="0.9" />
<text transform="translate(298.4,578.2) rotate(-90)" font-size="7.0" fill="#222" text-anchor="middle">5</text>
<line x1="301.09999999999997" y1="564.0" x2="303.7" y2="564.0" stroke="#222" stroke-width="0.9" />
<text transform="translate(298.4,564.0) rotate(-90)" font-size="7.0" fill="#222" text-anchor="middle">10</text>
<line x1="301.09999999999997" y1="549.6" x2="303.7" y2="549.6" stroke="#222" stroke-width="0.9" />
<text transform="translate(298.4,549.6) rotate(-90)" font-size="7.0" fill="#222" text-anchor="middle">15</text>
<line x1="301.09999999999997" y1="535.3" x2="303.7" y2="535.3" stroke="#222" stroke-width="0.9" />
<text transform="translate(298.4,535.3) rotate(-90)" font-size="7.0" fill="#222" text-anchor="middle">20</text>
<text transform="translate(291.4,565.6) rotate(-90)" font-size="7.3" fill="#222" text-anchor="middle">log<tspan font-size="4.7" dy="1.4">2</tspan><tspan dy="-1.4">(GRO-seq signal)</tspan></text>
<line x1="332.2" y1="598.4" x2="332.2" y2="601.4" stroke="#222" stroke-width="0.9" />
<text x="332.2" y="609.4" font-size="7.2" fill="#222" text-anchor="middle" >TCNE</text>
<line x1="380.4" y1="598.4" x2="380.4" y2="601.4" stroke="#222" stroke-width="0.9" />
<text x="380.4" y="609.4" font-size="7.2" fill="#222" text-anchor="middle" >Shuffled region</text>
<text x="332" y="515.6" font-size="8.9" fill="#433d8a" text-anchor="start" font-weight="bold" textLength="48.5" lengthAdjust="spacingAndGlyphs">Plus strand</text>
<text x="320.6" y="526.0" font-size="7.4" fill="#222">Wilcoxon, <tspan font-style="italic">P</tspan> &lt; 2.2×10<tspan font-size="4.2" dy="-2.8">−16</tspan></text>
<rect x="434.1" y="532.2" width="105.69999999999993" height="66.2" rx="0" fill="#fff" stroke="none" stroke-width="1" />
<rect x="456.1" y="551.9" width="15.3" height="31.7" rx="0" fill="#fbdcee" stroke="none" stroke-width="1" />
<line x1="436.1" y1="535.3" x2="537.8" y2="535.3" stroke="#c8c8c8" stroke-width="0.7" stroke-dasharray="2.6,2.2" />
<line x1="436.1" y1="549.6" x2="537.8" y2="549.6" stroke="#c8c8c8" stroke-width="0.7" stroke-dasharray="2.6,2.2" />
<line x1="436.1" y1="564.0" x2="537.8" y2="564.0" stroke="#c8c8c8" stroke-width="0.7" stroke-dasharray="2.6,2.2" />
<line x1="436.1" y1="578.2" x2="537.8" y2="578.2" stroke="#c8c8c8" stroke-width="0.7" stroke-dasharray="2.6,2.2" />
<line x1="436.1" y1="592.4" x2="537.8" y2="592.4" stroke="#c8c8c8" stroke-width="0.7" stroke-dasharray="2.6,2.2" />
<clipPath id="vcg2"><path d="M463.50,540.30 L463.65,548.00 L464.00,550.90 L465.70,551.90 L467.20,554.00 L468.70,556.10 L471.10,559.30 L471.70,562.50 L471.40,566.70 L470.70,571.00 L470.10,574.70 L467.00,575.70 L466.60,577.00 L466.40,578.40 L466.70,579.60 L465.70,580.50 L464.70,581.50 L463.80,583.00 L463.60,592.60 L462.80,592.60 L462.60,583.00 L461.70,581.50 L460.70,580.50 L459.70,579.60 L460.00,578.40 L459.80,577.00 L459.40,575.70 L456.30,574.70 L455.70,571.00 L455.00,566.70 L454.70,562.50 L455.30,559.30 L457.70,556.10 L459.20,554.00 L460.70,551.90 L462.40,550.90 L462.75,548.00 L462.90,540.30 Z"/></clipPath>
<path d="M463.50,540.30 L463.65,548.00 L464.00,550.90 L465.70,551.90 L467.20,554.00 L468.70,556.10 L471.10,559.30 L471.70,562.50 L471.40,566.70 L470.70,571.00 L470.10,574.70 L467.00,575.70 L466.60,577.00 L466.40,578.40 L466.70,579.60 L465.70,580.50 L464.70,581.50 L463.80,583.00 L463.60,592.60 L462.80,592.60 L462.60,583.00 L461.70,581.50 L460.70,580.50 L459.70,579.60 L460.00,578.40 L459.80,577.00 L459.40,575.70 L456.30,574.70 L455.70,571.00 L455.00,566.70 L454.70,562.50 L455.30,559.30 L457.70,556.10 L459.20,554.00 L460.70,551.90 L462.40,550.90 L462.75,548.00 L462.90,540.30 Z" fill="#a53a4f" stroke="none" stroke-width="1" />
<g clip-path="url(#vcg2)">
<rect x="455.1" y="559.8" width="16.2" height="15.4" rx="0" fill="#dd2a4e" stroke="none" stroke-width="1" />
</g>
<path d="M463.50,540.30 L463.65,548.00 L464.00,550.90 L465.70,551.90 L467.20,554.00 L468.70,556.10 L471.10,559.30 L471.70,562.50 L471.40,566.70 L470.70,571.00 L470.10,574.70 L467.00,575.70 L466.60,577.00 L466.40,578.40 L466.70,579.60 L465.70,580.50 L464.70,581.50 L463.80,583.00 L463.60,592.60 L462.80,592.60 L462.60,583.00 L461.70,581.50 L460.70,580.50 L459.70,579.60 L460.00,578.40 L459.80,577.00 L459.40,575.70 L456.30,574.70 L455.70,571.00 L455.00,566.70 L454.70,562.50 L455.30,559.30 L457.70,556.10 L459.20,554.00 L460.70,551.90 L462.40,550.90 L462.75,548.00 L462.90,540.30 Z" fill="none" stroke="#3a2a2e" stroke-width="0.9" stroke-linejoin="round"/>
<path d="M511.50,548.70 L511.60,556.40 L512.20,559.60 L513.80,561.80 L516.60,565.10 L520.40,568.40 L522.00,570.50 L524.20,572.70 L529.60,573.80 L532.90,574.50 L524.10,575.10 L517.10,576.50 L516.10,577.60 L519.10,578.20 L522.00,578.70 L519.10,579.30 L515.10,579.80 L513.30,580.90 L512.10,583.10 L511.50,592.40 L510.70,592.40 L510.10,583.10 L508.90,580.90 L507.10,579.80 L503.10,579.30 L500.20,578.70 L503.10,578.20 L506.10,577.60 L505.10,576.50 L498.10,575.10 L489.30,574.50 L492.60,573.80 L498.00,572.70 L500.20,570.50 L501.80,568.40 L505.60,565.10 L508.40,561.80 L510.00,559.60 L510.60,556.40 L510.70,548.70 Z" fill="#9fbea6" stroke="#2f3331" stroke-width="1.1" stroke-linejoin="round"/>
<rect x="434.1" y="532.2" width="105.69999999999993" height="66.2" rx="0" fill="none" stroke="#222" stroke-width="1.0" />
<line x1="431.5" y1="592.4" x2="434.1" y2="592.4" stroke="#222" stroke-width="0.9" />
<text transform="translate(428.8,592.4) rotate(-90)" font-size="7.0" fill="#222" text-anchor="middle">0</text>
<line x1="431.5" y1="578.2" x2="434.1" y2="578.2" stroke="#222" stroke-width="0.9" />
<text transform="translate(428.8,578.2) rotate(-90)" font-size="7.0" fill="#222" text-anchor="middle">5</text>
<line x1="431.5" y1="564.0" x2="434.1" y2="564.0" stroke="#222" stroke-width="0.9" />
<text transform="translate(428.8,564.0) rotate(-90)" font-size="7.0" fill="#222" text-anchor="middle">10</text>
<line x1="431.5" y1="549.6" x2="434.1" y2="549.6" stroke="#222" stroke-width="0.9" />
<text transform="translate(428.8,549.6) rotate(-90)" font-size="7.0" fill="#222" text-anchor="middle">15</text>
<line x1="431.5" y1="535.3" x2="434.1" y2="535.3" stroke="#222" stroke-width="0.9" />
<text transform="translate(428.8,535.3) rotate(-90)" font-size="7.0" fill="#222" text-anchor="middle">20</text>
<text transform="translate(421.8,565.6) rotate(-90)" font-size="7.3" fill="#222" text-anchor="middle">log<tspan font-size="4.7" dy="1.4">2</tspan><tspan dy="-1.4">(GRO-seq signal)</tspan></text>
<line x1="463.2" y1="598.4" x2="463.2" y2="601.4" stroke="#222" stroke-width="0.9" />
<text x="463.2" y="609.4" font-size="7.2" fill="#222" text-anchor="middle" >TCNE</text>
<line x1="511.1" y1="598.4" x2="511.1" y2="601.4" stroke="#222" stroke-width="0.9" />
<text x="511.1" y="609.4" font-size="7.2" fill="#222" text-anchor="middle" >Shuffled region</text>
<text x="458.9" y="515.6" font-size="8.9" fill="#433d8a" text-anchor="start" font-weight="bold" textLength="55.5" lengthAdjust="spacingAndGlyphs">Minus strand</text>
<text x="450.7" y="526.0" font-size="7.4" fill="#222">Wilcoxon, <tspan font-style="italic">P</tspan> &lt; 2.2×10<tspan font-size="4.2" dy="-2.8">−16</tspan></text>
</svg>
</body></html>
